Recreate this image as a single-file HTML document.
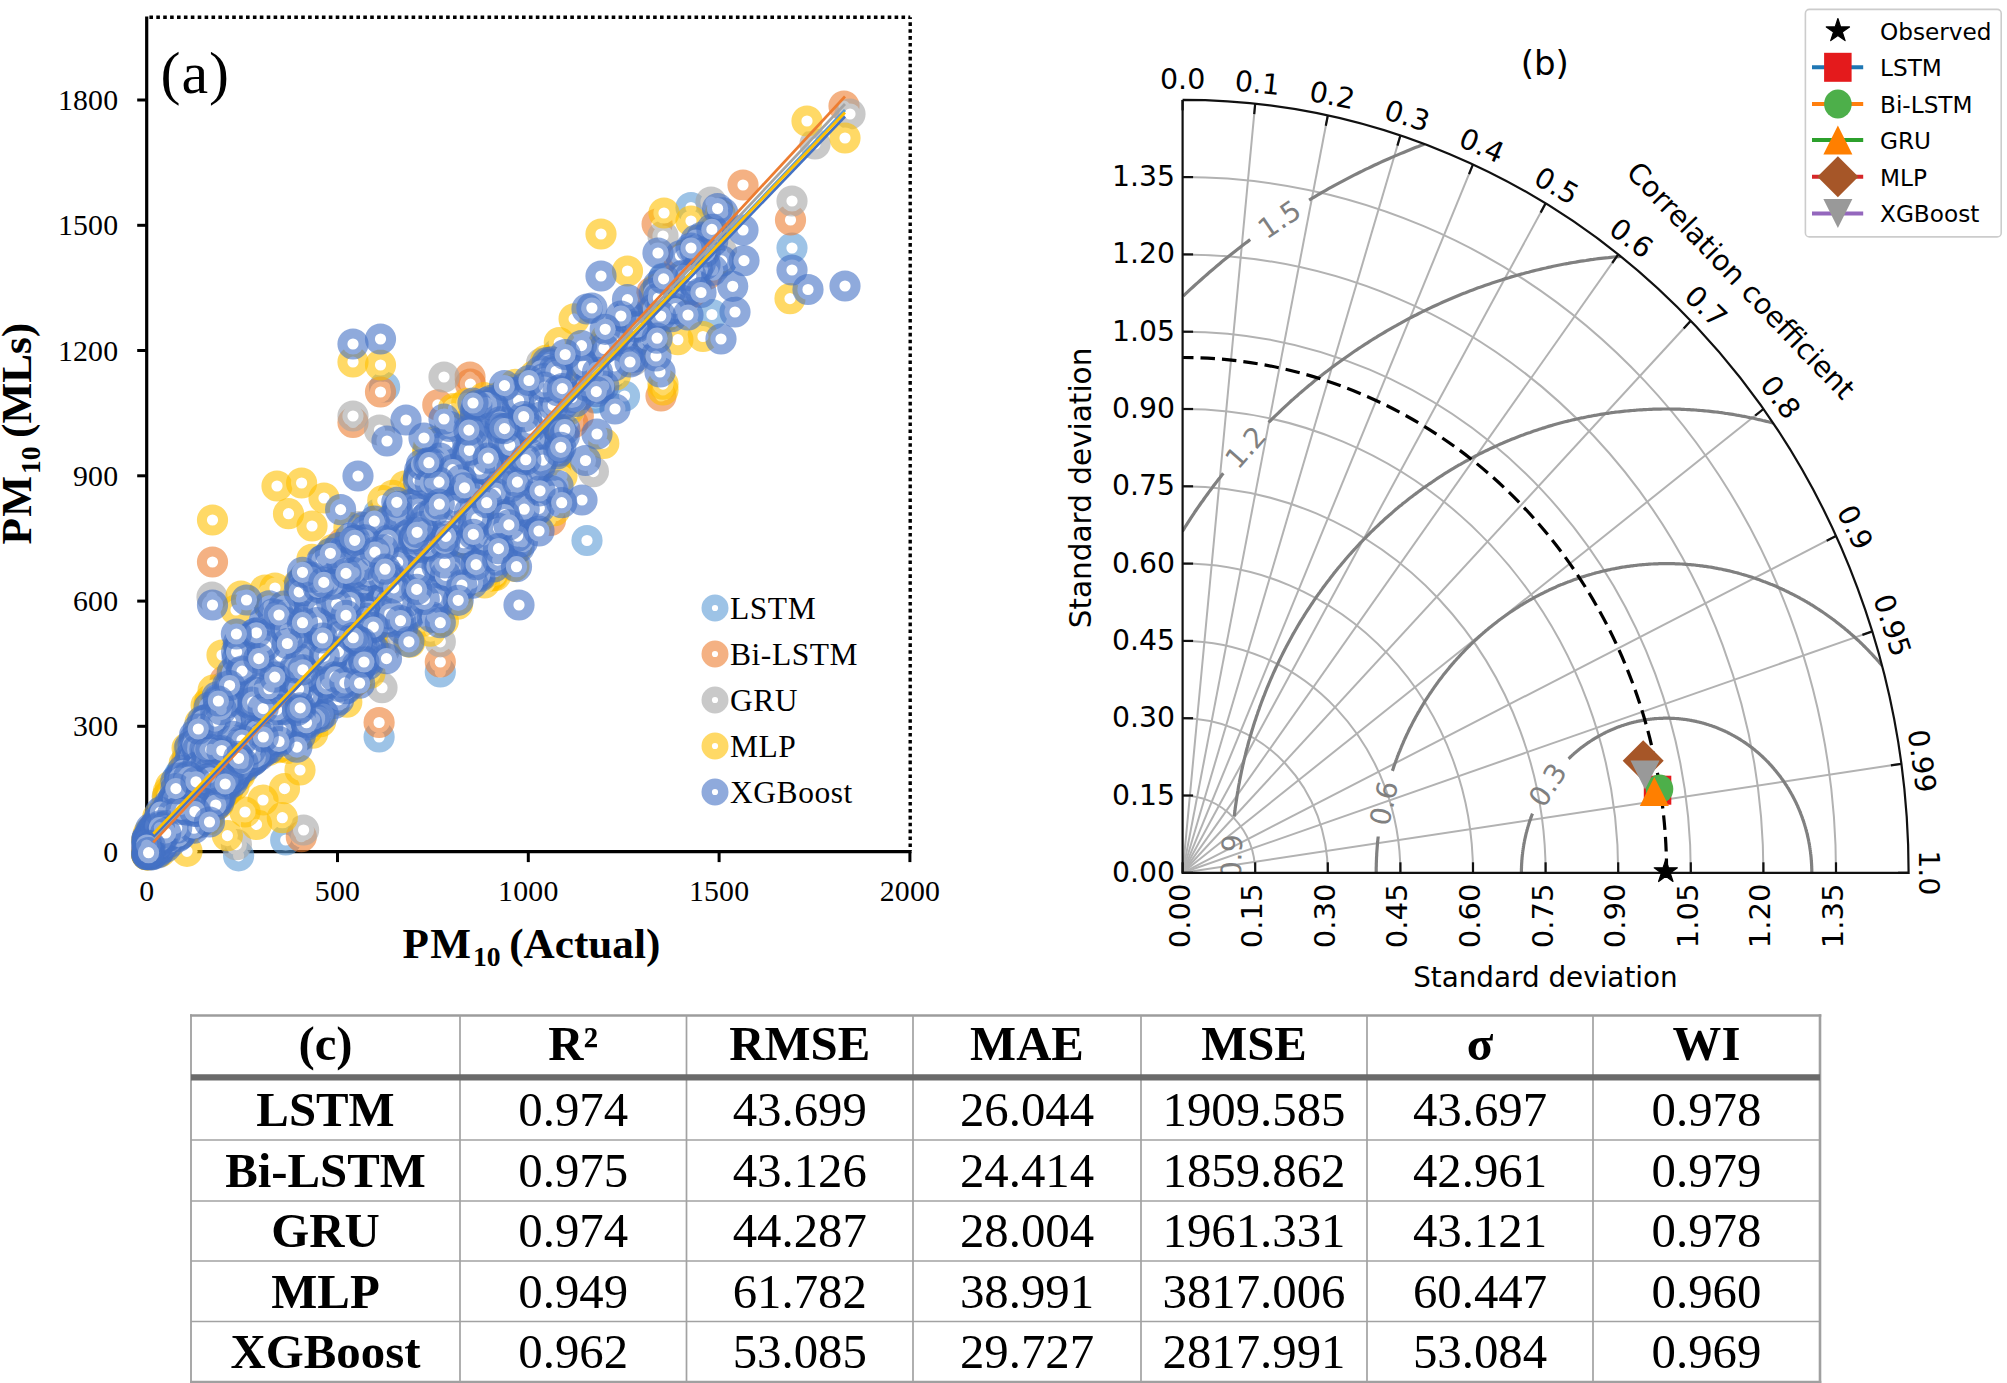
<!DOCTYPE html>
<html lang="en"><head><meta charset="utf-8"><title>Figure</title>
<style>
html,body{margin:0;padding:0;background:#fff;}
body{width:2007px;height:1383px;overflow:hidden;}
svg{display:block;}
.ser{font-family:"Liberation Serif",serif;}
.san{font-family:"DejaVu Sans","Liberation Sans",sans-serif;}
</style></head><body>
<svg width="2007" height="1383" viewBox="0 0 2007 1383">
<rect width="2007" height="1383" fill="#fff"/>
<g id="scatter">
<path d="M910.2 17.2 H148" fill="none" stroke="#000" stroke-width="3.4" stroke-dasharray="3.6 3.3" stroke-dashoffset="1.8"/><path d="M910.2 17.2 V851" fill="none" stroke="#000" stroke-width="3.4" stroke-dasharray="3.6 3.3" stroke-dashoffset="1.8"/>
<path d="M146.7 16.5 V851.6 H911.5" fill="none" stroke="#000" stroke-width="3.2"/>
<g stroke="#000" stroke-width="3">
<path d="M146.7 851.6 v10.5"/>
<path d="M337.5 851.6 v10.5"/>
<path d="M528.3 851.6 v10.5"/>
<path d="M719.1 851.6 v10.5"/>
<path d="M909.9 851.6 v10.5"/>
<path d="M146.7 851.6 h-9.5"/>
<path d="M146.7 726.3 h-9.5"/>
<path d="M146.7 601.1 h-9.5"/>
<path d="M146.7 475.8 h-9.5"/>
<path d="M146.7 350.5 h-9.5"/>
<path d="M146.7 225.3 h-9.5"/>
<path d="M146.7 100 h-9.5"/>
</g>
<g fill="#fff" stroke="#5B9BD5" stroke-opacity="0.6" stroke-width="10">
<circle cx="514.1" cy="429.8" r="10.6"/><circle cx="502.2" cy="552.3" r="10.6"/><circle cx="540.6" cy="412.6" r="10.6"/><circle cx="334.1" cy="594.4" r="10.6"/><circle cx="340.7" cy="644.4" r="10.6"/><circle cx="553.8" cy="379.9" r="10.6"/><circle cx="181.4" cy="785.7" r="10.6"/><circle cx="188" cy="805.8" r="10.6"/><circle cx="155.4" cy="842.9" r="10.6"/><circle cx="319.3" cy="675.7" r="10.6"/><circle cx="233.9" cy="692.3" r="10.6"/><circle cx="460.3" cy="564.7" r="10.6"/><circle cx="499.1" cy="454.9" r="10.6"/><circle cx="269.5" cy="656.8" r="10.6"/><circle cx="159.5" cy="836.7" r="10.6"/><circle cx="481.3" cy="567.5" r="10.6"/><circle cx="538.9" cy="413.6" r="10.6"/><circle cx="324.7" cy="677.1" r="10.6"/><circle cx="248.5" cy="678.8" r="10.6"/><circle cx="199.3" cy="755.1" r="10.6"/><circle cx="254.2" cy="741.5" r="10.6"/><circle cx="292.1" cy="676.9" r="10.6"/><circle cx="225.9" cy="772" r="10.6"/><circle cx="187" cy="758.7" r="10.6"/><circle cx="399.4" cy="558.7" r="10.6"/><circle cx="472.1" cy="571.7" r="10.6"/><circle cx="453.2" cy="424.8" r="10.6"/><circle cx="414.4" cy="542.6" r="10.6"/><circle cx="246" cy="748.5" r="10.6"/><circle cx="258.6" cy="638" r="10.6"/><circle cx="267.1" cy="696.3" r="10.6"/><circle cx="233.6" cy="766" r="10.6"/><circle cx="302.8" cy="630.5" r="10.6"/><circle cx="501.9" cy="414.7" r="10.6"/><circle cx="553.7" cy="395.3" r="10.6"/><circle cx="510" cy="398.7" r="10.6"/><circle cx="721.4" cy="261.2" r="10.6"/><circle cx="336.3" cy="673.9" r="10.6"/><circle cx="172.8" cy="836.8" r="10.6"/><circle cx="468.2" cy="538.9" r="10.6"/><circle cx="425.6" cy="502.7" r="10.6"/><circle cx="198.9" cy="770.5" r="10.6"/><circle cx="361.5" cy="589.9" r="10.6"/><circle cx="476.6" cy="474.1" r="10.6"/><circle cx="233" cy="765.9" r="10.6"/><circle cx="351.2" cy="630.5" r="10.6"/><circle cx="223" cy="783.1" r="10.6"/><circle cx="289" cy="705.7" r="10.6"/><circle cx="454.3" cy="574.8" r="10.6"/><circle cx="591.2" cy="359.5" r="10.6"/><circle cx="256.5" cy="741.8" r="10.6"/><circle cx="222.6" cy="763.2" r="10.6"/><circle cx="156.5" cy="838.4" r="10.6"/><circle cx="344.5" cy="634.3" r="10.6"/><circle cx="353.4" cy="614.1" r="10.6"/><circle cx="166.3" cy="821.3" r="10.6"/><circle cx="166.2" cy="820" r="10.6"/><circle cx="415.2" cy="557.9" r="10.6"/><circle cx="192.5" cy="810.2" r="10.6"/><circle cx="659.9" cy="331.5" r="10.6"/><circle cx="229" cy="746.3" r="10.6"/><circle cx="298.2" cy="714.8" r="10.6"/><circle cx="635.3" cy="344.2" r="10.6"/><circle cx="275.2" cy="722.2" r="10.6"/><circle cx="392.2" cy="602.7" r="10.6"/><circle cx="208.3" cy="727.4" r="10.6"/><circle cx="500.2" cy="438.7" r="10.6"/><circle cx="256.7" cy="742.9" r="10.6"/><circle cx="187" cy="788.7" r="10.6"/><circle cx="466.9" cy="464.9" r="10.6"/><circle cx="149" cy="852.2" r="10.6"/><circle cx="306" cy="638.4" r="10.6"/><circle cx="229.8" cy="778.9" r="10.6"/><circle cx="573.4" cy="382.4" r="10.6"/><circle cx="287.5" cy="611.7" r="10.6"/><circle cx="344.9" cy="640" r="10.6"/><circle cx="441" cy="535.6" r="10.6"/><circle cx="715" cy="229.3" r="10.6"/><circle cx="207.1" cy="806.4" r="10.6"/><circle cx="173.8" cy="829.2" r="10.6"/><circle cx="286.9" cy="644.5" r="10.6"/><circle cx="270.2" cy="673.5" r="10.6"/><circle cx="150.5" cy="840.2" r="10.6"/><circle cx="271.5" cy="724.9" r="10.6"/><circle cx="151.1" cy="831.2" r="10.6"/><circle cx="248.2" cy="728.5" r="10.6"/><circle cx="455.8" cy="493.5" r="10.6"/><circle cx="219.4" cy="783.8" r="10.6"/><circle cx="328.6" cy="584.7" r="10.6"/><circle cx="494.8" cy="452.3" r="10.6"/><circle cx="305.5" cy="671.4" r="10.6"/><circle cx="191.7" cy="794" r="10.6"/><circle cx="451.9" cy="522.4" r="10.6"/><circle cx="225.6" cy="774.1" r="10.6"/><circle cx="309.8" cy="650.6" r="10.6"/><circle cx="192.6" cy="807.4" r="10.6"/><circle cx="342.8" cy="587.1" r="10.6"/><circle cx="175.5" cy="834.6" r="10.6"/><circle cx="281.8" cy="684.2" r="10.6"/><circle cx="286.8" cy="692.6" r="10.6"/><circle cx="248.7" cy="737.8" r="10.6"/><circle cx="188.1" cy="773.9" r="10.6"/><circle cx="278.6" cy="660.6" r="10.6"/><circle cx="303.5" cy="664.6" r="10.6"/><circle cx="244.6" cy="767.4" r="10.6"/><circle cx="340.6" cy="680.5" r="10.6"/><circle cx="164.4" cy="836" r="10.6"/><circle cx="530.1" cy="393" r="10.6"/><circle cx="271.2" cy="724.9" r="10.6"/><circle cx="492.4" cy="456.1" r="10.6"/><circle cx="351.6" cy="682.6" r="10.6"/><circle cx="200.1" cy="820" r="10.6"/><circle cx="248.5" cy="751.2" r="10.6"/><circle cx="543.9" cy="404.9" r="10.6"/><circle cx="336.1" cy="663.1" r="10.6"/><circle cx="389.1" cy="531.8" r="10.6"/><circle cx="409.5" cy="542.9" r="10.6"/><circle cx="475.1" cy="543.6" r="10.6"/><circle cx="316.8" cy="575.6" r="10.6"/><circle cx="169.3" cy="816.1" r="10.6"/><circle cx="421.1" cy="596" r="10.6"/><circle cx="247.4" cy="715.7" r="10.6"/><circle cx="230.5" cy="768.3" r="10.6"/><circle cx="182" cy="771.3" r="10.6"/><circle cx="291.5" cy="683.2" r="10.6"/><circle cx="297" cy="689" r="10.6"/><circle cx="258" cy="699" r="10.6"/><circle cx="463.1" cy="445.8" r="10.6"/><circle cx="502.6" cy="492.1" r="10.6"/><circle cx="359.4" cy="617.7" r="10.6"/><circle cx="278.7" cy="653.3" r="10.6"/><circle cx="200.7" cy="819.9" r="10.6"/><circle cx="349.9" cy="644.9" r="10.6"/><circle cx="288.4" cy="712.2" r="10.6"/><circle cx="540.5" cy="420.2" r="10.6"/><circle cx="175.9" cy="796.7" r="10.6"/><circle cx="214.5" cy="803.6" r="10.6"/><circle cx="299.9" cy="601.8" r="10.6"/><circle cx="440.9" cy="531.4" r="10.6"/><circle cx="263.1" cy="736.8" r="10.6"/><circle cx="282.5" cy="668.7" r="10.6"/><circle cx="495.3" cy="465.3" r="10.6"/><circle cx="293.4" cy="709.9" r="10.6"/><circle cx="334.7" cy="600.7" r="10.6"/><circle cx="484.5" cy="421.3" r="10.6"/><circle cx="689.3" cy="251.3" r="10.6"/><circle cx="163.4" cy="833.6" r="10.6"/><circle cx="228.5" cy="750.5" r="10.6"/><circle cx="264.4" cy="739.1" r="10.6"/><circle cx="224" cy="770.5" r="10.6"/><circle cx="232.1" cy="769.9" r="10.6"/><circle cx="435.4" cy="553.2" r="10.6"/><circle cx="294.4" cy="709.5" r="10.6"/><circle cx="311.3" cy="619.5" r="10.6"/><circle cx="170.8" cy="795" r="10.6"/><circle cx="280.9" cy="683.1" r="10.6"/><circle cx="245" cy="650.5" r="10.6"/><circle cx="203.6" cy="805.3" r="10.6"/><circle cx="321.8" cy="661.1" r="10.6"/><circle cx="262.1" cy="735.2" r="10.6"/><circle cx="249.6" cy="719.2" r="10.6"/><circle cx="246.4" cy="744.7" r="10.6"/><circle cx="347.1" cy="611.5" r="10.6"/><circle cx="286.7" cy="617.6" r="10.6"/><circle cx="394.3" cy="611.8" r="10.6"/><circle cx="181.2" cy="824.8" r="10.6"/><circle cx="264.2" cy="699.4" r="10.6"/><circle cx="196.7" cy="809" r="10.6"/><circle cx="330.1" cy="585.2" r="10.6"/><circle cx="341.6" cy="689.9" r="10.6"/><circle cx="301.3" cy="624.2" r="10.6"/><circle cx="439.2" cy="544.9" r="10.6"/><circle cx="240.9" cy="722.3" r="10.6"/><circle cx="336.3" cy="644.2" r="10.6"/><circle cx="197.8" cy="784.8" r="10.6"/><circle cx="517" cy="487.3" r="10.6"/><circle cx="351.5" cy="661.4" r="10.6"/><circle cx="308.2" cy="647.9" r="10.6"/><circle cx="185" cy="807.6" r="10.6"/><circle cx="180.2" cy="773.9" r="10.6"/><circle cx="379.4" cy="569.5" r="10.6"/><circle cx="488.9" cy="403.2" r="10.6"/><circle cx="179.1" cy="793.6" r="10.6"/><circle cx="176.2" cy="786.1" r="10.6"/><circle cx="428.5" cy="597.5" r="10.6"/><circle cx="157.5" cy="829.9" r="10.6"/><circle cx="259.9" cy="737.5" r="10.6"/><circle cx="366" cy="607.7" r="10.6"/><circle cx="200.4" cy="795.4" r="10.6"/><circle cx="342" cy="616.6" r="10.6"/><circle cx="695.1" cy="272.2" r="10.6"/><circle cx="203.2" cy="770.8" r="10.6"/><circle cx="237.9" cy="753.9" r="10.6"/><circle cx="499.2" cy="523.9" r="10.6"/><circle cx="607.1" cy="380.3" r="10.6"/><circle cx="229.3" cy="763" r="10.6"/><circle cx="155.8" cy="843.1" r="10.6"/><circle cx="247" cy="752.6" r="10.6"/><circle cx="232.2" cy="778.2" r="10.6"/><circle cx="173" cy="789.3" r="10.6"/><circle cx="162.8" cy="839.2" r="10.6"/><circle cx="482.8" cy="532.5" r="10.6"/><circle cx="482.9" cy="518.1" r="10.6"/><circle cx="270.5" cy="713.5" r="10.6"/><circle cx="169.9" cy="833.7" r="10.6"/><circle cx="487.6" cy="554.3" r="10.6"/><circle cx="438.6" cy="604.9" r="10.6"/><circle cx="351.2" cy="684" r="10.6"/><circle cx="318.6" cy="683.7" r="10.6"/><circle cx="235.7" cy="669.9" r="10.6"/><circle cx="178.2" cy="815.3" r="10.6"/><circle cx="205.5" cy="753.6" r="10.6"/><circle cx="492" cy="534.8" r="10.6"/><circle cx="148" cy="845.8" r="10.6"/><circle cx="251.5" cy="742.1" r="10.6"/><circle cx="482.8" cy="478.1" r="10.6"/><circle cx="529.7" cy="397.1" r="10.6"/><circle cx="551.7" cy="385.4" r="10.6"/><circle cx="238.6" cy="753.5" r="10.6"/><circle cx="262.5" cy="678.9" r="10.6"/><circle cx="195.5" cy="799.2" r="10.6"/><circle cx="242.9" cy="751.4" r="10.6"/><circle cx="284.1" cy="715.9" r="10.6"/><circle cx="385.1" cy="614.6" r="10.6"/><circle cx="226.7" cy="725.1" r="10.6"/><circle cx="327.4" cy="697.6" r="10.6"/><circle cx="554.3" cy="496.6" r="10.6"/><circle cx="505.8" cy="398.8" r="10.6"/><circle cx="211.7" cy="763.2" r="10.6"/><circle cx="224.9" cy="780.4" r="10.6"/><circle cx="494.5" cy="481.3" r="10.6"/><circle cx="179.6" cy="778.4" r="10.6"/><circle cx="441.6" cy="553.9" r="10.6"/><circle cx="263.5" cy="630" r="10.6"/><circle cx="243" cy="749.7" r="10.6"/><circle cx="380.3" cy="645.9" r="10.6"/><circle cx="273.2" cy="705.2" r="10.6"/><circle cx="150.3" cy="840.7" r="10.6"/><circle cx="456" cy="565.6" r="10.6"/><circle cx="309.1" cy="595.6" r="10.6"/><circle cx="676.6" cy="290" r="10.6"/><circle cx="322.9" cy="578" r="10.6"/><circle cx="248.7" cy="737.8" r="10.6"/><circle cx="299.1" cy="697.5" r="10.6"/><circle cx="538.5" cy="456" r="10.6"/><circle cx="544.5" cy="487.6" r="10.6"/><circle cx="324.8" cy="608.4" r="10.6"/><circle cx="228.7" cy="772.1" r="10.6"/><circle cx="156.5" cy="849.3" r="10.6"/><circle cx="150.2" cy="835.8" r="10.6"/><circle cx="443.2" cy="479.3" r="10.6"/><circle cx="268.2" cy="634.9" r="10.6"/><circle cx="605.8" cy="384.9" r="10.6"/><circle cx="663.7" cy="277.8" r="10.6"/><circle cx="304.4" cy="635.8" r="10.6"/><circle cx="325.1" cy="566.9" r="10.6"/><circle cx="214.6" cy="780.9" r="10.6"/><circle cx="544.2" cy="385.6" r="10.6"/><circle cx="257.6" cy="679.5" r="10.6"/><circle cx="536.8" cy="384.1" r="10.6"/><circle cx="357.8" cy="563.3" r="10.6"/><circle cx="353.5" cy="630.6" r="10.6"/><circle cx="151.7" cy="841" r="10.6"/><circle cx="219.9" cy="796" r="10.6"/><circle cx="532.2" cy="409.7" r="10.6"/><circle cx="408.7" cy="630.1" r="10.6"/><circle cx="276.5" cy="719.2" r="10.6"/><circle cx="519.2" cy="433.5" r="10.6"/><circle cx="235.6" cy="758.2" r="10.6"/><circle cx="320.9" cy="694.8" r="10.6"/><circle cx="172.2" cy="832" r="10.6"/><circle cx="592.5" cy="357.2" r="10.6"/><circle cx="495.6" cy="495.1" r="10.6"/><circle cx="451.4" cy="585.5" r="10.6"/><circle cx="223.6" cy="687.2" r="10.6"/><circle cx="360.1" cy="594" r="10.6"/><circle cx="470.1" cy="492.1" r="10.6"/><circle cx="232.8" cy="760" r="10.6"/><circle cx="554.1" cy="439.4" r="10.6"/><circle cx="201.3" cy="794.2" r="10.6"/><circle cx="286" cy="679.8" r="10.6"/><circle cx="329.7" cy="636.3" r="10.6"/><circle cx="259.7" cy="734.3" r="10.6"/><circle cx="311.5" cy="679.2" r="10.6"/><circle cx="420.8" cy="503.5" r="10.6"/><circle cx="188" cy="768.1" r="10.6"/><circle cx="178.8" cy="798.4" r="10.6"/><circle cx="707.2" cy="246.1" r="10.6"/><circle cx="170.7" cy="821.7" r="10.6"/><circle cx="362.8" cy="558.8" r="10.6"/><circle cx="177" cy="826.4" r="10.6"/><circle cx="598.7" cy="390.2" r="10.6"/><circle cx="304.8" cy="679.1" r="10.6"/><circle cx="203.9" cy="758.9" r="10.6"/><circle cx="397.5" cy="574.6" r="10.6"/><circle cx="503.4" cy="464.3" r="10.6"/><circle cx="363.4" cy="671.9" r="10.6"/><circle cx="153.4" cy="839.6" r="10.6"/><circle cx="339.1" cy="629.9" r="10.6"/><circle cx="180.8" cy="821" r="10.6"/><circle cx="215" cy="795.1" r="10.6"/><circle cx="224.8" cy="727.3" r="10.6"/><circle cx="208.2" cy="805.1" r="10.6"/><circle cx="595.5" cy="397.4" r="10.6"/><circle cx="207.2" cy="799.1" r="10.6"/><circle cx="528.8" cy="444.7" r="10.6"/><circle cx="273" cy="682.4" r="10.6"/><circle cx="209.3" cy="815.7" r="10.6"/><circle cx="320.9" cy="658.4" r="10.6"/><circle cx="210.6" cy="792.9" r="10.6"/><circle cx="215.5" cy="780.1" r="10.6"/><circle cx="456.5" cy="521.1" r="10.6"/><circle cx="285.1" cy="639.5" r="10.6"/><circle cx="321.6" cy="661.1" r="10.6"/><circle cx="314.2" cy="582.9" r="10.6"/><circle cx="306.1" cy="654" r="10.6"/><circle cx="217.6" cy="723.7" r="10.6"/><circle cx="337.2" cy="677.8" r="10.6"/><circle cx="354.2" cy="653.5" r="10.6"/><circle cx="207.5" cy="786.4" r="10.6"/><circle cx="204" cy="734.2" r="10.6"/><circle cx="367" cy="616.5" r="10.6"/><circle cx="246.7" cy="760.3" r="10.6"/><circle cx="497.3" cy="459.2" r="10.6"/><circle cx="241.5" cy="768.1" r="10.6"/><circle cx="474.8" cy="545.1" r="10.6"/><circle cx="682" cy="273.6" r="10.6"/><circle cx="547.5" cy="486.9" r="10.6"/><circle cx="362" cy="594.1" r="10.6"/><circle cx="481.3" cy="564.1" r="10.6"/><circle cx="207.5" cy="774.5" r="10.6"/><circle cx="438.5" cy="481.6" r="10.6"/><circle cx="405.4" cy="532.5" r="10.6"/><circle cx="225.8" cy="753.5" r="10.6"/><circle cx="294.4" cy="726" r="10.6"/><circle cx="452.8" cy="589.7" r="10.6"/><circle cx="235.5" cy="692.6" r="10.6"/><circle cx="390.3" cy="641.3" r="10.6"/><circle cx="437.8" cy="587.3" r="10.6"/><circle cx="603.1" cy="368.1" r="10.6"/><circle cx="220.6" cy="785.6" r="10.6"/><circle cx="637.6" cy="351" r="10.6"/><circle cx="223" cy="780.5" r="10.6"/><circle cx="281.4" cy="730.3" r="10.6"/><circle cx="380" cy="566.7" r="10.6"/><circle cx="225.9" cy="775.7" r="10.6"/><circle cx="155.3" cy="845.8" r="10.6"/><circle cx="260.1" cy="722" r="10.6"/><circle cx="227.6" cy="770.1" r="10.6"/><circle cx="160.6" cy="840" r="10.6"/><circle cx="360.5" cy="528.8" r="10.6"/><circle cx="153.8" cy="848.5" r="10.6"/><circle cx="177.5" cy="778.6" r="10.6"/><circle cx="559.2" cy="406.4" r="10.6"/><circle cx="456.3" cy="507.6" r="10.6"/><circle cx="470" cy="481.5" r="10.6"/><circle cx="361.9" cy="544.8" r="10.6"/><circle cx="467.9" cy="514.8" r="10.6"/><circle cx="205" cy="790.6" r="10.6"/><circle cx="511.4" cy="494" r="10.6"/><circle cx="195.7" cy="818.6" r="10.6"/><circle cx="463.7" cy="491.5" r="10.6"/><circle cx="158.1" cy="852.2" r="10.6"/><circle cx="170.6" cy="834.6" r="10.6"/><circle cx="381.7" cy="625" r="10.6"/><circle cx="206.6" cy="804.8" r="10.6"/><circle cx="534.2" cy="432.4" r="10.6"/><circle cx="434.3" cy="584.1" r="10.6"/><circle cx="187.9" cy="763.7" r="10.6"/><circle cx="250.2" cy="682.4" r="10.6"/><circle cx="263.9" cy="670.7" r="10.6"/><circle cx="362" cy="574.4" r="10.6"/><circle cx="308.2" cy="579.8" r="10.6"/><circle cx="499.7" cy="551.6" r="10.6"/><circle cx="181.6" cy="824.2" r="10.6"/><circle cx="393" cy="545.4" r="10.6"/><circle cx="457.4" cy="491.5" r="10.6"/><circle cx="305.3" cy="608.3" r="10.6"/><circle cx="206.2" cy="790.9" r="10.6"/><circle cx="167.8" cy="835.7" r="10.6"/><circle cx="464.6" cy="437.1" r="10.6"/><circle cx="199.2" cy="815" r="10.6"/><circle cx="201.4" cy="819.8" r="10.6"/><circle cx="265" cy="736.6" r="10.6"/><circle cx="395.7" cy="628.6" r="10.6"/><circle cx="339.2" cy="556.4" r="10.6"/><circle cx="169.9" cy="813.5" r="10.6"/><circle cx="256.1" cy="753.3" r="10.6"/><circle cx="358.3" cy="592.5" r="10.6"/><circle cx="293" cy="724.6" r="10.6"/><circle cx="275.4" cy="739.9" r="10.6"/><circle cx="284.4" cy="731.8" r="10.6"/><circle cx="454" cy="567.8" r="10.6"/><circle cx="459.5" cy="518.9" r="10.6"/><circle cx="479.9" cy="490.3" r="10.6"/><circle cx="493.6" cy="543.4" r="10.6"/><circle cx="500.2" cy="472.7" r="10.6"/><circle cx="368.3" cy="581.1" r="10.6"/><circle cx="462.4" cy="497.7" r="10.6"/><circle cx="383" cy="569.6" r="10.6"/><circle cx="512.2" cy="464.3" r="10.6"/><circle cx="336.7" cy="646.6" r="10.6"/><circle cx="177.5" cy="792.9" r="10.6"/><circle cx="235.4" cy="664.5" r="10.6"/><circle cx="388.5" cy="592.2" r="10.6"/><circle cx="259.3" cy="669.9" r="10.6"/><circle cx="181.2" cy="801.6" r="10.6"/><circle cx="331.3" cy="566.8" r="10.6"/><circle cx="289.8" cy="704.2" r="10.6"/><circle cx="184.9" cy="800.9" r="10.6"/><circle cx="276.4" cy="657.3" r="10.6"/><circle cx="236.2" cy="768.3" r="10.6"/><circle cx="181.6" cy="806.1" r="10.6"/><circle cx="378.7" cy="513.6" r="10.6"/><circle cx="315.7" cy="671.9" r="10.6"/><circle cx="275.3" cy="664.5" r="10.6"/><circle cx="304.9" cy="676.7" r="10.6"/><circle cx="406.4" cy="610.4" r="10.6"/><circle cx="441" cy="487.1" r="10.6"/><circle cx="342.3" cy="562.5" r="10.6"/><circle cx="391.4" cy="622.7" r="10.6"/><circle cx="474.9" cy="552.1" r="10.6"/><circle cx="227.8" cy="772.8" r="10.6"/><circle cx="335.9" cy="597.1" r="10.6"/><circle cx="148.5" cy="851.4" r="10.6"/><circle cx="288.5" cy="705.4" r="10.6"/><circle cx="465.4" cy="505.5" r="10.6"/><circle cx="208.9" cy="816" r="10.6"/><circle cx="214.3" cy="743" r="10.6"/><circle cx="424" cy="585.1" r="10.6"/><circle cx="305.7" cy="614.9" r="10.6"/><circle cx="182.7" cy="820.6" r="10.6"/><circle cx="245.1" cy="668" r="10.6"/><circle cx="322.2" cy="633.3" r="10.6"/><circle cx="477.7" cy="547.5" r="10.6"/><circle cx="595.5" cy="398.1" r="10.6"/><circle cx="557.4" cy="353.8" r="10.6"/><circle cx="486.1" cy="490.1" r="10.6"/><circle cx="332.6" cy="699.9" r="10.6"/><circle cx="423" cy="605.1" r="10.6"/><circle cx="229.8" cy="781.6" r="10.6"/><circle cx="285.7" cy="840" r="10.6"/><circle cx="238.6" cy="855.8" r="10.6"/><circle cx="379.1" cy="737" r="10.6"/><circle cx="440.3" cy="672" r="10.6"/><circle cx="792" cy="248" r="10.6"/><circle cx="587" cy="540.5" r="10.6"/><circle cx="384.6" cy="387" r="10.6"/><circle cx="691" cy="207.5" r="10.6"/><circle cx="711.9" cy="314.5" r="10.6"/><circle cx="624.5" cy="396" r="10.6"/>
</g>
<g fill="#fff" stroke="#ED7D31" stroke-opacity="0.6" stroke-width="10">
<circle cx="285.6" cy="723.4" r="10.6"/><circle cx="527.2" cy="424.6" r="10.6"/><circle cx="324.4" cy="658.5" r="10.6"/><circle cx="406.9" cy="600.9" r="10.6"/><circle cx="333.9" cy="697.5" r="10.6"/><circle cx="578.3" cy="416.1" r="10.6"/><circle cx="160.5" cy="820.6" r="10.6"/><circle cx="257.7" cy="642.6" r="10.6"/><circle cx="220.2" cy="761.2" r="10.6"/><circle cx="463.6" cy="458.6" r="10.6"/><circle cx="222.6" cy="758.8" r="10.6"/><circle cx="283.5" cy="626.2" r="10.6"/><circle cx="469.8" cy="486.8" r="10.6"/><circle cx="220.2" cy="710.8" r="10.6"/><circle cx="243.5" cy="722.3" r="10.6"/><circle cx="189.1" cy="786.7" r="10.6"/><circle cx="312.8" cy="644.5" r="10.6"/><circle cx="372.8" cy="579.7" r="10.6"/><circle cx="300.5" cy="595.4" r="10.6"/><circle cx="211.1" cy="782.3" r="10.6"/><circle cx="409.6" cy="493.9" r="10.6"/><circle cx="400.7" cy="599" r="10.6"/><circle cx="309.1" cy="580.9" r="10.6"/><circle cx="366.9" cy="657" r="10.6"/><circle cx="204.5" cy="754.3" r="10.6"/><circle cx="161.9" cy="835.1" r="10.6"/><circle cx="356.3" cy="566.8" r="10.6"/><circle cx="327.9" cy="660" r="10.6"/><circle cx="391.4" cy="638.3" r="10.6"/><circle cx="232.3" cy="768.4" r="10.6"/><circle cx="551.8" cy="417.2" r="10.6"/><circle cx="324.8" cy="656.8" r="10.6"/><circle cx="399.9" cy="563.3" r="10.6"/><circle cx="232.4" cy="762.4" r="10.6"/><circle cx="185.2" cy="793.9" r="10.6"/><circle cx="432.6" cy="582.7" r="10.6"/><circle cx="482" cy="514.5" r="10.6"/><circle cx="368.6" cy="534.8" r="10.6"/><circle cx="290.3" cy="601.8" r="10.6"/><circle cx="430.2" cy="529.4" r="10.6"/><circle cx="250.6" cy="642.7" r="10.6"/><circle cx="260.5" cy="746.2" r="10.6"/><circle cx="258.3" cy="709.5" r="10.6"/><circle cx="508.9" cy="418" r="10.6"/><circle cx="415.2" cy="507.9" r="10.6"/><circle cx="187.5" cy="824.3" r="10.6"/><circle cx="503.4" cy="432.7" r="10.6"/><circle cx="480" cy="449.9" r="10.6"/><circle cx="491.3" cy="533" r="10.6"/><circle cx="529.2" cy="428.8" r="10.6"/><circle cx="410.2" cy="578.6" r="10.6"/><circle cx="299.9" cy="679.6" r="10.6"/><circle cx="184.1" cy="775.5" r="10.6"/><circle cx="180.7" cy="799.9" r="10.6"/><circle cx="273.5" cy="732.4" r="10.6"/><circle cx="392.6" cy="629.2" r="10.6"/><circle cx="243.1" cy="750.6" r="10.6"/><circle cx="354.2" cy="547.8" r="10.6"/><circle cx="219.6" cy="782.4" r="10.6"/><circle cx="167" cy="836.9" r="10.6"/><circle cx="316.9" cy="671.5" r="10.6"/><circle cx="390.4" cy="593" r="10.6"/><circle cx="558" cy="386.4" r="10.6"/><circle cx="517.6" cy="439.6" r="10.6"/><circle cx="402.9" cy="608.1" r="10.6"/><circle cx="204.1" cy="803.6" r="10.6"/><circle cx="300.6" cy="725.2" r="10.6"/><circle cx="150.8" cy="849.5" r="10.6"/><circle cx="182.3" cy="821.5" r="10.6"/><circle cx="553.7" cy="361.2" r="10.6"/><circle cx="251.5" cy="652.7" r="10.6"/><circle cx="158.5" cy="849.7" r="10.6"/><circle cx="258.2" cy="720.9" r="10.6"/><circle cx="537.8" cy="497.8" r="10.6"/><circle cx="337.3" cy="696.7" r="10.6"/><circle cx="254" cy="754.2" r="10.6"/><circle cx="170.7" cy="814.4" r="10.6"/><circle cx="178.7" cy="797.7" r="10.6"/><circle cx="209.5" cy="743.5" r="10.6"/><circle cx="189.7" cy="774.8" r="10.6"/><circle cx="288.3" cy="732.3" r="10.6"/><circle cx="342.4" cy="654.3" r="10.6"/><circle cx="437.1" cy="544.1" r="10.6"/><circle cx="211.2" cy="744.7" r="10.6"/><circle cx="286.1" cy="674.9" r="10.6"/><circle cx="195" cy="758.2" r="10.6"/><circle cx="192.7" cy="744.7" r="10.6"/><circle cx="328.2" cy="665.4" r="10.6"/><circle cx="218" cy="774.7" r="10.6"/><circle cx="258.2" cy="745.6" r="10.6"/><circle cx="472.3" cy="427" r="10.6"/><circle cx="558.8" cy="355.8" r="10.6"/><circle cx="426.8" cy="543.2" r="10.6"/><circle cx="200" cy="749.4" r="10.6"/><circle cx="523.1" cy="403" r="10.6"/><circle cx="203" cy="799.9" r="10.6"/><circle cx="234.5" cy="743.6" r="10.6"/><circle cx="405.2" cy="575.9" r="10.6"/><circle cx="506.5" cy="415.2" r="10.6"/><circle cx="146.9" cy="848.3" r="10.6"/><circle cx="200.7" cy="794.1" r="10.6"/><circle cx="370.5" cy="582.2" r="10.6"/><circle cx="333.3" cy="680" r="10.6"/><circle cx="543.6" cy="461.2" r="10.6"/><circle cx="173.4" cy="804.8" r="10.6"/><circle cx="320.1" cy="663.7" r="10.6"/><circle cx="149.4" cy="853.6" r="10.6"/><circle cx="240.5" cy="746.3" r="10.6"/><circle cx="320.4" cy="685.4" r="10.6"/><circle cx="217" cy="703" r="10.6"/><circle cx="290.5" cy="692.6" r="10.6"/><circle cx="622" cy="335.8" r="10.6"/><circle cx="194.8" cy="806.4" r="10.6"/><circle cx="193.5" cy="813.4" r="10.6"/><circle cx="298.6" cy="659.8" r="10.6"/><circle cx="518.7" cy="406.2" r="10.6"/><circle cx="265.1" cy="652.8" r="10.6"/><circle cx="195.2" cy="812.8" r="10.6"/><circle cx="234.6" cy="719" r="10.6"/><circle cx="156.6" cy="827.6" r="10.6"/><circle cx="163.7" cy="817.1" r="10.6"/><circle cx="174.3" cy="834.5" r="10.6"/><circle cx="159.3" cy="829.6" r="10.6"/><circle cx="409.4" cy="621.8" r="10.6"/><circle cx="452.7" cy="517.6" r="10.6"/><circle cx="283.6" cy="642" r="10.6"/><circle cx="367.8" cy="611" r="10.6"/><circle cx="625.9" cy="355" r="10.6"/><circle cx="318.9" cy="623.5" r="10.6"/><circle cx="194.8" cy="764.4" r="10.6"/><circle cx="147" cy="853.1" r="10.6"/><circle cx="211.9" cy="763.8" r="10.6"/><circle cx="322.6" cy="629.8" r="10.6"/><circle cx="173.2" cy="835.5" r="10.6"/><circle cx="443" cy="493.1" r="10.6"/><circle cx="707.3" cy="274.1" r="10.6"/><circle cx="393.3" cy="606.6" r="10.6"/><circle cx="290.9" cy="686.3" r="10.6"/><circle cx="506.1" cy="398.2" r="10.6"/><circle cx="275.6" cy="672.2" r="10.6"/><circle cx="405.5" cy="603.5" r="10.6"/><circle cx="351.6" cy="654.9" r="10.6"/><circle cx="148.7" cy="844.3" r="10.6"/><circle cx="375.7" cy="642.5" r="10.6"/><circle cx="387.7" cy="599.7" r="10.6"/><circle cx="295.5" cy="733.8" r="10.6"/><circle cx="314.6" cy="687.8" r="10.6"/><circle cx="555.1" cy="401.2" r="10.6"/><circle cx="215.1" cy="790" r="10.6"/><circle cx="449.3" cy="526.1" r="10.6"/><circle cx="541.6" cy="415.1" r="10.6"/><circle cx="500.8" cy="540.7" r="10.6"/><circle cx="171.4" cy="825" r="10.6"/><circle cx="368.8" cy="592" r="10.6"/><circle cx="690.9" cy="292.9" r="10.6"/><circle cx="286" cy="606.2" r="10.6"/><circle cx="395" cy="549.8" r="10.6"/><circle cx="220.4" cy="774.2" r="10.6"/><circle cx="237.8" cy="689.6" r="10.6"/><circle cx="153.1" cy="851.7" r="10.6"/><circle cx="699.5" cy="245.4" r="10.6"/><circle cx="420.7" cy="549" r="10.6"/><circle cx="170.7" cy="815.5" r="10.6"/><circle cx="299.3" cy="668.7" r="10.6"/><circle cx="323.6" cy="666.3" r="10.6"/><circle cx="434.8" cy="605.5" r="10.6"/><circle cx="234.3" cy="766.7" r="10.6"/><circle cx="279.8" cy="701.1" r="10.6"/><circle cx="296.3" cy="594.9" r="10.6"/><circle cx="236.7" cy="758.1" r="10.6"/><circle cx="307.3" cy="582.9" r="10.6"/><circle cx="186.8" cy="762.4" r="10.6"/><circle cx="321.3" cy="700.3" r="10.6"/><circle cx="226.6" cy="785.3" r="10.6"/><circle cx="703.2" cy="247.3" r="10.6"/><circle cx="149.4" cy="851.5" r="10.6"/><circle cx="316.6" cy="700.2" r="10.6"/><circle cx="286.2" cy="712.8" r="10.6"/><circle cx="303.4" cy="714.3" r="10.6"/><circle cx="352" cy="683.7" r="10.6"/><circle cx="349.7" cy="554.5" r="10.6"/><circle cx="520.9" cy="498.5" r="10.6"/><circle cx="515.2" cy="481.9" r="10.6"/><circle cx="423.5" cy="560.8" r="10.6"/><circle cx="266.8" cy="663.5" r="10.6"/><circle cx="419.5" cy="503.6" r="10.6"/><circle cx="153.6" cy="843.9" r="10.6"/><circle cx="212.8" cy="718" r="10.6"/><circle cx="517.7" cy="493.8" r="10.6"/><circle cx="524.9" cy="440.5" r="10.6"/><circle cx="225.1" cy="680.6" r="10.6"/><circle cx="357.7" cy="677.2" r="10.6"/><circle cx="399.1" cy="526.8" r="10.6"/><circle cx="154.4" cy="845.7" r="10.6"/><circle cx="391.3" cy="591.8" r="10.6"/><circle cx="419.3" cy="522.3" r="10.6"/><circle cx="446.6" cy="524.7" r="10.6"/><circle cx="287.7" cy="648.7" r="10.6"/><circle cx="342.4" cy="599.2" r="10.6"/><circle cx="471.4" cy="474.6" r="10.6"/><circle cx="391.3" cy="562.9" r="10.6"/><circle cx="271.5" cy="721.9" r="10.6"/><circle cx="232" cy="780.8" r="10.6"/><circle cx="362.8" cy="605.4" r="10.6"/><circle cx="285.9" cy="615.5" r="10.6"/><circle cx="245.2" cy="763.2" r="10.6"/><circle cx="465.4" cy="568.8" r="10.6"/><circle cx="192.3" cy="825.3" r="10.6"/><circle cx="150.3" cy="851.3" r="10.6"/><circle cx="210" cy="799.9" r="10.6"/><circle cx="412.7" cy="568.6" r="10.6"/><circle cx="328.9" cy="568.6" r="10.6"/><circle cx="294.8" cy="733.7" r="10.6"/><circle cx="458.6" cy="566.4" r="10.6"/><circle cx="244" cy="757.9" r="10.6"/><circle cx="150.8" cy="851.2" r="10.6"/><circle cx="433.5" cy="455.5" r="10.6"/><circle cx="505.2" cy="464" r="10.6"/><circle cx="345" cy="580.3" r="10.6"/><circle cx="205.3" cy="798.9" r="10.6"/><circle cx="153.8" cy="839.9" r="10.6"/><circle cx="549.9" cy="442.8" r="10.6"/><circle cx="626.3" cy="337" r="10.6"/><circle cx="363.9" cy="635.2" r="10.6"/><circle cx="246.5" cy="755.3" r="10.6"/><circle cx="266.9" cy="703.4" r="10.6"/><circle cx="176.2" cy="795.5" r="10.6"/><circle cx="342.7" cy="645.6" r="10.6"/><circle cx="342.6" cy="543.2" r="10.6"/><circle cx="261.1" cy="753.1" r="10.6"/><circle cx="151.9" cy="848.9" r="10.6"/><circle cx="226.7" cy="720.4" r="10.6"/><circle cx="487.6" cy="515.4" r="10.6"/><circle cx="148.4" cy="854.1" r="10.6"/><circle cx="303" cy="638.9" r="10.6"/><circle cx="302" cy="721.8" r="10.6"/><circle cx="341.6" cy="564.8" r="10.6"/><circle cx="206.3" cy="787.8" r="10.6"/><circle cx="380.2" cy="566.7" r="10.6"/><circle cx="314.9" cy="655.5" r="10.6"/><circle cx="157.8" cy="844.8" r="10.6"/><circle cx="230.9" cy="771" r="10.6"/><circle cx="551.8" cy="449.9" r="10.6"/><circle cx="153.6" cy="848.5" r="10.6"/><circle cx="256.9" cy="714.5" r="10.6"/><circle cx="222.8" cy="740.8" r="10.6"/><circle cx="486.2" cy="520.5" r="10.6"/><circle cx="185.5" cy="824.1" r="10.6"/><circle cx="241.4" cy="751.8" r="10.6"/><circle cx="452.2" cy="523.9" r="10.6"/><circle cx="154.2" cy="847.4" r="10.6"/><circle cx="341.6" cy="662.5" r="10.6"/><circle cx="352.8" cy="590.7" r="10.6"/><circle cx="237.1" cy="770.4" r="10.6"/><circle cx="523.9" cy="455.3" r="10.6"/><circle cx="380.1" cy="536.2" r="10.6"/><circle cx="283.9" cy="712.2" r="10.6"/><circle cx="239.9" cy="759.8" r="10.6"/><circle cx="462.1" cy="561.9" r="10.6"/><circle cx="699.2" cy="273.1" r="10.6"/><circle cx="206.7" cy="767.6" r="10.6"/><circle cx="501.5" cy="437.9" r="10.6"/><circle cx="315.9" cy="659.7" r="10.6"/><circle cx="498.9" cy="539.9" r="10.6"/><circle cx="308.4" cy="583.1" r="10.6"/><circle cx="291.2" cy="718.8" r="10.6"/><circle cx="442.3" cy="512.4" r="10.6"/><circle cx="332.8" cy="688.7" r="10.6"/><circle cx="281.7" cy="719.8" r="10.6"/><circle cx="529.2" cy="486.1" r="10.6"/><circle cx="290.5" cy="683.7" r="10.6"/><circle cx="252.9" cy="742.8" r="10.6"/><circle cx="186.9" cy="805.5" r="10.6"/><circle cx="257.6" cy="755.5" r="10.6"/><circle cx="202.2" cy="731.9" r="10.6"/><circle cx="250.5" cy="736.9" r="10.6"/><circle cx="551" cy="403.1" r="10.6"/><circle cx="176.6" cy="801.5" r="10.6"/><circle cx="285.7" cy="707.1" r="10.6"/><circle cx="256.8" cy="712.1" r="10.6"/><circle cx="148.1" cy="847.2" r="10.6"/><circle cx="220.4" cy="785.2" r="10.6"/><circle cx="217.2" cy="748.3" r="10.6"/><circle cx="343.4" cy="563.2" r="10.6"/><circle cx="490.5" cy="420.1" r="10.6"/><circle cx="275.2" cy="723.7" r="10.6"/><circle cx="331.3" cy="623.7" r="10.6"/><circle cx="205.4" cy="808.3" r="10.6"/><circle cx="149.2" cy="845" r="10.6"/><circle cx="317.3" cy="691" r="10.6"/><circle cx="360.6" cy="558.1" r="10.6"/><circle cx="632.6" cy="314.7" r="10.6"/><circle cx="285.9" cy="711.6" r="10.6"/><circle cx="372.2" cy="651.6" r="10.6"/><circle cx="252.1" cy="740.8" r="10.6"/><circle cx="694.4" cy="281" r="10.6"/><circle cx="369.9" cy="642.2" r="10.6"/><circle cx="662.1" cy="291.2" r="10.6"/><circle cx="184.5" cy="821" r="10.6"/><circle cx="243.9" cy="764.5" r="10.6"/><circle cx="380.1" cy="582.1" r="10.6"/><circle cx="181.4" cy="817.2" r="10.6"/><circle cx="352.4" cy="665.2" r="10.6"/><circle cx="458.8" cy="431.5" r="10.6"/><circle cx="711" cy="235.9" r="10.6"/><circle cx="225.4" cy="700.2" r="10.6"/><circle cx="294.6" cy="633.6" r="10.6"/><circle cx="266.8" cy="733.5" r="10.6"/><circle cx="596.5" cy="361.8" r="10.6"/><circle cx="651.9" cy="292.4" r="10.6"/><circle cx="306.2" cy="720.7" r="10.6"/><circle cx="328" cy="609.8" r="10.6"/><circle cx="519.2" cy="398.1" r="10.6"/><circle cx="247.2" cy="690.4" r="10.6"/><circle cx="284.6" cy="737.5" r="10.6"/><circle cx="283.5" cy="734.9" r="10.6"/><circle cx="293.7" cy="710.9" r="10.6"/><circle cx="167.7" cy="810.8" r="10.6"/><circle cx="177.3" cy="828.2" r="10.6"/><circle cx="587.3" cy="382.3" r="10.6"/><circle cx="171.2" cy="799.1" r="10.6"/><circle cx="337.8" cy="587.9" r="10.6"/><circle cx="267.1" cy="723.6" r="10.6"/><circle cx="278.4" cy="676.2" r="10.6"/><circle cx="405.9" cy="613.3" r="10.6"/><circle cx="207.5" cy="787.3" r="10.6"/><circle cx="347.7" cy="638.5" r="10.6"/><circle cx="450.2" cy="526.4" r="10.6"/><circle cx="292.4" cy="656.2" r="10.6"/><circle cx="267.5" cy="736.9" r="10.6"/><circle cx="189.8" cy="826.2" r="10.6"/><circle cx="287.8" cy="719.2" r="10.6"/><circle cx="332.4" cy="602.7" r="10.6"/><circle cx="282.6" cy="717.6" r="10.6"/><circle cx="234.5" cy="763.9" r="10.6"/><circle cx="281.4" cy="614.5" r="10.6"/><circle cx="193.6" cy="756.9" r="10.6"/><circle cx="540.2" cy="399.9" r="10.6"/><circle cx="214" cy="774" r="10.6"/><circle cx="453.7" cy="429.6" r="10.6"/><circle cx="287.3" cy="707" r="10.6"/><circle cx="317.6" cy="680" r="10.6"/><circle cx="232.5" cy="698.8" r="10.6"/><circle cx="279.2" cy="691.3" r="10.6"/><circle cx="372.4" cy="564.4" r="10.6"/><circle cx="411.6" cy="565.9" r="10.6"/><circle cx="381.8" cy="623.8" r="10.6"/><circle cx="658.3" cy="317.1" r="10.6"/><circle cx="393.7" cy="557.6" r="10.6"/><circle cx="186.8" cy="784" r="10.6"/><circle cx="441.3" cy="508.9" r="10.6"/><circle cx="187.2" cy="822.9" r="10.6"/><circle cx="234.7" cy="769.9" r="10.6"/><circle cx="495.7" cy="503.6" r="10.6"/><circle cx="242" cy="761.5" r="10.6"/><circle cx="152.5" cy="831.4" r="10.6"/><circle cx="181.3" cy="820.7" r="10.6"/><circle cx="258.4" cy="668.1" r="10.6"/><circle cx="152.3" cy="843.5" r="10.6"/><circle cx="246.7" cy="729" r="10.6"/><circle cx="433.3" cy="590.5" r="10.6"/><circle cx="235.4" cy="697.1" r="10.6"/><circle cx="184.2" cy="773.3" r="10.6"/><circle cx="540" cy="452.8" r="10.6"/><circle cx="656.4" cy="313.7" r="10.6"/><circle cx="203.4" cy="786.6" r="10.6"/><circle cx="430.2" cy="522.6" r="10.6"/><circle cx="279.2" cy="685.5" r="10.6"/><circle cx="270.5" cy="717.4" r="10.6"/><circle cx="248.2" cy="711.1" r="10.6"/><circle cx="339.7" cy="657.1" r="10.6"/><circle cx="179.3" cy="817.6" r="10.6"/><circle cx="214.4" cy="790.6" r="10.6"/><circle cx="156.7" cy="828.4" r="10.6"/><circle cx="255.7" cy="699.2" r="10.6"/><circle cx="368.2" cy="609.4" r="10.6"/><circle cx="287.2" cy="689.7" r="10.6"/><circle cx="362.5" cy="530.3" r="10.6"/><circle cx="226.7" cy="779.9" r="10.6"/><circle cx="225" cy="763.2" r="10.6"/><circle cx="369.2" cy="652.1" r="10.6"/><circle cx="563.2" cy="405.9" r="10.6"/><circle cx="151.6" cy="846.4" r="10.6"/><circle cx="548.5" cy="438.4" r="10.6"/><circle cx="201.1" cy="806" r="10.6"/><circle cx="265.7" cy="703.2" r="10.6"/><circle cx="321.1" cy="653" r="10.6"/><circle cx="257.9" cy="722" r="10.6"/><circle cx="152.8" cy="841.7" r="10.6"/><circle cx="679.3" cy="259.7" r="10.6"/><circle cx="299.4" cy="590.1" r="10.6"/><circle cx="392.7" cy="609.2" r="10.6"/><circle cx="395.2" cy="612.7" r="10.6"/><circle cx="238.9" cy="742.5" r="10.6"/><circle cx="572.8" cy="423" r="10.6"/><circle cx="164.4" cy="824" r="10.6"/><circle cx="291.4" cy="663.6" r="10.6"/><circle cx="370.1" cy="619.6" r="10.6"/><circle cx="238.1" cy="728.8" r="10.6"/><circle cx="281.5" cy="734.4" r="10.6"/><circle cx="292.1" cy="615.7" r="10.6"/><circle cx="401.4" cy="610.1" r="10.6"/><circle cx="540.3" cy="404" r="10.6"/><circle cx="204" cy="726.3" r="10.6"/><circle cx="214.6" cy="806.4" r="10.6"/><circle cx="225.1" cy="739.6" r="10.6"/><circle cx="252" cy="692.2" r="10.6"/><circle cx="235.5" cy="771.5" r="10.6"/><circle cx="243.6" cy="683.1" r="10.6"/><circle cx="228.6" cy="753.6" r="10.6"/><circle cx="460.4" cy="514.7" r="10.6"/><circle cx="196.3" cy="822.3" r="10.6"/><circle cx="457.5" cy="465.1" r="10.6"/><circle cx="543.6" cy="391.6" r="10.6"/><circle cx="332.6" cy="580.9" r="10.6"/><circle cx="253.8" cy="750.2" r="10.6"/><circle cx="286.8" cy="712.3" r="10.6"/><circle cx="147.4" cy="849.7" r="10.6"/><circle cx="297.4" cy="606.2" r="10.6"/><circle cx="312.8" cy="688.6" r="10.6"/><circle cx="191.9" cy="802.7" r="10.6"/><circle cx="237.1" cy="758.6" r="10.6"/><circle cx="481.5" cy="479.3" r="10.6"/><circle cx="515.2" cy="521.8" r="10.6"/><circle cx="212.9" cy="786.1" r="10.6"/><circle cx="147.2" cy="853.6" r="10.6"/><circle cx="380.6" cy="598.3" r="10.6"/><circle cx="275" cy="722.2" r="10.6"/><circle cx="254.4" cy="717.4" r="10.6"/><circle cx="302.2" cy="721.6" r="10.6"/><circle cx="153.5" cy="828.6" r="10.6"/><circle cx="186.7" cy="777.1" r="10.6"/><circle cx="182.5" cy="816.1" r="10.6"/><circle cx="297.9" cy="668.3" r="10.6"/><circle cx="404" cy="540.6" r="10.6"/><circle cx="236.1" cy="768" r="10.6"/><circle cx="186.5" cy="824" r="10.6"/><circle cx="354.5" cy="573.2" r="10.6"/><circle cx="386.8" cy="545.7" r="10.6"/><circle cx="353.7" cy="585.3" r="10.6"/><circle cx="424.4" cy="584.2" r="10.6"/><circle cx="301.3" cy="836.7" r="10.6"/><circle cx="379.1" cy="722.5" r="10.6"/><circle cx="440.3" cy="662" r="10.6"/><circle cx="844" cy="106" r="10.6"/><circle cx="743" cy="185" r="10.6"/><circle cx="790.5" cy="220" r="10.6"/><circle cx="380.5" cy="392" r="10.6"/><circle cx="353" cy="422.5" r="10.6"/><circle cx="212.5" cy="562" r="10.6"/><circle cx="661" cy="396" r="10.6"/><circle cx="470" cy="377" r="10.6"/><circle cx="657.1" cy="224.1" r="10.6"/><circle cx="470.4" cy="384.1" r="10.6"/><circle cx="437.8" cy="404.9" r="10.6"/><circle cx="550.4" cy="520.5" r="10.6"/>
</g>
<g fill="#fff" stroke="#A5A5A5" stroke-opacity="0.6" stroke-width="10">
<circle cx="313.5" cy="696.1" r="10.6"/><circle cx="400" cy="611.6" r="10.6"/><circle cx="158.1" cy="842.1" r="10.6"/><circle cx="169.2" cy="796.4" r="10.6"/><circle cx="467.7" cy="573.4" r="10.6"/><circle cx="166.9" cy="815.3" r="10.6"/><circle cx="363.4" cy="635.7" r="10.6"/><circle cx="489" cy="553.4" r="10.6"/><circle cx="222.3" cy="780.9" r="10.6"/><circle cx="292" cy="691.9" r="10.6"/><circle cx="510.1" cy="418.7" r="10.6"/><circle cx="527.1" cy="474.4" r="10.6"/><circle cx="518.7" cy="503" r="10.6"/><circle cx="478" cy="558.4" r="10.6"/><circle cx="167.5" cy="835.1" r="10.6"/><circle cx="301.8" cy="706" r="10.6"/><circle cx="150.8" cy="837.8" r="10.6"/><circle cx="525" cy="441.2" r="10.6"/><circle cx="225" cy="783" r="10.6"/><circle cx="606.1" cy="356.7" r="10.6"/><circle cx="222.3" cy="706.3" r="10.6"/><circle cx="708.2" cy="239.3" r="10.6"/><circle cx="221" cy="785.9" r="10.6"/><circle cx="151.9" cy="845.8" r="10.6"/><circle cx="433" cy="446.7" r="10.6"/><circle cx="266.9" cy="729.5" r="10.6"/><circle cx="150.4" cy="853.6" r="10.6"/><circle cx="480.2" cy="468.9" r="10.6"/><circle cx="154.2" cy="833.9" r="10.6"/><circle cx="540.6" cy="402.3" r="10.6"/><circle cx="604.4" cy="380" r="10.6"/><circle cx="270.7" cy="719.5" r="10.6"/><circle cx="241.4" cy="753.9" r="10.6"/><circle cx="297.6" cy="673.2" r="10.6"/><circle cx="258.7" cy="735.7" r="10.6"/><circle cx="322.1" cy="684.9" r="10.6"/><circle cx="323.6" cy="687.2" r="10.6"/><circle cx="164.3" cy="833.8" r="10.6"/><circle cx="287.6" cy="689" r="10.6"/><circle cx="241.9" cy="748.8" r="10.6"/><circle cx="266" cy="723.7" r="10.6"/><circle cx="268.1" cy="719.4" r="10.6"/><circle cx="182.1" cy="780.5" r="10.6"/><circle cx="237.2" cy="705.4" r="10.6"/><circle cx="257.4" cy="702.5" r="10.6"/><circle cx="367.2" cy="541.5" r="10.6"/><circle cx="368.7" cy="639.5" r="10.6"/><circle cx="209.6" cy="717.6" r="10.6"/><circle cx="366.7" cy="660" r="10.6"/><circle cx="391.4" cy="547.3" r="10.6"/><circle cx="220.2" cy="774.9" r="10.6"/><circle cx="328.6" cy="634.4" r="10.6"/><circle cx="697.7" cy="247" r="10.6"/><circle cx="312.9" cy="612.6" r="10.6"/><circle cx="164.6" cy="808.5" r="10.6"/><circle cx="219.9" cy="692.9" r="10.6"/><circle cx="531.5" cy="382.8" r="10.6"/><circle cx="346.1" cy="654.6" r="10.6"/><circle cx="475.9" cy="519.9" r="10.6"/><circle cx="399.7" cy="602.6" r="10.6"/><circle cx="146.9" cy="853.6" r="10.6"/><circle cx="458" cy="562.1" r="10.6"/><circle cx="231.9" cy="763.3" r="10.6"/><circle cx="183.6" cy="798.1" r="10.6"/><circle cx="324.4" cy="663" r="10.6"/><circle cx="490.5" cy="483.8" r="10.6"/><circle cx="312.5" cy="690.5" r="10.6"/><circle cx="467.4" cy="506.2" r="10.6"/><circle cx="177" cy="814.5" r="10.6"/><circle cx="275.8" cy="739.7" r="10.6"/><circle cx="178" cy="824.5" r="10.6"/><circle cx="258.7" cy="747.4" r="10.6"/><circle cx="533.6" cy="391.9" r="10.6"/><circle cx="502" cy="420.4" r="10.6"/><circle cx="339.1" cy="565.5" r="10.6"/><circle cx="300.1" cy="720.4" r="10.6"/><circle cx="411.9" cy="531.9" r="10.6"/><circle cx="207" cy="787.6" r="10.6"/><circle cx="528.2" cy="491" r="10.6"/><circle cx="283.7" cy="683" r="10.6"/><circle cx="215" cy="772" r="10.6"/><circle cx="209.4" cy="715.3" r="10.6"/><circle cx="254" cy="743.4" r="10.6"/><circle cx="147.4" cy="836.7" r="10.6"/><circle cx="237.9" cy="766.7" r="10.6"/><circle cx="175.7" cy="829.3" r="10.6"/><circle cx="179.8" cy="822.7" r="10.6"/><circle cx="374" cy="525.7" r="10.6"/><circle cx="276.7" cy="737.6" r="10.6"/><circle cx="353.8" cy="674.6" r="10.6"/><circle cx="483" cy="456.9" r="10.6"/><circle cx="312.9" cy="722.6" r="10.6"/><circle cx="314" cy="593.5" r="10.6"/><circle cx="302.3" cy="721.4" r="10.6"/><circle cx="462.7" cy="499.4" r="10.6"/><circle cx="384.5" cy="551.3" r="10.6"/><circle cx="187" cy="809.6" r="10.6"/><circle cx="288.4" cy="676.7" r="10.6"/><circle cx="376.9" cy="586.7" r="10.6"/><circle cx="252.6" cy="760.7" r="10.6"/><circle cx="280.6" cy="713.9" r="10.6"/><circle cx="320.1" cy="697.3" r="10.6"/><circle cx="337.5" cy="643" r="10.6"/><circle cx="532" cy="398.8" r="10.6"/><circle cx="384.2" cy="610.8" r="10.6"/><circle cx="210.1" cy="759.4" r="10.6"/><circle cx="459.9" cy="590.8" r="10.6"/><circle cx="408.4" cy="598.8" r="10.6"/><circle cx="661.3" cy="310.8" r="10.6"/><circle cx="385.2" cy="606.1" r="10.6"/><circle cx="225.1" cy="738.1" r="10.6"/><circle cx="393" cy="524.4" r="10.6"/><circle cx="362.4" cy="648.1" r="10.6"/><circle cx="283.4" cy="741" r="10.6"/><circle cx="517.6" cy="534.3" r="10.6"/><circle cx="153.8" cy="850.1" r="10.6"/><circle cx="354.7" cy="665.3" r="10.6"/><circle cx="268" cy="655.3" r="10.6"/><circle cx="429.1" cy="477.1" r="10.6"/><circle cx="188.9" cy="748.7" r="10.6"/><circle cx="241.6" cy="719.8" r="10.6"/><circle cx="195.9" cy="818.4" r="10.6"/><circle cx="533.5" cy="421.6" r="10.6"/><circle cx="387.4" cy="554" r="10.6"/><circle cx="355.9" cy="624.9" r="10.6"/><circle cx="208" cy="806.9" r="10.6"/><circle cx="225" cy="773.8" r="10.6"/><circle cx="294.9" cy="671" r="10.6"/><circle cx="482.5" cy="485.8" r="10.6"/><circle cx="270.7" cy="747" r="10.6"/><circle cx="210.3" cy="758.6" r="10.6"/><circle cx="452" cy="495.7" r="10.6"/><circle cx="151.6" cy="843.2" r="10.6"/><circle cx="172.3" cy="817.9" r="10.6"/><circle cx="361.4" cy="615.8" r="10.6"/><circle cx="192.8" cy="784.1" r="10.6"/><circle cx="390.3" cy="636.8" r="10.6"/><circle cx="266.6" cy="729.2" r="10.6"/><circle cx="176.9" cy="812.9" r="10.6"/><circle cx="214.9" cy="806" r="10.6"/><circle cx="357.8" cy="633" r="10.6"/><circle cx="493.7" cy="483.8" r="10.6"/><circle cx="316.8" cy="568.4" r="10.6"/><circle cx="242.7" cy="757.3" r="10.6"/><circle cx="314.9" cy="618.4" r="10.6"/><circle cx="183.6" cy="796.1" r="10.6"/><circle cx="418.5" cy="537" r="10.6"/><circle cx="231.9" cy="755.7" r="10.6"/><circle cx="530.9" cy="406.4" r="10.6"/><circle cx="270.6" cy="697.4" r="10.6"/><circle cx="214.7" cy="789.6" r="10.6"/><circle cx="529.7" cy="406.2" r="10.6"/><circle cx="381.8" cy="574.3" r="10.6"/><circle cx="505.8" cy="443.9" r="10.6"/><circle cx="168.3" cy="825.4" r="10.6"/><circle cx="404.3" cy="513.6" r="10.6"/><circle cx="534.7" cy="440.3" r="10.6"/><circle cx="495.8" cy="457.7" r="10.6"/><circle cx="153.6" cy="830.9" r="10.6"/><circle cx="163.3" cy="839.7" r="10.6"/><circle cx="540.7" cy="485.1" r="10.6"/><circle cx="384.5" cy="649.8" r="10.6"/><circle cx="154.5" cy="848.6" r="10.6"/><circle cx="166.2" cy="814.7" r="10.6"/><circle cx="278" cy="731.1" r="10.6"/><circle cx="156.3" cy="832.4" r="10.6"/><circle cx="450.6" cy="543" r="10.6"/><circle cx="427.3" cy="585.3" r="10.6"/><circle cx="160.4" cy="847.3" r="10.6"/><circle cx="492.5" cy="544.6" r="10.6"/><circle cx="433.2" cy="584.3" r="10.6"/><circle cx="354" cy="543.5" r="10.6"/><circle cx="215.2" cy="704.4" r="10.6"/><circle cx="453.5" cy="518.9" r="10.6"/><circle cx="219.8" cy="783.6" r="10.6"/><circle cx="267.8" cy="674.4" r="10.6"/><circle cx="294.8" cy="693.1" r="10.6"/><circle cx="485.3" cy="549.9" r="10.6"/><circle cx="542.7" cy="506" r="10.6"/><circle cx="435.7" cy="550" r="10.6"/><circle cx="147.3" cy="848.3" r="10.6"/><circle cx="247.6" cy="754.5" r="10.6"/><circle cx="368.1" cy="628" r="10.6"/><circle cx="654.7" cy="307.9" r="10.6"/><circle cx="289.1" cy="705.1" r="10.6"/><circle cx="635" cy="350.1" r="10.6"/><circle cx="517.8" cy="437.8" r="10.6"/><circle cx="285.4" cy="669.1" r="10.6"/><circle cx="384.9" cy="588.2" r="10.6"/><circle cx="222.7" cy="788.3" r="10.6"/><circle cx="717.6" cy="264.1" r="10.6"/><circle cx="159.9" cy="840.9" r="10.6"/><circle cx="410.4" cy="507.3" r="10.6"/><circle cx="279.2" cy="707.2" r="10.6"/><circle cx="465.1" cy="484.6" r="10.6"/><circle cx="235.6" cy="755" r="10.6"/><circle cx="239.5" cy="748.8" r="10.6"/><circle cx="285.2" cy="715.9" r="10.6"/><circle cx="570.8" cy="406" r="10.6"/><circle cx="305.8" cy="679.5" r="10.6"/><circle cx="323.7" cy="656" r="10.6"/><circle cx="497.1" cy="410.6" r="10.6"/><circle cx="219.5" cy="699.3" r="10.6"/><circle cx="512" cy="414.1" r="10.6"/><circle cx="547.8" cy="477.2" r="10.6"/><circle cx="267.1" cy="749.3" r="10.6"/><circle cx="450.1" cy="446.1" r="10.6"/><circle cx="612" cy="345.1" r="10.6"/><circle cx="629" cy="342" r="10.6"/><circle cx="411" cy="534.7" r="10.6"/><circle cx="378" cy="625.3" r="10.6"/><circle cx="427.3" cy="526.3" r="10.6"/><circle cx="512.9" cy="393" r="10.6"/><circle cx="465.7" cy="433.3" r="10.6"/><circle cx="174" cy="833" r="10.6"/><circle cx="375.5" cy="647.8" r="10.6"/><circle cx="416" cy="540" r="10.6"/><circle cx="514.1" cy="429.7" r="10.6"/><circle cx="243.3" cy="765.5" r="10.6"/><circle cx="496.7" cy="428.2" r="10.6"/><circle cx="262.5" cy="685.6" r="10.6"/><circle cx="224.4" cy="746.8" r="10.6"/><circle cx="381.4" cy="564" r="10.6"/><circle cx="153" cy="845.4" r="10.6"/><circle cx="271.4" cy="630.3" r="10.6"/><circle cx="521.1" cy="435.2" r="10.6"/><circle cx="283.4" cy="628.7" r="10.6"/><circle cx="283.9" cy="630.4" r="10.6"/><circle cx="289.8" cy="686.3" r="10.6"/><circle cx="169.7" cy="814.5" r="10.6"/><circle cx="163.4" cy="845" r="10.6"/><circle cx="146.7" cy="854.3" r="10.6"/><circle cx="350.4" cy="593.2" r="10.6"/><circle cx="301" cy="693.7" r="10.6"/><circle cx="240.1" cy="700.4" r="10.6"/><circle cx="435.8" cy="616.5" r="10.6"/><circle cx="184.9" cy="817.3" r="10.6"/><circle cx="537" cy="413.1" r="10.6"/><circle cx="148.6" cy="853.7" r="10.6"/><circle cx="262.8" cy="709.4" r="10.6"/><circle cx="286.8" cy="602.7" r="10.6"/><circle cx="175.9" cy="824.2" r="10.6"/><circle cx="212.4" cy="780.2" r="10.6"/><circle cx="540.9" cy="412" r="10.6"/><circle cx="263.2" cy="725" r="10.6"/><circle cx="159.5" cy="839" r="10.6"/><circle cx="443.7" cy="492" r="10.6"/><circle cx="487.4" cy="453.6" r="10.6"/><circle cx="308.5" cy="672.3" r="10.6"/><circle cx="602.8" cy="344.7" r="10.6"/><circle cx="460" cy="467.8" r="10.6"/><circle cx="274.3" cy="719.9" r="10.6"/><circle cx="251.7" cy="738.4" r="10.6"/><circle cx="178.6" cy="806.2" r="10.6"/><circle cx="489.3" cy="565.1" r="10.6"/><circle cx="633.1" cy="325.3" r="10.6"/><circle cx="508.3" cy="411.7" r="10.6"/><circle cx="164.6" cy="821.6" r="10.6"/><circle cx="272.6" cy="615.1" r="10.6"/><circle cx="412.7" cy="510.9" r="10.6"/><circle cx="322.4" cy="679.4" r="10.6"/><circle cx="268.8" cy="660.9" r="10.6"/><circle cx="620.5" cy="350.6" r="10.6"/><circle cx="189.6" cy="773.1" r="10.6"/><circle cx="192.7" cy="752.9" r="10.6"/><circle cx="268" cy="727.4" r="10.6"/><circle cx="458" cy="567" r="10.6"/><circle cx="266.5" cy="658" r="10.6"/><circle cx="238.2" cy="732.1" r="10.6"/><circle cx="359.4" cy="610.4" r="10.6"/><circle cx="276.1" cy="675.9" r="10.6"/><circle cx="321.9" cy="602.9" r="10.6"/><circle cx="687.8" cy="264" r="10.6"/><circle cx="189" cy="799.8" r="10.6"/><circle cx="156.3" cy="844.9" r="10.6"/><circle cx="415.2" cy="604.6" r="10.6"/><circle cx="293.3" cy="731.6" r="10.6"/><circle cx="309.3" cy="621.4" r="10.6"/><circle cx="500.5" cy="489.8" r="10.6"/><circle cx="312.6" cy="581.8" r="10.6"/><circle cx="227.9" cy="773.4" r="10.6"/><circle cx="188.5" cy="797.8" r="10.6"/><circle cx="527.5" cy="470.1" r="10.6"/><circle cx="171.1" cy="802.3" r="10.6"/><circle cx="306.2" cy="702.1" r="10.6"/><circle cx="556.4" cy="436.6" r="10.6"/><circle cx="254.2" cy="655.9" r="10.6"/><circle cx="232.8" cy="760.5" r="10.6"/><circle cx="548.9" cy="386.9" r="10.6"/><circle cx="152.7" cy="828.9" r="10.6"/><circle cx="238.7" cy="700.4" r="10.6"/><circle cx="234.9" cy="652.1" r="10.6"/><circle cx="196.7" cy="801.4" r="10.6"/><circle cx="257" cy="710.4" r="10.6"/><circle cx="358.9" cy="526.6" r="10.6"/><circle cx="197.1" cy="768" r="10.6"/><circle cx="267.5" cy="730.9" r="10.6"/><circle cx="210.1" cy="792.1" r="10.6"/><circle cx="221.6" cy="746.7" r="10.6"/><circle cx="352.5" cy="569.6" r="10.6"/><circle cx="193.8" cy="765.7" r="10.6"/><circle cx="354.1" cy="679.8" r="10.6"/><circle cx="222.9" cy="733.5" r="10.6"/><circle cx="283.6" cy="699.7" r="10.6"/><circle cx="467.1" cy="532.9" r="10.6"/><circle cx="220" cy="778.1" r="10.6"/><circle cx="412.7" cy="556.6" r="10.6"/><circle cx="320.3" cy="653" r="10.6"/><circle cx="230.7" cy="765.3" r="10.6"/><circle cx="197.5" cy="747.2" r="10.6"/><circle cx="263.3" cy="749.4" r="10.6"/><circle cx="158" cy="853" r="10.6"/><circle cx="538.9" cy="488.9" r="10.6"/><circle cx="293.7" cy="655.1" r="10.6"/><circle cx="575.4" cy="392.4" r="10.6"/><circle cx="244.3" cy="749.5" r="10.6"/><circle cx="488.7" cy="495.4" r="10.6"/><circle cx="157.3" cy="845.9" r="10.6"/><circle cx="375.7" cy="584.7" r="10.6"/><circle cx="433.4" cy="498.6" r="10.6"/><circle cx="596.6" cy="351.6" r="10.6"/><circle cx="256.3" cy="739.4" r="10.6"/><circle cx="556" cy="438.6" r="10.6"/><circle cx="347.8" cy="632.6" r="10.6"/><circle cx="241.7" cy="750.5" r="10.6"/><circle cx="306.4" cy="703.7" r="10.6"/><circle cx="187.2" cy="807.7" r="10.6"/><circle cx="318.8" cy="581.1" r="10.6"/><circle cx="243.9" cy="762.5" r="10.6"/><circle cx="327.2" cy="630.3" r="10.6"/><circle cx="245.1" cy="672" r="10.6"/><circle cx="443.6" cy="604.4" r="10.6"/><circle cx="363" cy="601.2" r="10.6"/><circle cx="154.7" cy="843.1" r="10.6"/><circle cx="231.1" cy="770" r="10.6"/><circle cx="276" cy="678.1" r="10.6"/><circle cx="154.7" cy="849.1" r="10.6"/><circle cx="214.5" cy="741.5" r="10.6"/><circle cx="355.1" cy="640.2" r="10.6"/><circle cx="347.5" cy="660.3" r="10.6"/><circle cx="461.7" cy="496.4" r="10.6"/><circle cx="251.9" cy="749.6" r="10.6"/><circle cx="381.4" cy="514.6" r="10.6"/><circle cx="347.4" cy="670.1" r="10.6"/><circle cx="249.9" cy="742.7" r="10.6"/><circle cx="167.2" cy="797.3" r="10.6"/><circle cx="546.9" cy="476.4" r="10.6"/><circle cx="435" cy="557.1" r="10.6"/><circle cx="721.6" cy="251.8" r="10.6"/><circle cx="177.6" cy="823.2" r="10.6"/><circle cx="380.2" cy="519.1" r="10.6"/><circle cx="439.4" cy="533.6" r="10.6"/><circle cx="177.5" cy="796.2" r="10.6"/><circle cx="276.8" cy="729" r="10.6"/><circle cx="302.4" cy="669.8" r="10.6"/><circle cx="536.3" cy="462.9" r="10.6"/><circle cx="307.9" cy="714.3" r="10.6"/><circle cx="147.2" cy="854.6" r="10.6"/><circle cx="250.2" cy="726.6" r="10.6"/><circle cx="207.4" cy="793.1" r="10.6"/><circle cx="192.5" cy="766.4" r="10.6"/><circle cx="633.8" cy="360.2" r="10.6"/><circle cx="253" cy="666.7" r="10.6"/><circle cx="486.4" cy="522.8" r="10.6"/><circle cx="283.6" cy="720.7" r="10.6"/><circle cx="275.4" cy="611.9" r="10.6"/><circle cx="613.1" cy="367.9" r="10.6"/><circle cx="450.5" cy="435.2" r="10.6"/><circle cx="467" cy="541" r="10.6"/><circle cx="535.8" cy="416.8" r="10.6"/><circle cx="470.5" cy="474.2" r="10.6"/><circle cx="204.2" cy="813.7" r="10.6"/><circle cx="271.1" cy="715.1" r="10.6"/><circle cx="272.6" cy="714.6" r="10.6"/><circle cx="543.4" cy="491.8" r="10.6"/><circle cx="239.9" cy="770.4" r="10.6"/><circle cx="157.9" cy="845.2" r="10.6"/><circle cx="340.8" cy="627.1" r="10.6"/><circle cx="369" cy="622.5" r="10.6"/><circle cx="484.6" cy="555.9" r="10.6"/><circle cx="158.4" cy="821.5" r="10.6"/><circle cx="547.5" cy="464.6" r="10.6"/><circle cx="407.8" cy="610.4" r="10.6"/><circle cx="237" cy="759.8" r="10.6"/><circle cx="478.7" cy="415.2" r="10.6"/><circle cx="258.8" cy="658" r="10.6"/><circle cx="361.2" cy="624.6" r="10.6"/><circle cx="286.4" cy="606.9" r="10.6"/><circle cx="163.8" cy="815.4" r="10.6"/><circle cx="211.2" cy="741.1" r="10.6"/><circle cx="168.6" cy="832.9" r="10.6"/><circle cx="233.5" cy="760.7" r="10.6"/><circle cx="302.5" cy="719.2" r="10.6"/><circle cx="515.1" cy="533.1" r="10.6"/><circle cx="554.6" cy="377.7" r="10.6"/><circle cx="209.3" cy="798.2" r="10.6"/><circle cx="326.3" cy="646.9" r="10.6"/><circle cx="200.5" cy="740.6" r="10.6"/><circle cx="246.2" cy="680.5" r="10.6"/><circle cx="183.4" cy="814.6" r="10.6"/><circle cx="358.5" cy="635.8" r="10.6"/><circle cx="228.8" cy="768.8" r="10.6"/><circle cx="216.2" cy="743" r="10.6"/><circle cx="237.1" cy="705.2" r="10.6"/><circle cx="202.4" cy="798.4" r="10.6"/><circle cx="296.7" cy="620.6" r="10.6"/><circle cx="466.6" cy="524.9" r="10.6"/><circle cx="345.6" cy="659.1" r="10.6"/><circle cx="391" cy="584.1" r="10.6"/><circle cx="147.4" cy="853.7" r="10.6"/><circle cx="328.3" cy="592.6" r="10.6"/><circle cx="518.5" cy="514.6" r="10.6"/><circle cx="296.3" cy="698.9" r="10.6"/><circle cx="226.3" cy="774.1" r="10.6"/><circle cx="176.1" cy="821.4" r="10.6"/><circle cx="188.9" cy="828.5" r="10.6"/><circle cx="268.9" cy="722.1" r="10.6"/><circle cx="461.8" cy="499.7" r="10.6"/><circle cx="510.8" cy="458.7" r="10.6"/><circle cx="697.2" cy="272.3" r="10.6"/><circle cx="409.9" cy="553.1" r="10.6"/><circle cx="192.6" cy="818" r="10.6"/><circle cx="150.6" cy="836.9" r="10.6"/><circle cx="146.8" cy="839.7" r="10.6"/><circle cx="269.6" cy="659.9" r="10.6"/><circle cx="316.7" cy="599.4" r="10.6"/><circle cx="454.8" cy="479.6" r="10.6"/><circle cx="549.4" cy="375.6" r="10.6"/><circle cx="366.5" cy="554.2" r="10.6"/><circle cx="300.4" cy="736.3" r="10.6"/><circle cx="241.2" cy="758.6" r="10.6"/><circle cx="151" cy="842.2" r="10.6"/><circle cx="243" cy="754.4" r="10.6"/><circle cx="429.3" cy="562.3" r="10.6"/><circle cx="221.9" cy="723" r="10.6"/><circle cx="183.4" cy="801.8" r="10.6"/><circle cx="416.6" cy="607.8" r="10.6"/><circle cx="152.6" cy="851.3" r="10.6"/><circle cx="418.8" cy="532.3" r="10.6"/><circle cx="151.3" cy="852.8" r="10.6"/><circle cx="269.7" cy="696" r="10.6"/><circle cx="303.6" cy="830" r="10.6"/><circle cx="236.4" cy="844.6" r="10.6"/><circle cx="440.3" cy="641.8" r="10.6"/><circle cx="382" cy="687.7" r="10.6"/><circle cx="792" cy="201" r="10.6"/><circle cx="444" cy="377" r="10.6"/><circle cx="353" cy="416" r="10.6"/><circle cx="711" cy="202" r="10.6"/><circle cx="815" cy="144" r="10.6"/><circle cx="850" cy="114" r="10.6"/><circle cx="212" cy="597" r="10.6"/><circle cx="379.5" cy="430" r="10.6"/><circle cx="663" cy="236" r="10.6"/><circle cx="593.4" cy="471.6" r="10.6"/><circle cx="541.5" cy="363.4" r="10.6"/>
</g>
<g fill="#fff" stroke="#FFC000" stroke-opacity="0.6" stroke-width="10">
<circle cx="290.4" cy="663.7" r="10.6"/><circle cx="287.5" cy="698.7" r="10.6"/><circle cx="427.6" cy="452.8" r="10.6"/><circle cx="330.9" cy="584" r="10.6"/><circle cx="553.5" cy="497" r="10.6"/><circle cx="281.1" cy="746.5" r="10.6"/><circle cx="272.6" cy="680.5" r="10.6"/><circle cx="241" cy="669.9" r="10.6"/><circle cx="327.7" cy="663.9" r="10.6"/><circle cx="186.2" cy="817.1" r="10.6"/><circle cx="197.5" cy="786.6" r="10.6"/><circle cx="233.3" cy="729.1" r="10.6"/><circle cx="348.4" cy="627.5" r="10.6"/><circle cx="404.2" cy="560.1" r="10.6"/><circle cx="294" cy="658.8" r="10.6"/><circle cx="688.3" cy="253.7" r="10.6"/><circle cx="312.8" cy="733.1" r="10.6"/><circle cx="367" cy="594.2" r="10.6"/><circle cx="227.8" cy="790.3" r="10.6"/><circle cx="409.2" cy="589.2" r="10.6"/><circle cx="425.5" cy="578.2" r="10.6"/><circle cx="267.6" cy="732.2" r="10.6"/><circle cx="272.4" cy="704.1" r="10.6"/><circle cx="148.1" cy="854.9" r="10.6"/><circle cx="269.5" cy="736.5" r="10.6"/><circle cx="232.7" cy="769.4" r="10.6"/><circle cx="162.9" cy="846.9" r="10.6"/><circle cx="474.2" cy="576.3" r="10.6"/><circle cx="474.5" cy="550.6" r="10.6"/><circle cx="555.8" cy="430.1" r="10.6"/><circle cx="238.8" cy="705" r="10.6"/><circle cx="275.2" cy="686.8" r="10.6"/><circle cx="200.6" cy="806.5" r="10.6"/><circle cx="359.8" cy="539" r="10.6"/><circle cx="311.9" cy="559.3" r="10.6"/><circle cx="458.7" cy="571.1" r="10.6"/><circle cx="280" cy="613.5" r="10.6"/><circle cx="228.4" cy="788.2" r="10.6"/><circle cx="256.4" cy="713.1" r="10.6"/><circle cx="354.7" cy="640.8" r="10.6"/><circle cx="325.5" cy="678.7" r="10.6"/><circle cx="437.7" cy="603.5" r="10.6"/><circle cx="209.7" cy="719.3" r="10.6"/><circle cx="404.8" cy="486.1" r="10.6"/><circle cx="153.4" cy="834" r="10.6"/><circle cx="200.9" cy="767.9" r="10.6"/><circle cx="199.8" cy="743.2" r="10.6"/><circle cx="535.9" cy="414.9" r="10.6"/><circle cx="257.8" cy="737.5" r="10.6"/><circle cx="177" cy="829.1" r="10.6"/><circle cx="175.4" cy="836.2" r="10.6"/><circle cx="516.6" cy="548.3" r="10.6"/><circle cx="419.4" cy="610.5" r="10.6"/><circle cx="292.6" cy="663.7" r="10.6"/><circle cx="272" cy="719.1" r="10.6"/><circle cx="474.8" cy="491" r="10.6"/><circle cx="498.4" cy="461" r="10.6"/><circle cx="146.7" cy="854.7" r="10.6"/><circle cx="405.4" cy="552.9" r="10.6"/><circle cx="267.7" cy="732.3" r="10.6"/><circle cx="418.2" cy="488.5" r="10.6"/><circle cx="289.9" cy="696.1" r="10.6"/><circle cx="486.5" cy="530.7" r="10.6"/><circle cx="312.8" cy="607.1" r="10.6"/><circle cx="479.4" cy="407.7" r="10.6"/><circle cx="358.2" cy="621.4" r="10.6"/><circle cx="152.4" cy="847.8" r="10.6"/><circle cx="218.6" cy="803.8" r="10.6"/><circle cx="705.1" cy="246.1" r="10.6"/><circle cx="370" cy="673.3" r="10.6"/><circle cx="208.7" cy="705.3" r="10.6"/><circle cx="175.5" cy="829" r="10.6"/><circle cx="329.5" cy="658.6" r="10.6"/><circle cx="459.5" cy="408.2" r="10.6"/><circle cx="479.1" cy="536.7" r="10.6"/><circle cx="297.7" cy="611.4" r="10.6"/><circle cx="214.4" cy="720" r="10.6"/><circle cx="436.1" cy="619.5" r="10.6"/><circle cx="265.7" cy="747.4" r="10.6"/><circle cx="226.8" cy="772.7" r="10.6"/><circle cx="197.8" cy="793.8" r="10.6"/><circle cx="343.6" cy="641" r="10.6"/><circle cx="360.2" cy="664.1" r="10.6"/><circle cx="149.6" cy="838.8" r="10.6"/><circle cx="228.9" cy="730.2" r="10.6"/><circle cx="684.1" cy="286.8" r="10.6"/><circle cx="538.1" cy="395.2" r="10.6"/><circle cx="262.8" cy="746.6" r="10.6"/><circle cx="346.8" cy="702.1" r="10.6"/><circle cx="443.4" cy="559.7" r="10.6"/><circle cx="625.2" cy="322.2" r="10.6"/><circle cx="296.8" cy="721.1" r="10.6"/><circle cx="190.7" cy="807.4" r="10.6"/><circle cx="216.9" cy="742" r="10.6"/><circle cx="478.5" cy="543.9" r="10.6"/><circle cx="255.8" cy="694.7" r="10.6"/><circle cx="150.6" cy="851.3" r="10.6"/><circle cx="517.1" cy="509.5" r="10.6"/><circle cx="177.1" cy="802.5" r="10.6"/><circle cx="225.4" cy="729.8" r="10.6"/><circle cx="283.4" cy="621.7" r="10.6"/><circle cx="297.2" cy="651.8" r="10.6"/><circle cx="178.6" cy="788.4" r="10.6"/><circle cx="206.1" cy="705.3" r="10.6"/><circle cx="236.2" cy="767.4" r="10.6"/><circle cx="173.6" cy="827.3" r="10.6"/><circle cx="422.9" cy="503.9" r="10.6"/><circle cx="344" cy="552" r="10.6"/><circle cx="202.9" cy="800.7" r="10.6"/><circle cx="328.9" cy="620.6" r="10.6"/><circle cx="188.4" cy="817.7" r="10.6"/><circle cx="325.7" cy="645" r="10.6"/><circle cx="330.6" cy="680.4" r="10.6"/><circle cx="159.5" cy="838.2" r="10.6"/><circle cx="546.3" cy="376.9" r="10.6"/><circle cx="270.2" cy="606.1" r="10.6"/><circle cx="218.3" cy="768.8" r="10.6"/><circle cx="179.3" cy="835.8" r="10.6"/><circle cx="209.5" cy="769.2" r="10.6"/><circle cx="481.5" cy="504.1" r="10.6"/><circle cx="456.4" cy="437.4" r="10.6"/><circle cx="251.9" cy="741.1" r="10.6"/><circle cx="301.9" cy="581.2" r="10.6"/><circle cx="244.4" cy="653.3" r="10.6"/><circle cx="216.2" cy="783.4" r="10.6"/><circle cx="242.7" cy="747.5" r="10.6"/><circle cx="307.4" cy="729.5" r="10.6"/><circle cx="211.5" cy="752.2" r="10.6"/><circle cx="241.2" cy="705.5" r="10.6"/><circle cx="230.2" cy="773.8" r="10.6"/><circle cx="497.5" cy="437.8" r="10.6"/><circle cx="232.9" cy="706.8" r="10.6"/><circle cx="306.7" cy="659.3" r="10.6"/><circle cx="608.7" cy="340.7" r="10.6"/><circle cx="375.1" cy="612" r="10.6"/><circle cx="157.8" cy="817" r="10.6"/><circle cx="285.4" cy="739.1" r="10.6"/><circle cx="412.6" cy="504.9" r="10.6"/><circle cx="241.8" cy="760.1" r="10.6"/><circle cx="293.5" cy="602.2" r="10.6"/><circle cx="243.1" cy="753.5" r="10.6"/><circle cx="229.8" cy="773.1" r="10.6"/><circle cx="435.4" cy="481.7" r="10.6"/><circle cx="246.1" cy="749.9" r="10.6"/><circle cx="223.3" cy="740.2" r="10.6"/><circle cx="204.3" cy="770.8" r="10.6"/><circle cx="217.7" cy="733.9" r="10.6"/><circle cx="400.1" cy="506" r="10.6"/><circle cx="160.7" cy="837.1" r="10.6"/><circle cx="231.2" cy="755.1" r="10.6"/><circle cx="495.9" cy="450.3" r="10.6"/><circle cx="484.7" cy="419.9" r="10.6"/><circle cx="249" cy="751.7" r="10.6"/><circle cx="242.8" cy="688.3" r="10.6"/><circle cx="494" cy="460" r="10.6"/><circle cx="386.1" cy="570.5" r="10.6"/><circle cx="200.2" cy="740.9" r="10.6"/><circle cx="150.2" cy="851.8" r="10.6"/><circle cx="538.2" cy="396.4" r="10.6"/><circle cx="448.2" cy="574" r="10.6"/><circle cx="208.2" cy="819.6" r="10.6"/><circle cx="392.7" cy="495.3" r="10.6"/><circle cx="161.8" cy="835.5" r="10.6"/><circle cx="352" cy="628" r="10.6"/><circle cx="524.2" cy="489.4" r="10.6"/><circle cx="536.1" cy="524.4" r="10.6"/><circle cx="225.8" cy="792.2" r="10.6"/><circle cx="147.1" cy="853.2" r="10.6"/><circle cx="560.2" cy="416.4" r="10.6"/><circle cx="337.2" cy="608.6" r="10.6"/><circle cx="149.9" cy="840.1" r="10.6"/><circle cx="218.4" cy="788.9" r="10.6"/><circle cx="309.9" cy="614.7" r="10.6"/><circle cx="146.8" cy="840.5" r="10.6"/><circle cx="197.3" cy="781" r="10.6"/><circle cx="484" cy="397.6" r="10.6"/><circle cx="155.7" cy="825.8" r="10.6"/><circle cx="167.3" cy="820.6" r="10.6"/><circle cx="478" cy="453.2" r="10.6"/><circle cx="220.7" cy="772.1" r="10.6"/><circle cx="153.6" cy="847.8" r="10.6"/><circle cx="459.7" cy="574.1" r="10.6"/><circle cx="324.5" cy="599.7" r="10.6"/><circle cx="198.5" cy="809.9" r="10.6"/><circle cx="505.3" cy="395.1" r="10.6"/><circle cx="448.9" cy="524.9" r="10.6"/><circle cx="174.5" cy="809.6" r="10.6"/><circle cx="448.8" cy="447.2" r="10.6"/><circle cx="678.7" cy="284.8" r="10.6"/><circle cx="492.1" cy="573.9" r="10.6"/><circle cx="285.9" cy="659.6" r="10.6"/><circle cx="548.5" cy="421" r="10.6"/><circle cx="153" cy="848.3" r="10.6"/><circle cx="264" cy="717.5" r="10.6"/><circle cx="475.9" cy="415.3" r="10.6"/><circle cx="185.6" cy="786.9" r="10.6"/><circle cx="238.6" cy="754.8" r="10.6"/><circle cx="277" cy="627.2" r="10.6"/><circle cx="207.6" cy="751.1" r="10.6"/><circle cx="244" cy="722.1" r="10.6"/><circle cx="209.9" cy="791.5" r="10.6"/><circle cx="355.3" cy="650.2" r="10.6"/><circle cx="179.2" cy="810.9" r="10.6"/><circle cx="667.2" cy="287.4" r="10.6"/><circle cx="168.3" cy="791.7" r="10.6"/><circle cx="388.2" cy="596" r="10.6"/><circle cx="241.1" cy="750.1" r="10.6"/><circle cx="421.7" cy="472.6" r="10.6"/><circle cx="194" cy="820.2" r="10.6"/><circle cx="395.2" cy="572.2" r="10.6"/><circle cx="157.6" cy="821.2" r="10.6"/><circle cx="334.1" cy="661.3" r="10.6"/><circle cx="277.9" cy="738.4" r="10.6"/><circle cx="347.1" cy="681" r="10.6"/><circle cx="168.9" cy="827.4" r="10.6"/><circle cx="240.4" cy="771.7" r="10.6"/><circle cx="475.9" cy="533.8" r="10.6"/><circle cx="283.9" cy="714.8" r="10.6"/><circle cx="270.1" cy="680.6" r="10.6"/><circle cx="372.4" cy="608.7" r="10.6"/><circle cx="245.5" cy="751.4" r="10.6"/><circle cx="284.1" cy="667" r="10.6"/><circle cx="306" cy="666.4" r="10.6"/><circle cx="353.7" cy="604.6" r="10.6"/><circle cx="615.5" cy="374.9" r="10.6"/><circle cx="230.8" cy="778.4" r="10.6"/><circle cx="397.6" cy="596.2" r="10.6"/><circle cx="713.8" cy="262.4" r="10.6"/><circle cx="333.2" cy="549.4" r="10.6"/><circle cx="226.9" cy="737.9" r="10.6"/><circle cx="549.8" cy="371.5" r="10.6"/><circle cx="367.1" cy="609" r="10.6"/><circle cx="233.5" cy="729.4" r="10.6"/><circle cx="317.5" cy="702.6" r="10.6"/><circle cx="436.1" cy="510.6" r="10.6"/><circle cx="150.4" cy="844.2" r="10.6"/><circle cx="148.2" cy="848.1" r="10.6"/><circle cx="190.3" cy="784.7" r="10.6"/><circle cx="511.7" cy="496.9" r="10.6"/><circle cx="452.3" cy="468.1" r="10.6"/><circle cx="198.5" cy="812.2" r="10.6"/><circle cx="322.3" cy="675.5" r="10.6"/><circle cx="334.6" cy="680.7" r="10.6"/><circle cx="456.7" cy="492.8" r="10.6"/><circle cx="185.2" cy="794.4" r="10.6"/><circle cx="278.4" cy="602.5" r="10.6"/><circle cx="273.9" cy="722.4" r="10.6"/><circle cx="177.9" cy="796.6" r="10.6"/><circle cx="483.2" cy="458.6" r="10.6"/><circle cx="243.9" cy="718.7" r="10.6"/><circle cx="283.6" cy="598.2" r="10.6"/><circle cx="515" cy="384.4" r="10.6"/><circle cx="151.4" cy="854" r="10.6"/><circle cx="147.3" cy="839" r="10.6"/><circle cx="274.6" cy="716.1" r="10.6"/><circle cx="165.9" cy="830.7" r="10.6"/><circle cx="632.8" cy="339.3" r="10.6"/><circle cx="517.3" cy="388.4" r="10.6"/><circle cx="449.4" cy="552.5" r="10.6"/><circle cx="479.3" cy="418.3" r="10.6"/><circle cx="201.7" cy="734.2" r="10.6"/><circle cx="482.1" cy="443.9" r="10.6"/><circle cx="167" cy="829.5" r="10.6"/><circle cx="697.3" cy="272.3" r="10.6"/><circle cx="215.3" cy="792.9" r="10.6"/><circle cx="285.7" cy="664.2" r="10.6"/><circle cx="529.5" cy="481.3" r="10.6"/><circle cx="262.2" cy="727.5" r="10.6"/><circle cx="657.9" cy="322.4" r="10.6"/><circle cx="545.2" cy="406.2" r="10.6"/><circle cx="160.8" cy="851.4" r="10.6"/><circle cx="212.1" cy="746.2" r="10.6"/><circle cx="379.5" cy="562.7" r="10.6"/><circle cx="175.7" cy="838.3" r="10.6"/><circle cx="290.4" cy="695.6" r="10.6"/><circle cx="234.7" cy="771.2" r="10.6"/><circle cx="455.6" cy="529.7" r="10.6"/><circle cx="176.7" cy="830.9" r="10.6"/><circle cx="305" cy="698.2" r="10.6"/><circle cx="385.3" cy="511.8" r="10.6"/><circle cx="146.9" cy="853.4" r="10.6"/><circle cx="297.6" cy="677.7" r="10.6"/><circle cx="454.9" cy="472.7" r="10.6"/><circle cx="278.4" cy="747.7" r="10.6"/><circle cx="161.8" cy="847.9" r="10.6"/><circle cx="304.7" cy="651" r="10.6"/><circle cx="282.2" cy="713.8" r="10.6"/><circle cx="272.9" cy="716.8" r="10.6"/><circle cx="209.9" cy="700.2" r="10.6"/><circle cx="374.5" cy="620.4" r="10.6"/><circle cx="510.5" cy="409.2" r="10.6"/><circle cx="274.2" cy="741.6" r="10.6"/><circle cx="218.1" cy="755.5" r="10.6"/><circle cx="310" cy="679.5" r="10.6"/><circle cx="234.5" cy="755.1" r="10.6"/><circle cx="456.1" cy="507.5" r="10.6"/><circle cx="221" cy="792.4" r="10.6"/><circle cx="193.5" cy="809.3" r="10.6"/><circle cx="285.8" cy="595.7" r="10.6"/><circle cx="232.4" cy="672.7" r="10.6"/><circle cx="153.4" cy="845.6" r="10.6"/><circle cx="555" cy="374.6" r="10.6"/><circle cx="219.7" cy="694.9" r="10.6"/><circle cx="184.3" cy="797.2" r="10.6"/><circle cx="453.8" cy="567.7" r="10.6"/><circle cx="438.2" cy="572.2" r="10.6"/><circle cx="151.4" cy="852" r="10.6"/><circle cx="263.1" cy="737.8" r="10.6"/><circle cx="233.5" cy="755.7" r="10.6"/><circle cx="184.2" cy="763.6" r="10.6"/><circle cx="159.1" cy="844" r="10.6"/><circle cx="200.1" cy="722.9" r="10.6"/><circle cx="186.2" cy="791" r="10.6"/><circle cx="311.3" cy="696.7" r="10.6"/><circle cx="236.6" cy="721.3" r="10.6"/><circle cx="419.6" cy="484" r="10.6"/><circle cx="288.8" cy="748.4" r="10.6"/><circle cx="320.9" cy="644.9" r="10.6"/><circle cx="171.9" cy="826.5" r="10.6"/><circle cx="270" cy="608.3" r="10.6"/><circle cx="607.3" cy="344.8" r="10.6"/><circle cx="356.3" cy="583.2" r="10.6"/><circle cx="244.8" cy="759.8" r="10.6"/><circle cx="466.3" cy="455.3" r="10.6"/><circle cx="246.7" cy="704.6" r="10.6"/><circle cx="236.7" cy="721" r="10.6"/><circle cx="541.9" cy="447.6" r="10.6"/><circle cx="454.2" cy="483.1" r="10.6"/><circle cx="267.4" cy="730.1" r="10.6"/><circle cx="720.2" cy="214.5" r="10.6"/><circle cx="348.9" cy="527.4" r="10.6"/><circle cx="176.5" cy="828.6" r="10.6"/><circle cx="431.7" cy="475.7" r="10.6"/><circle cx="554.5" cy="510.7" r="10.6"/><circle cx="347.5" cy="659.8" r="10.6"/><circle cx="173.1" cy="814.5" r="10.6"/><circle cx="485.6" cy="526.1" r="10.6"/><circle cx="182.9" cy="795.5" r="10.6"/><circle cx="560" cy="429.3" r="10.6"/><circle cx="472" cy="560.3" r="10.6"/><circle cx="148.9" cy="850" r="10.6"/><circle cx="327.2" cy="695.7" r="10.6"/><circle cx="670.3" cy="305.5" r="10.6"/><circle cx="548.9" cy="398.6" r="10.6"/><circle cx="194.5" cy="799.3" r="10.6"/><circle cx="321.5" cy="683.8" r="10.6"/><circle cx="341.2" cy="680.9" r="10.6"/><circle cx="269.5" cy="738.6" r="10.6"/><circle cx="569.3" cy="409.7" r="10.6"/><circle cx="264.4" cy="742.3" r="10.6"/><circle cx="293.3" cy="655.1" r="10.6"/><circle cx="531.3" cy="500.5" r="10.6"/><circle cx="444.7" cy="507.4" r="10.6"/><circle cx="165.8" cy="842.8" r="10.6"/><circle cx="190.1" cy="749.5" r="10.6"/><circle cx="298.7" cy="583.8" r="10.6"/><circle cx="258" cy="750.7" r="10.6"/><circle cx="335.6" cy="595.4" r="10.6"/><circle cx="158.4" cy="840.2" r="10.6"/><circle cx="198.1" cy="778" r="10.6"/><circle cx="234" cy="785.7" r="10.6"/><circle cx="184.6" cy="791.9" r="10.6"/><circle cx="304.5" cy="692.5" r="10.6"/><circle cx="541.3" cy="458.2" r="10.6"/><circle cx="430.4" cy="631.1" r="10.6"/><circle cx="304.8" cy="630.4" r="10.6"/><circle cx="483.5" cy="566.3" r="10.6"/><circle cx="224" cy="793.9" r="10.6"/><circle cx="511.8" cy="556" r="10.6"/><circle cx="189.9" cy="817.6" r="10.6"/><circle cx="210.9" cy="752.8" r="10.6"/><circle cx="374.1" cy="630.6" r="10.6"/><circle cx="417.4" cy="494.2" r="10.6"/><circle cx="220.7" cy="696.7" r="10.6"/><circle cx="428" cy="448.3" r="10.6"/><circle cx="497.8" cy="397.5" r="10.6"/><circle cx="222.9" cy="784.6" r="10.6"/><circle cx="590.6" cy="373.6" r="10.6"/><circle cx="146.8" cy="854.6" r="10.6"/><circle cx="352.7" cy="620.9" r="10.6"/><circle cx="314.5" cy="713.2" r="10.6"/><circle cx="545.8" cy="360.4" r="10.6"/><circle cx="555.9" cy="462.1" r="10.6"/><circle cx="212.1" cy="751.1" r="10.6"/><circle cx="197.3" cy="802.1" r="10.6"/><circle cx="361.6" cy="665.4" r="10.6"/><circle cx="321.1" cy="710.5" r="10.6"/><circle cx="265.2" cy="716.6" r="10.6"/><circle cx="194.3" cy="804.3" r="10.6"/><circle cx="300.6" cy="661.8" r="10.6"/><circle cx="310.7" cy="622.7" r="10.6"/><circle cx="282.9" cy="720.3" r="10.6"/><circle cx="255.7" cy="695.1" r="10.6"/><circle cx="172.6" cy="826.5" r="10.6"/><circle cx="163.7" cy="823.7" r="10.6"/><circle cx="240.5" cy="768.3" r="10.6"/><circle cx="173" cy="805.7" r="10.6"/><circle cx="413.8" cy="560.2" r="10.6"/><circle cx="346.4" cy="622.1" r="10.6"/><circle cx="433.4" cy="464.2" r="10.6"/><circle cx="612.5" cy="340.6" r="10.6"/><circle cx="461" cy="565.5" r="10.6"/><circle cx="373.1" cy="647.2" r="10.6"/><circle cx="312.3" cy="606.7" r="10.6"/><circle cx="547.5" cy="400.4" r="10.6"/><circle cx="271" cy="715.3" r="10.6"/><circle cx="277.4" cy="626.8" r="10.6"/><circle cx="476.6" cy="556.5" r="10.6"/><circle cx="320" cy="714.7" r="10.6"/><circle cx="262.1" cy="748.3" r="10.6"/><circle cx="517.2" cy="475.8" r="10.6"/><circle cx="239.8" cy="775.3" r="10.6"/><circle cx="154.3" cy="828.2" r="10.6"/><circle cx="371.4" cy="627.7" r="10.6"/><circle cx="354.1" cy="575.8" r="10.6"/><circle cx="178" cy="832.4" r="10.6"/><circle cx="421.3" cy="542.4" r="10.6"/><circle cx="295.7" cy="627.6" r="10.6"/><circle cx="151.1" cy="850.9" r="10.6"/><circle cx="157.3" cy="823.5" r="10.6"/><circle cx="213.5" cy="748.1" r="10.6"/><circle cx="498.6" cy="423.2" r="10.6"/><circle cx="422.5" cy="621.1" r="10.6"/><circle cx="550.1" cy="380.4" r="10.6"/><circle cx="245.2" cy="734.4" r="10.6"/><circle cx="436.6" cy="608.3" r="10.6"/><circle cx="274.8" cy="714.7" r="10.6"/><circle cx="332" cy="695.2" r="10.6"/><circle cx="473.4" cy="450" r="10.6"/><circle cx="148.1" cy="841" r="10.6"/><circle cx="391" cy="577.8" r="10.6"/><circle cx="208.3" cy="748.3" r="10.6"/><circle cx="268.6" cy="750.5" r="10.6"/><circle cx="381.2" cy="619.8" r="10.6"/><circle cx="182.1" cy="795" r="10.6"/><circle cx="234.8" cy="756.1" r="10.6"/><circle cx="299.8" cy="663.4" r="10.6"/><circle cx="337.5" cy="645.2" r="10.6"/><circle cx="243.1" cy="753.3" r="10.6"/><circle cx="182.4" cy="824.8" r="10.6"/><circle cx="376" cy="575.5" r="10.6"/><circle cx="348.6" cy="552.6" r="10.6"/><circle cx="453.5" cy="408.5" r="10.6"/><circle cx="331.4" cy="553" r="10.6"/><circle cx="533.5" cy="391.1" r="10.6"/><circle cx="338.8" cy="582.3" r="10.6"/><circle cx="277.4" cy="732.3" r="10.6"/><circle cx="319.1" cy="674" r="10.6"/><circle cx="218.7" cy="735.4" r="10.6"/><circle cx="461.9" cy="585.8" r="10.6"/><circle cx="555.7" cy="469" r="10.6"/><circle cx="194.7" cy="817.9" r="10.6"/><circle cx="513.9" cy="566.3" r="10.6"/><circle cx="492.3" cy="575.9" r="10.6"/><circle cx="242.4" cy="728.4" r="10.6"/><circle cx="264.1" cy="674.2" r="10.6"/><circle cx="299.7" cy="592.4" r="10.6"/><circle cx="353.3" cy="618.9" r="10.6"/><circle cx="443.1" cy="527.3" r="10.6"/><circle cx="298.7" cy="686.7" r="10.6"/><circle cx="443.6" cy="451.9" r="10.6"/><circle cx="244.9" cy="759.3" r="10.6"/><circle cx="430.4" cy="534.7" r="10.6"/><circle cx="274.9" cy="615.1" r="10.6"/><circle cx="306" cy="612.9" r="10.6"/><circle cx="437.5" cy="495.6" r="10.6"/><circle cx="147.8" cy="842.4" r="10.6"/><circle cx="402.5" cy="579.8" r="10.6"/><circle cx="233.4" cy="692.4" r="10.6"/><circle cx="336.7" cy="566.7" r="10.6"/><circle cx="162.1" cy="824.9" r="10.6"/><circle cx="204.5" cy="802.2" r="10.6"/><circle cx="477" cy="447.7" r="10.6"/><circle cx="361" cy="636.5" r="10.6"/><circle cx="238" cy="765.2" r="10.6"/><circle cx="253.5" cy="705.3" r="10.6"/><circle cx="402.1" cy="615.5" r="10.6"/><circle cx="392.9" cy="540.5" r="10.6"/><circle cx="286.4" cy="689.1" r="10.6"/><circle cx="489.7" cy="529.7" r="10.6"/><circle cx="230.2" cy="691.7" r="10.6"/><circle cx="222.5" cy="754.5" r="10.6"/><circle cx="170.5" cy="814" r="10.6"/><circle cx="239.6" cy="719.3" r="10.6"/><circle cx="279" cy="645.9" r="10.6"/><circle cx="312.8" cy="639.2" r="10.6"/><circle cx="455" cy="517.6" r="10.6"/><circle cx="210.4" cy="810.4" r="10.6"/><circle cx="285.3" cy="617.9" r="10.6"/><circle cx="507.5" cy="395.6" r="10.6"/><circle cx="443.4" cy="621" r="10.6"/><circle cx="354.4" cy="638.9" r="10.6"/><circle cx="356.4" cy="625.6" r="10.6"/><circle cx="170.6" cy="786" r="10.6"/><circle cx="394.7" cy="528.1" r="10.6"/><circle cx="524.8" cy="423" r="10.6"/><circle cx="406.6" cy="606.4" r="10.6"/><circle cx="437.3" cy="466.2" r="10.6"/><circle cx="382.8" cy="500.5" r="10.6"/><circle cx="201.7" cy="759.9" r="10.6"/><circle cx="415.1" cy="484" r="10.6"/><circle cx="361.2" cy="646" r="10.6"/><circle cx="397.9" cy="562" r="10.6"/><circle cx="240.7" cy="740.7" r="10.6"/><circle cx="353.3" cy="612.6" r="10.6"/><circle cx="298.5" cy="678.3" r="10.6"/><circle cx="173.6" cy="827" r="10.6"/><circle cx="314.1" cy="690.9" r="10.6"/><circle cx="489.2" cy="576.1" r="10.6"/><circle cx="495.6" cy="575.4" r="10.6"/><circle cx="686.3" cy="255" r="10.6"/><circle cx="279.4" cy="720.5" r="10.6"/><circle cx="235" cy="758.8" r="10.6"/><circle cx="648.7" cy="343.7" r="10.6"/><circle cx="336.8" cy="638.5" r="10.6"/><circle cx="357.2" cy="645.8" r="10.6"/><circle cx="291.6" cy="697.4" r="10.6"/><circle cx="435.8" cy="441.4" r="10.6"/><circle cx="492.8" cy="498.1" r="10.6"/><circle cx="508.2" cy="490" r="10.6"/><circle cx="309" cy="674.4" r="10.6"/><circle cx="147.6" cy="854.7" r="10.6"/><circle cx="169.3" cy="841.2" r="10.6"/><circle cx="213.1" cy="690.2" r="10.6"/><circle cx="262.7" cy="663.8" r="10.6"/><circle cx="404.8" cy="577" r="10.6"/><circle cx="268.6" cy="712.5" r="10.6"/><circle cx="154.8" cy="848.9" r="10.6"/><circle cx="523.7" cy="472.1" r="10.6"/><circle cx="169.3" cy="837.8" r="10.6"/><circle cx="303.6" cy="684.9" r="10.6"/><circle cx="354.8" cy="601.2" r="10.6"/><circle cx="357.7" cy="679.5" r="10.6"/><circle cx="212.2" cy="766.4" r="10.6"/><circle cx="331.3" cy="699.4" r="10.6"/><circle cx="289.2" cy="674.5" r="10.6"/><circle cx="201.8" cy="750.2" r="10.6"/><circle cx="331" cy="659.1" r="10.6"/><circle cx="664.6" cy="289.6" r="10.6"/><circle cx="313.5" cy="637.1" r="10.6"/><circle cx="315" cy="600.2" r="10.6"/><circle cx="475.7" cy="575.6" r="10.6"/><circle cx="372.6" cy="646.6" r="10.6"/><circle cx="166.6" cy="814.3" r="10.6"/><circle cx="572.1" cy="385.9" r="10.6"/><circle cx="184.2" cy="832.2" r="10.6"/><circle cx="310.9" cy="645.1" r="10.6"/><circle cx="667.1" cy="315.7" r="10.6"/><circle cx="280.1" cy="726.9" r="10.6"/><circle cx="500.5" cy="438.3" r="10.6"/><circle cx="673.2" cy="291.8" r="10.6"/><circle cx="605.8" cy="338.9" r="10.6"/><circle cx="238.2" cy="713.5" r="10.6"/><circle cx="217.6" cy="792.5" r="10.6"/><circle cx="305.9" cy="645.5" r="10.6"/><circle cx="545.1" cy="434.4" r="10.6"/><circle cx="351.6" cy="593.1" r="10.6"/><circle cx="641.3" cy="322.8" r="10.6"/><circle cx="301" cy="617.8" r="10.6"/><circle cx="301.2" cy="660.8" r="10.6"/><circle cx="409.9" cy="642.1" r="10.6"/><circle cx="539.1" cy="438.2" r="10.6"/><circle cx="219.2" cy="709.2" r="10.6"/><circle cx="302.9" cy="634.6" r="10.6"/><circle cx="484.5" cy="582.9" r="10.6"/><circle cx="197.1" cy="764.7" r="10.6"/><circle cx="148.6" cy="833.2" r="10.6"/><circle cx="294.4" cy="607.8" r="10.6"/><circle cx="436.8" cy="537.3" r="10.6"/><circle cx="156.4" cy="849.7" r="10.6"/><circle cx="537.1" cy="422.7" r="10.6"/><circle cx="216.4" cy="783.3" r="10.6"/><circle cx="167.5" cy="796.4" r="10.6"/><circle cx="402.5" cy="573.5" r="10.6"/><circle cx="299.8" cy="629.8" r="10.6"/><circle cx="500.8" cy="564.5" r="10.6"/><circle cx="187.1" cy="748.1" r="10.6"/><circle cx="184.6" cy="794.4" r="10.6"/><circle cx="194.5" cy="805.4" r="10.6"/><circle cx="422.4" cy="515.9" r="10.6"/><circle cx="197" cy="821.7" r="10.6"/><circle cx="178.7" cy="821.8" r="10.6"/><circle cx="226.3" cy="774.3" r="10.6"/><circle cx="298" cy="718.5" r="10.6"/><circle cx="358.6" cy="587" r="10.6"/><circle cx="492" cy="546.8" r="10.6"/><circle cx="357.7" cy="657.8" r="10.6"/><circle cx="320.6" cy="721.7" r="10.6"/><circle cx="535.6" cy="440.7" r="10.6"/><circle cx="410.3" cy="588.3" r="10.6"/><circle cx="280.2" cy="677.9" r="10.6"/><circle cx="301.4" cy="621.5" r="10.6"/><circle cx="466.7" cy="403.3" r="10.6"/><circle cx="656.5" cy="289.2" r="10.6"/><circle cx="303.8" cy="618.5" r="10.6"/><circle cx="176.7" cy="820.9" r="10.6"/><circle cx="457.6" cy="604.2" r="10.6"/><circle cx="228.7" cy="728.8" r="10.6"/><circle cx="273.5" cy="676" r="10.6"/><circle cx="162.6" cy="838.2" r="10.6"/><circle cx="319" cy="644.3" r="10.6"/><circle cx="534.7" cy="375.6" r="10.6"/><circle cx="305.9" cy="654.7" r="10.6"/><circle cx="461.3" cy="429.9" r="10.6"/><circle cx="348.3" cy="665.1" r="10.6"/><circle cx="218.6" cy="795.5" r="10.6"/><circle cx="254.4" cy="748.5" r="10.6"/><circle cx="444.7" cy="466.2" r="10.6"/><circle cx="324.8" cy="670.4" r="10.6"/><circle cx="241" cy="596" r="10.6"/><circle cx="265" cy="590" r="10.6"/><circle cx="275" cy="588" r="10.6"/><circle cx="222" cy="655" r="10.6"/><circle cx="236" cy="610" r="10.6"/><circle cx="284.5" cy="788.6" r="10.6"/><circle cx="282.3" cy="817.7" r="10.6"/><circle cx="256.5" cy="824.4" r="10.6"/><circle cx="227.4" cy="835.6" r="10.6"/><circle cx="187" cy="851.3" r="10.6"/><circle cx="485" cy="573.4" r="10.6"/><circle cx="263" cy="800" r="10.6"/><circle cx="245" cy="812" r="10.6"/><circle cx="300" cy="770" r="10.6"/><circle cx="807" cy="121" r="10.6"/><circle cx="845" cy="138" r="10.6"/><circle cx="601" cy="234" r="10.6"/><circle cx="664" cy="213" r="10.6"/><circle cx="691" cy="221" r="10.6"/><circle cx="627.5" cy="271" r="10.6"/><circle cx="790" cy="298.6" r="10.6"/><circle cx="353" cy="362" r="10.6"/><circle cx="380.5" cy="365" r="10.6"/><circle cx="277" cy="486" r="10.6"/><circle cx="301.6" cy="483" r="10.6"/><circle cx="288.5" cy="513.7" r="10.6"/><circle cx="324" cy="498" r="10.6"/><circle cx="212.5" cy="520" r="10.6"/><circle cx="312" cy="526" r="10.6"/><circle cx="703" cy="336.5" r="10.6"/><circle cx="663" cy="390" r="10.6"/><circle cx="562" cy="476" r="10.6"/><circle cx="677.9" cy="339.7" r="10.6"/><circle cx="574.1" cy="318.9" r="10.6"/><circle cx="559.3" cy="342.6" r="10.6"/><circle cx="663" cy="384.1" r="10.6"/><circle cx="603.8" cy="443.4" r="10.6"/>
</g>
<g fill="#fff" stroke="#4472C4" stroke-opacity="0.6" stroke-width="10">
<circle cx="161.2" cy="819.7" r="10.6"/><circle cx="650.9" cy="333.8" r="10.6"/><circle cx="175.2" cy="831.5" r="10.6"/><circle cx="494.7" cy="426.6" r="10.6"/><circle cx="173.5" cy="798.4" r="10.6"/><circle cx="284.1" cy="715.8" r="10.6"/><circle cx="190.6" cy="813.6" r="10.6"/><circle cx="215.7" cy="779.8" r="10.6"/><circle cx="235" cy="684.8" r="10.6"/><circle cx="312.5" cy="639.2" r="10.6"/><circle cx="332.7" cy="604" r="10.6"/><circle cx="503.4" cy="474.4" r="10.6"/><circle cx="413.1" cy="578.3" r="10.6"/><circle cx="174.7" cy="827.8" r="10.6"/><circle cx="217.1" cy="696.9" r="10.6"/><circle cx="488.7" cy="451.8" r="10.6"/><circle cx="482.8" cy="489.5" r="10.6"/><circle cx="262.2" cy="747.6" r="10.6"/><circle cx="441.1" cy="573.6" r="10.6"/><circle cx="178.4" cy="808.6" r="10.6"/><circle cx="710" cy="251.4" r="10.6"/><circle cx="427.1" cy="556.4" r="10.6"/><circle cx="487.1" cy="560.8" r="10.6"/><circle cx="526.2" cy="404" r="10.6"/><circle cx="450.9" cy="468.4" r="10.6"/><circle cx="535.6" cy="380.5" r="10.6"/><circle cx="689" cy="290.7" r="10.6"/><circle cx="160.2" cy="824.9" r="10.6"/><circle cx="462.6" cy="504.7" r="10.6"/><circle cx="261.4" cy="731.9" r="10.6"/><circle cx="180.3" cy="817" r="10.6"/><circle cx="245.3" cy="766.4" r="10.6"/><circle cx="190.3" cy="801.1" r="10.6"/><circle cx="238.9" cy="647.6" r="10.6"/><circle cx="265.1" cy="702.5" r="10.6"/><circle cx="339.2" cy="547.6" r="10.6"/><circle cx="343.9" cy="602.4" r="10.6"/><circle cx="248.8" cy="728.2" r="10.6"/><circle cx="457.6" cy="488.8" r="10.6"/><circle cx="338" cy="671.8" r="10.6"/><circle cx="264.8" cy="685.9" r="10.6"/><circle cx="224" cy="784.9" r="10.6"/><circle cx="351.5" cy="634.9" r="10.6"/><circle cx="440.4" cy="511.5" r="10.6"/><circle cx="448.5" cy="541.5" r="10.6"/><circle cx="340.9" cy="683.6" r="10.6"/><circle cx="274.5" cy="737.7" r="10.6"/><circle cx="239.2" cy="750.8" r="10.6"/><circle cx="304.3" cy="684.5" r="10.6"/><circle cx="500.1" cy="404.8" r="10.6"/><circle cx="325" cy="692.2" r="10.6"/><circle cx="419.6" cy="470.5" r="10.6"/><circle cx="476.2" cy="544.8" r="10.6"/><circle cx="441.5" cy="569.4" r="10.6"/><circle cx="680.5" cy="255.6" r="10.6"/><circle cx="263.7" cy="690.6" r="10.6"/><circle cx="285" cy="680.3" r="10.6"/><circle cx="305.2" cy="696.1" r="10.6"/><circle cx="193.3" cy="797.9" r="10.6"/><circle cx="459.3" cy="501.5" r="10.6"/><circle cx="336.8" cy="558.9" r="10.6"/><circle cx="489.1" cy="529.4" r="10.6"/><circle cx="501.8" cy="446" r="10.6"/><circle cx="267.9" cy="658.4" r="10.6"/><circle cx="422.4" cy="493.4" r="10.6"/><circle cx="334.9" cy="563.4" r="10.6"/><circle cx="400.2" cy="569.9" r="10.6"/><circle cx="148.2" cy="843.2" r="10.6"/><circle cx="544.2" cy="487.8" r="10.6"/><circle cx="435" cy="508.5" r="10.6"/><circle cx="264.3" cy="751.2" r="10.6"/><circle cx="467.3" cy="523.2" r="10.6"/><circle cx="252.3" cy="676.6" r="10.6"/><circle cx="199.5" cy="767.8" r="10.6"/><circle cx="356" cy="652.1" r="10.6"/><circle cx="269.3" cy="667.9" r="10.6"/><circle cx="240.7" cy="643.8" r="10.6"/><circle cx="172.8" cy="826.6" r="10.6"/><circle cx="253.4" cy="682.5" r="10.6"/><circle cx="658.3" cy="285.2" r="10.6"/><circle cx="223.4" cy="763.3" r="10.6"/><circle cx="235.7" cy="761.4" r="10.6"/><circle cx="404.4" cy="610.4" r="10.6"/><circle cx="485.3" cy="564.4" r="10.6"/><circle cx="254.7" cy="695.6" r="10.6"/><circle cx="164.1" cy="841.6" r="10.6"/><circle cx="336.6" cy="570.7" r="10.6"/><circle cx="557.2" cy="372.1" r="10.6"/><circle cx="308.2" cy="602.9" r="10.6"/><circle cx="152.1" cy="854.7" r="10.6"/><circle cx="398.6" cy="506.6" r="10.6"/><circle cx="450.8" cy="490.3" r="10.6"/><circle cx="451.5" cy="471.4" r="10.6"/><circle cx="530.4" cy="423.1" r="10.6"/><circle cx="312.6" cy="649.3" r="10.6"/><circle cx="268.9" cy="725.9" r="10.6"/><circle cx="287.1" cy="702.9" r="10.6"/><circle cx="289.7" cy="695.7" r="10.6"/><circle cx="227.4" cy="749.5" r="10.6"/><circle cx="269.4" cy="748.4" r="10.6"/><circle cx="482.4" cy="420.5" r="10.6"/><circle cx="253.6" cy="753.7" r="10.6"/><circle cx="308.7" cy="708.5" r="10.6"/><circle cx="182.2" cy="823.6" r="10.6"/><circle cx="702.2" cy="237" r="10.6"/><circle cx="209.2" cy="707.4" r="10.6"/><circle cx="318.4" cy="688" r="10.6"/><circle cx="374.4" cy="650.3" r="10.6"/><circle cx="446.1" cy="475.2" r="10.6"/><circle cx="403.2" cy="591.1" r="10.6"/><circle cx="209.1" cy="771.9" r="10.6"/><circle cx="213.9" cy="798.1" r="10.6"/><circle cx="152.3" cy="853.4" r="10.6"/><circle cx="509.4" cy="393.4" r="10.6"/><circle cx="297.8" cy="668.7" r="10.6"/><circle cx="464" cy="583.4" r="10.6"/><circle cx="270.9" cy="714.3" r="10.6"/><circle cx="495.2" cy="478.3" r="10.6"/><circle cx="238.8" cy="753.3" r="10.6"/><circle cx="147.2" cy="847.1" r="10.6"/><circle cx="336.9" cy="616.7" r="10.6"/><circle cx="359.1" cy="541" r="10.6"/><circle cx="205.2" cy="720.6" r="10.6"/><circle cx="470.8" cy="434.1" r="10.6"/><circle cx="194.3" cy="817.8" r="10.6"/><circle cx="278.7" cy="707.4" r="10.6"/><circle cx="292.3" cy="682" r="10.6"/><circle cx="194.5" cy="735.5" r="10.6"/><circle cx="247.3" cy="726.8" r="10.6"/><circle cx="547.1" cy="362.5" r="10.6"/><circle cx="310.8" cy="683.3" r="10.6"/><circle cx="243" cy="752.7" r="10.6"/><circle cx="355.3" cy="619.8" r="10.6"/><circle cx="474.3" cy="539.5" r="10.6"/><circle cx="281" cy="703.8" r="10.6"/><circle cx="253.6" cy="747.9" r="10.6"/><circle cx="147.8" cy="854.1" r="10.6"/><circle cx="427.4" cy="470.2" r="10.6"/><circle cx="184.2" cy="805.6" r="10.6"/><circle cx="303.3" cy="683.5" r="10.6"/><circle cx="269.5" cy="646.7" r="10.6"/><circle cx="183.4" cy="788.2" r="10.6"/><circle cx="278.6" cy="724.1" r="10.6"/><circle cx="261.5" cy="644.7" r="10.6"/><circle cx="515" cy="400.6" r="10.6"/><circle cx="235.1" cy="776.6" r="10.6"/><circle cx="274.9" cy="739.5" r="10.6"/><circle cx="496.2" cy="557.4" r="10.6"/><circle cx="159.8" cy="850" r="10.6"/><circle cx="331.2" cy="657.2" r="10.6"/><circle cx="241.2" cy="753.8" r="10.6"/><circle cx="481.7" cy="540.2" r="10.6"/><circle cx="440.5" cy="585.7" r="10.6"/><circle cx="304.8" cy="577.1" r="10.6"/><circle cx="235.3" cy="756.6" r="10.6"/><circle cx="362.5" cy="527.4" r="10.6"/><circle cx="491.1" cy="450.5" r="10.6"/><circle cx="337.4" cy="635.3" r="10.6"/><circle cx="259.2" cy="730.5" r="10.6"/><circle cx="408.5" cy="565.9" r="10.6"/><circle cx="229.5" cy="769.6" r="10.6"/><circle cx="166.7" cy="833.5" r="10.6"/><circle cx="163.5" cy="833.9" r="10.6"/><circle cx="315.5" cy="683.1" r="10.6"/><circle cx="193.7" cy="819.5" r="10.6"/><circle cx="436.4" cy="457.5" r="10.6"/><circle cx="271.8" cy="719" r="10.6"/><circle cx="219.6" cy="778.8" r="10.6"/><circle cx="237.3" cy="772.8" r="10.6"/><circle cx="304.4" cy="724" r="10.6"/><circle cx="378.4" cy="605.7" r="10.6"/><circle cx="365" cy="552.3" r="10.6"/><circle cx="707.3" cy="237.8" r="10.6"/><circle cx="282.6" cy="681.7" r="10.6"/><circle cx="156.6" cy="838.8" r="10.6"/><circle cx="389.6" cy="520.6" r="10.6"/><circle cx="409" cy="616.1" r="10.6"/><circle cx="149.7" cy="851.4" r="10.6"/><circle cx="204.3" cy="798.3" r="10.6"/><circle cx="524.9" cy="388" r="10.6"/><circle cx="528.6" cy="429.8" r="10.6"/><circle cx="580.9" cy="395" r="10.6"/><circle cx="551.5" cy="388" r="10.6"/><circle cx="373.9" cy="605.3" r="10.6"/><circle cx="229.5" cy="735.3" r="10.6"/><circle cx="305.4" cy="623.5" r="10.6"/><circle cx="275.6" cy="724.4" r="10.6"/><circle cx="167.9" cy="828.3" r="10.6"/><circle cx="148.1" cy="852.5" r="10.6"/><circle cx="204.5" cy="799" r="10.6"/><circle cx="233.8" cy="762.1" r="10.6"/><circle cx="363.8" cy="631.2" r="10.6"/><circle cx="214.6" cy="718.3" r="10.6"/><circle cx="419.3" cy="560.3" r="10.6"/><circle cx="461.1" cy="498.2" r="10.6"/><circle cx="414.2" cy="568.3" r="10.6"/><circle cx="550.1" cy="385.9" r="10.6"/><circle cx="158.4" cy="821.9" r="10.6"/><circle cx="163.4" cy="815.2" r="10.6"/><circle cx="311.6" cy="618.4" r="10.6"/><circle cx="174.1" cy="824.9" r="10.6"/><circle cx="274.9" cy="709" r="10.6"/><circle cx="463.6" cy="461.1" r="10.6"/><circle cx="178.5" cy="824.4" r="10.6"/><circle cx="306.4" cy="709.4" r="10.6"/><circle cx="319.6" cy="648" r="10.6"/><circle cx="334.4" cy="703.4" r="10.6"/><circle cx="423.5" cy="489.1" r="10.6"/><circle cx="446.7" cy="465.8" r="10.6"/><circle cx="206.8" cy="719.4" r="10.6"/><circle cx="348" cy="655.2" r="10.6"/><circle cx="171.1" cy="832.6" r="10.6"/><circle cx="551.8" cy="361.8" r="10.6"/><circle cx="256.6" cy="752.5" r="10.6"/><circle cx="491.8" cy="433.4" r="10.6"/><circle cx="261.6" cy="744.5" r="10.6"/><circle cx="520.8" cy="444.6" r="10.6"/><circle cx="433.3" cy="588.2" r="10.6"/><circle cx="156.9" cy="849.2" r="10.6"/><circle cx="150.7" cy="828.7" r="10.6"/><circle cx="195.4" cy="803.7" r="10.6"/><circle cx="286.3" cy="679.4" r="10.6"/><circle cx="180.5" cy="827.9" r="10.6"/><circle cx="207.3" cy="803.1" r="10.6"/><circle cx="274" cy="738.7" r="10.6"/><circle cx="339.6" cy="599.2" r="10.6"/><circle cx="634.3" cy="357.2" r="10.6"/><circle cx="243.5" cy="748.7" r="10.6"/><circle cx="433.8" cy="548.1" r="10.6"/><circle cx="410.5" cy="504.5" r="10.6"/><circle cx="395" cy="588.4" r="10.6"/><circle cx="460.2" cy="583.2" r="10.6"/><circle cx="354.5" cy="607.9" r="10.6"/><circle cx="153.6" cy="828.4" r="10.6"/><circle cx="287.8" cy="620.3" r="10.6"/><circle cx="242.4" cy="754.6" r="10.6"/><circle cx="206" cy="751.9" r="10.6"/><circle cx="187.7" cy="776.7" r="10.6"/><circle cx="477.8" cy="446.6" r="10.6"/><circle cx="336.8" cy="560.1" r="10.6"/><circle cx="204.6" cy="792" r="10.6"/><circle cx="303.3" cy="662.4" r="10.6"/><circle cx="628.1" cy="354.8" r="10.6"/><circle cx="163.7" cy="813.2" r="10.6"/><circle cx="397.5" cy="581.6" r="10.6"/><circle cx="151" cy="847.6" r="10.6"/><circle cx="233.4" cy="745.5" r="10.6"/><circle cx="158.6" cy="848.9" r="10.6"/><circle cx="361.9" cy="604.3" r="10.6"/><circle cx="177.6" cy="819.8" r="10.6"/><circle cx="344" cy="689.5" r="10.6"/><circle cx="287.5" cy="712" r="10.6"/><circle cx="273.4" cy="739.4" r="10.6"/><circle cx="224.9" cy="755.6" r="10.6"/><circle cx="325.9" cy="621.7" r="10.6"/><circle cx="165.9" cy="814.5" r="10.6"/><circle cx="223.1" cy="770.2" r="10.6"/><circle cx="621.4" cy="332.5" r="10.6"/><circle cx="341.4" cy="589.4" r="10.6"/><circle cx="230.3" cy="742.8" r="10.6"/><circle cx="542.5" cy="386.5" r="10.6"/><circle cx="472.1" cy="563.8" r="10.6"/><circle cx="466.5" cy="474.5" r="10.6"/><circle cx="475.6" cy="416.2" r="10.6"/><circle cx="206.5" cy="776.4" r="10.6"/><circle cx="520.7" cy="500.7" r="10.6"/><circle cx="350.6" cy="644.5" r="10.6"/><circle cx="286.6" cy="725.5" r="10.6"/><circle cx="670.4" cy="291.5" r="10.6"/><circle cx="515" cy="442.2" r="10.6"/><circle cx="281.6" cy="727.4" r="10.6"/><circle cx="153.2" cy="845.7" r="10.6"/><circle cx="545.9" cy="396.9" r="10.6"/><circle cx="382.1" cy="596.5" r="10.6"/><circle cx="429.1" cy="590.7" r="10.6"/><circle cx="234.3" cy="681.5" r="10.6"/><circle cx="198.9" cy="822.9" r="10.6"/><circle cx="227.6" cy="685.5" r="10.6"/><circle cx="220.9" cy="795.7" r="10.6"/><circle cx="160.9" cy="818.2" r="10.6"/><circle cx="251.4" cy="750.9" r="10.6"/><circle cx="167" cy="819.3" r="10.6"/><circle cx="504.5" cy="398.8" r="10.6"/><circle cx="180.4" cy="828.1" r="10.6"/><circle cx="327.2" cy="664.3" r="10.6"/><circle cx="242" cy="748.2" r="10.6"/><circle cx="305.8" cy="678.5" r="10.6"/><circle cx="157.3" cy="836.1" r="10.6"/><circle cx="331.6" cy="696" r="10.6"/><circle cx="437.9" cy="448.8" r="10.6"/><circle cx="189.8" cy="746.7" r="10.6"/><circle cx="306.5" cy="627.1" r="10.6"/><circle cx="282.2" cy="711.5" r="10.6"/><circle cx="204.2" cy="730.4" r="10.6"/><circle cx="284.6" cy="685.3" r="10.6"/><circle cx="377.7" cy="584.6" r="10.6"/><circle cx="367.2" cy="627.2" r="10.6"/><circle cx="419.3" cy="573.4" r="10.6"/><circle cx="472.5" cy="570.6" r="10.6"/><circle cx="464.5" cy="440.5" r="10.6"/><circle cx="524.1" cy="467.9" r="10.6"/><circle cx="177.9" cy="798.9" r="10.6"/><circle cx="475.3" cy="411.6" r="10.6"/><circle cx="310.5" cy="676.3" r="10.6"/><circle cx="227.4" cy="782.5" r="10.6"/><circle cx="526.8" cy="522.2" r="10.6"/><circle cx="149.9" cy="853.7" r="10.6"/><circle cx="251" cy="637.5" r="10.6"/><circle cx="307.6" cy="676.6" r="10.6"/><circle cx="530.9" cy="429.3" r="10.6"/><circle cx="364.8" cy="548.2" r="10.6"/><circle cx="256.2" cy="738.4" r="10.6"/><circle cx="646.7" cy="339.5" r="10.6"/><circle cx="486.2" cy="453.6" r="10.6"/><circle cx="155.3" cy="837.6" r="10.6"/><circle cx="272.8" cy="712.6" r="10.6"/><circle cx="721.7" cy="260.9" r="10.6"/><circle cx="242.6" cy="733.2" r="10.6"/><circle cx="227.4" cy="766" r="10.6"/><circle cx="398.6" cy="595.1" r="10.6"/><circle cx="402.3" cy="629.3" r="10.6"/><circle cx="492" cy="455.9" r="10.6"/><circle cx="486.3" cy="422.4" r="10.6"/><circle cx="225.9" cy="772.1" r="10.6"/><circle cx="465.2" cy="488.2" r="10.6"/><circle cx="160.5" cy="839.6" r="10.6"/><circle cx="339.7" cy="686.3" r="10.6"/><circle cx="334.2" cy="651.2" r="10.6"/><circle cx="405" cy="545.6" r="10.6"/><circle cx="341.2" cy="604.8" r="10.6"/><circle cx="286.2" cy="710.3" r="10.6"/><circle cx="395.9" cy="589.8" r="10.6"/><circle cx="499.3" cy="404.4" r="10.6"/><circle cx="360.3" cy="585.5" r="10.6"/><circle cx="558" cy="485.7" r="10.6"/><circle cx="155.1" cy="841.4" r="10.6"/><circle cx="516.3" cy="411.4" r="10.6"/><circle cx="164.1" cy="836.2" r="10.6"/><circle cx="299.5" cy="584.1" r="10.6"/><circle cx="435.6" cy="542" r="10.6"/><circle cx="211.8" cy="774" r="10.6"/><circle cx="231.4" cy="761.6" r="10.6"/><circle cx="164.4" cy="825.9" r="10.6"/><circle cx="197" cy="764.9" r="10.6"/><circle cx="323.4" cy="559.8" r="10.6"/><circle cx="491.8" cy="424.5" r="10.6"/><circle cx="522.8" cy="447.9" r="10.6"/><circle cx="147.6" cy="839.7" r="10.6"/><circle cx="356.1" cy="581.2" r="10.6"/><circle cx="436.8" cy="443.5" r="10.6"/><circle cx="490.7" cy="400.6" r="10.6"/><circle cx="257.7" cy="732.8" r="10.6"/><circle cx="341" cy="569" r="10.6"/><circle cx="162.7" cy="844.9" r="10.6"/><circle cx="156.9" cy="830.5" r="10.6"/><circle cx="309.1" cy="687.6" r="10.6"/><circle cx="231.4" cy="735.1" r="10.6"/><circle cx="315.2" cy="690.5" r="10.6"/><circle cx="332.1" cy="629.1" r="10.6"/><circle cx="490.2" cy="406.7" r="10.6"/><circle cx="307.8" cy="641" r="10.6"/><circle cx="189.2" cy="762.6" r="10.6"/><circle cx="511.5" cy="522.6" r="10.6"/><circle cx="482.6" cy="559.1" r="10.6"/><circle cx="297.9" cy="609.5" r="10.6"/><circle cx="288.7" cy="677.6" r="10.6"/><circle cx="178.3" cy="793.1" r="10.6"/><circle cx="539.4" cy="419.1" r="10.6"/><circle cx="195" cy="790.7" r="10.6"/><circle cx="157.9" cy="829.8" r="10.6"/><circle cx="409.5" cy="613.8" r="10.6"/><circle cx="147.2" cy="841.7" r="10.6"/><circle cx="311.8" cy="594.2" r="10.6"/><circle cx="563.3" cy="404.1" r="10.6"/><circle cx="259.2" cy="738.6" r="10.6"/><circle cx="426.5" cy="541.8" r="10.6"/><circle cx="330.6" cy="693.4" r="10.6"/><circle cx="338.7" cy="699.8" r="10.6"/><circle cx="188.1" cy="821.7" r="10.6"/><circle cx="295.5" cy="643.7" r="10.6"/><circle cx="514.5" cy="481.8" r="10.6"/><circle cx="293" cy="682.6" r="10.6"/><circle cx="267.8" cy="736.2" r="10.6"/><circle cx="297.5" cy="710.1" r="10.6"/><circle cx="167.6" cy="831" r="10.6"/><circle cx="271" cy="684.8" r="10.6"/><circle cx="154.6" cy="836.5" r="10.6"/><circle cx="292" cy="614.7" r="10.6"/><circle cx="190.5" cy="810" r="10.6"/><circle cx="255.6" cy="745.7" r="10.6"/><circle cx="493" cy="402.4" r="10.6"/><circle cx="225.3" cy="760.3" r="10.6"/><circle cx="408.2" cy="601.3" r="10.6"/><circle cx="525.9" cy="404.8" r="10.6"/><circle cx="274.6" cy="678.6" r="10.6"/><circle cx="492.5" cy="464.2" r="10.6"/><circle cx="179.7" cy="776.8" r="10.6"/><circle cx="234" cy="777" r="10.6"/><circle cx="381.8" cy="600.7" r="10.6"/><circle cx="596.9" cy="378.5" r="10.6"/><circle cx="151.9" cy="833.9" r="10.6"/><circle cx="286.2" cy="718.3" r="10.6"/><circle cx="155.7" cy="831.9" r="10.6"/><circle cx="227.6" cy="783.4" r="10.6"/><circle cx="333.4" cy="668.4" r="10.6"/><circle cx="286.7" cy="629.1" r="10.6"/><circle cx="357.1" cy="652" r="10.6"/><circle cx="191.4" cy="820.5" r="10.6"/><circle cx="348.9" cy="603.7" r="10.6"/><circle cx="170.9" cy="818.5" r="10.6"/><circle cx="353.8" cy="654.2" r="10.6"/><circle cx="536.4" cy="385.7" r="10.6"/><circle cx="398.5" cy="622.5" r="10.6"/><circle cx="158.3" cy="820.4" r="10.6"/><circle cx="263.4" cy="727" r="10.6"/><circle cx="299" cy="685.3" r="10.6"/><circle cx="356" cy="674.1" r="10.6"/><circle cx="211" cy="804" r="10.6"/><circle cx="184.9" cy="790.6" r="10.6"/><circle cx="401.2" cy="520.4" r="10.6"/><circle cx="348" cy="594.1" r="10.6"/><circle cx="254" cy="759.3" r="10.6"/><circle cx="171" cy="829.8" r="10.6"/><circle cx="188" cy="814.3" r="10.6"/><circle cx="168.7" cy="826.3" r="10.6"/><circle cx="273.5" cy="621.5" r="10.6"/><circle cx="147.6" cy="838.1" r="10.6"/><circle cx="307.7" cy="706" r="10.6"/><circle cx="476.8" cy="468.7" r="10.6"/><circle cx="169.5" cy="816.7" r="10.6"/><circle cx="418.5" cy="509.1" r="10.6"/><circle cx="222.9" cy="774.2" r="10.6"/><circle cx="306" cy="641.7" r="10.6"/><circle cx="599.6" cy="388.4" r="10.6"/><circle cx="154.7" cy="848.5" r="10.6"/><circle cx="258" cy="696.6" r="10.6"/><circle cx="519.2" cy="547.2" r="10.6"/><circle cx="271" cy="646.9" r="10.6"/><circle cx="215.1" cy="773" r="10.6"/><circle cx="217.9" cy="797.2" r="10.6"/><circle cx="301.8" cy="680.2" r="10.6"/><circle cx="712.8" cy="270.2" r="10.6"/><circle cx="215.3" cy="767" r="10.6"/><circle cx="231.4" cy="772.3" r="10.6"/><circle cx="188.5" cy="801.5" r="10.6"/><circle cx="442.9" cy="563.3" r="10.6"/><circle cx="168.6" cy="814.8" r="10.6"/><circle cx="380.4" cy="610.7" r="10.6"/><circle cx="193" cy="814.3" r="10.6"/><circle cx="279.2" cy="706.7" r="10.6"/><circle cx="225" cy="753" r="10.6"/><circle cx="231.5" cy="777" r="10.6"/><circle cx="336.1" cy="572.4" r="10.6"/><circle cx="148.8" cy="852.5" r="10.6"/><circle cx="155.4" cy="851" r="10.6"/><circle cx="286.8" cy="654.1" r="10.6"/><circle cx="276" cy="713.6" r="10.6"/><circle cx="264" cy="650" r="10.6"/><circle cx="424.2" cy="533.6" r="10.6"/><circle cx="153.9" cy="839.6" r="10.6"/><circle cx="380.3" cy="550.7" r="10.6"/><circle cx="275.9" cy="740" r="10.6"/><circle cx="284.3" cy="698.3" r="10.6"/><circle cx="248" cy="639" r="10.6"/><circle cx="371.1" cy="652.1" r="10.6"/><circle cx="323.6" cy="639.4" r="10.6"/><circle cx="516.9" cy="520.5" r="10.6"/><circle cx="335.4" cy="672" r="10.6"/><circle cx="161.8" cy="834" r="10.6"/><circle cx="234.6" cy="735.6" r="10.6"/><circle cx="224.6" cy="721.1" r="10.6"/><circle cx="455.9" cy="488.2" r="10.6"/><circle cx="507.9" cy="450.1" r="10.6"/><circle cx="442.3" cy="457" r="10.6"/><circle cx="250.1" cy="666.6" r="10.6"/><circle cx="264.3" cy="621.2" r="10.6"/><circle cx="318.9" cy="644.4" r="10.6"/><circle cx="368.4" cy="566" r="10.6"/><circle cx="244.2" cy="667.3" r="10.6"/><circle cx="180.2" cy="815.8" r="10.6"/><circle cx="446.9" cy="444.4" r="10.6"/><circle cx="157.7" cy="852.5" r="10.6"/><circle cx="301.4" cy="694.5" r="10.6"/><circle cx="533.9" cy="424" r="10.6"/><circle cx="453.4" cy="515.7" r="10.6"/><circle cx="162.5" cy="817.5" r="10.6"/><circle cx="364.1" cy="582.7" r="10.6"/><circle cx="193.6" cy="815.2" r="10.6"/><circle cx="575.6" cy="401.4" r="10.6"/><circle cx="154.3" cy="845.1" r="10.6"/><circle cx="185" cy="786.1" r="10.6"/><circle cx="499.8" cy="490" r="10.6"/><circle cx="335.4" cy="673.8" r="10.6"/><circle cx="154.1" cy="838.9" r="10.6"/><circle cx="206.3" cy="791.2" r="10.6"/><circle cx="468" cy="512.9" r="10.6"/><circle cx="396.3" cy="594" r="10.6"/><circle cx="460.1" cy="522.4" r="10.6"/><circle cx="507.2" cy="522" r="10.6"/><circle cx="528.6" cy="474.1" r="10.6"/><circle cx="493.9" cy="478.2" r="10.6"/><circle cx="468.2" cy="458.1" r="10.6"/><circle cx="200" cy="778.1" r="10.6"/><circle cx="379.5" cy="609.8" r="10.6"/><circle cx="476.8" cy="527.6" r="10.6"/><circle cx="336" cy="587" r="10.6"/><circle cx="319.6" cy="588.7" r="10.6"/><circle cx="283.1" cy="735.4" r="10.6"/><circle cx="367.5" cy="572.1" r="10.6"/><circle cx="325.3" cy="670.8" r="10.6"/><circle cx="470.2" cy="575.6" r="10.6"/><circle cx="180.7" cy="822.9" r="10.6"/><circle cx="455.5" cy="494.3" r="10.6"/><circle cx="277.6" cy="737.9" r="10.6"/><circle cx="479.3" cy="443.7" r="10.6"/><circle cx="300" cy="638.8" r="10.6"/><circle cx="158.9" cy="831" r="10.6"/><circle cx="219.7" cy="754.1" r="10.6"/><circle cx="359" cy="669.4" r="10.6"/><circle cx="386.4" cy="601.2" r="10.6"/><circle cx="165.7" cy="846.9" r="10.6"/><circle cx="179.6" cy="820.2" r="10.6"/><circle cx="188.8" cy="779.3" r="10.6"/><circle cx="263.1" cy="750.5" r="10.6"/><circle cx="182.4" cy="789.5" r="10.6"/><circle cx="227.2" cy="785.6" r="10.6"/><circle cx="255.5" cy="734" r="10.6"/><circle cx="304.4" cy="593.6" r="10.6"/><circle cx="222.3" cy="710.3" r="10.6"/><circle cx="149.7" cy="842.5" r="10.6"/><circle cx="309.3" cy="596.3" r="10.6"/><circle cx="169" cy="833.8" r="10.6"/><circle cx="410.9" cy="532.8" r="10.6"/><circle cx="151.9" cy="830.6" r="10.6"/><circle cx="506.5" cy="391.6" r="10.6"/><circle cx="275.3" cy="719.5" r="10.6"/><circle cx="188.3" cy="818.1" r="10.6"/><circle cx="357.2" cy="647.9" r="10.6"/><circle cx="182" cy="784.8" r="10.6"/><circle cx="449.9" cy="426.5" r="10.6"/><circle cx="236.5" cy="710.4" r="10.6"/><circle cx="154.2" cy="850.9" r="10.6"/><circle cx="295.7" cy="718.1" r="10.6"/><circle cx="187.8" cy="777.4" r="10.6"/><circle cx="298.9" cy="627.6" r="10.6"/><circle cx="330.7" cy="628.2" r="10.6"/><circle cx="286.8" cy="717.2" r="10.6"/><circle cx="185.7" cy="784.1" r="10.6"/><circle cx="599.2" cy="358.6" r="10.6"/><circle cx="231.8" cy="770.6" r="10.6"/><circle cx="245.1" cy="718.9" r="10.6"/><circle cx="384.7" cy="581.3" r="10.6"/><circle cx="628.4" cy="313.9" r="10.6"/><circle cx="158" cy="827.3" r="10.6"/><circle cx="283.3" cy="736.4" r="10.6"/><circle cx="182.1" cy="786.5" r="10.6"/><circle cx="250.4" cy="733.3" r="10.6"/><circle cx="502.7" cy="550" r="10.6"/><circle cx="266" cy="660.8" r="10.6"/><circle cx="291" cy="739.3" r="10.6"/><circle cx="480.3" cy="576.4" r="10.6"/><circle cx="517.2" cy="537.9" r="10.6"/><circle cx="524.5" cy="413.6" r="10.6"/><circle cx="238.7" cy="665.3" r="10.6"/><circle cx="207.4" cy="775.7" r="10.6"/><circle cx="275.8" cy="645.2" r="10.6"/><circle cx="275.7" cy="732.9" r="10.6"/><circle cx="230.9" cy="746" r="10.6"/><circle cx="225.7" cy="748.2" r="10.6"/><circle cx="520.4" cy="442.6" r="10.6"/><circle cx="501.3" cy="426.1" r="10.6"/><circle cx="451.7" cy="584.3" r="10.6"/><circle cx="260.6" cy="730.3" r="10.6"/><circle cx="440" cy="458.2" r="10.6"/><circle cx="293.4" cy="617.2" r="10.6"/><circle cx="286.4" cy="716.6" r="10.6"/><circle cx="302.7" cy="721.3" r="10.6"/><circle cx="355.3" cy="576" r="10.6"/><circle cx="304.6" cy="686.4" r="10.6"/><circle cx="169.5" cy="805.7" r="10.6"/><circle cx="270.2" cy="672.6" r="10.6"/><circle cx="320.2" cy="585.1" r="10.6"/><circle cx="509.3" cy="438.1" r="10.6"/><circle cx="458.7" cy="484.1" r="10.6"/><circle cx="370.7" cy="646.4" r="10.6"/><circle cx="343.6" cy="550.9" r="10.6"/><circle cx="307" cy="629.4" r="10.6"/><circle cx="436.7" cy="605.8" r="10.6"/><circle cx="418.6" cy="476.6" r="10.6"/><circle cx="212.9" cy="801.2" r="10.6"/><circle cx="280" cy="736.1" r="10.6"/><circle cx="548.8" cy="364.5" r="10.6"/><circle cx="221.8" cy="775.4" r="10.6"/><circle cx="260.4" cy="746.4" r="10.6"/><circle cx="243.4" cy="670.8" r="10.6"/><circle cx="571.8" cy="397.5" r="10.6"/><circle cx="376.5" cy="555.3" r="10.6"/><circle cx="280.1" cy="734.4" r="10.6"/><circle cx="533.9" cy="435.9" r="10.6"/><circle cx="219.9" cy="783" r="10.6"/><circle cx="531.6" cy="437.9" r="10.6"/><circle cx="151.3" cy="831.8" r="10.6"/><circle cx="152.7" cy="836" r="10.6"/><circle cx="468.1" cy="449.5" r="10.6"/><circle cx="232.9" cy="781.6" r="10.6"/><circle cx="222.5" cy="738.5" r="10.6"/><circle cx="201" cy="749.5" r="10.6"/><circle cx="671.6" cy="316.7" r="10.6"/><circle cx="285.7" cy="637" r="10.6"/><circle cx="147.5" cy="852" r="10.6"/><circle cx="219.1" cy="801.2" r="10.6"/><circle cx="210" cy="747.7" r="10.6"/><circle cx="322" cy="560.4" r="10.6"/><circle cx="199" cy="808.8" r="10.6"/><circle cx="153.3" cy="853.7" r="10.6"/><circle cx="591.8" cy="373.5" r="10.6"/><circle cx="251.3" cy="688.4" r="10.6"/><circle cx="497.1" cy="443.6" r="10.6"/><circle cx="211.8" cy="782.4" r="10.6"/><circle cx="242.5" cy="764.4" r="10.6"/><circle cx="339.4" cy="671.3" r="10.6"/><circle cx="337.1" cy="648.3" r="10.6"/><circle cx="323" cy="625.8" r="10.6"/><circle cx="514.8" cy="392.7" r="10.6"/><circle cx="262.4" cy="716.4" r="10.6"/><circle cx="281.1" cy="639.1" r="10.6"/><circle cx="274.3" cy="719.2" r="10.6"/><circle cx="208.7" cy="761" r="10.6"/><circle cx="280.7" cy="732.8" r="10.6"/><circle cx="444" cy="535.4" r="10.6"/><circle cx="443.6" cy="501.9" r="10.6"/><circle cx="227.1" cy="765.3" r="10.6"/><circle cx="194.2" cy="801.7" r="10.6"/><circle cx="190.8" cy="803" r="10.6"/><circle cx="150.7" cy="854.9" r="10.6"/><circle cx="262.3" cy="734.2" r="10.6"/><circle cx="190.7" cy="756.5" r="10.6"/><circle cx="250.8" cy="741.8" r="10.6"/><circle cx="232.3" cy="672.6" r="10.6"/><circle cx="305.2" cy="599.9" r="10.6"/><circle cx="179.9" cy="835" r="10.6"/><circle cx="224" cy="773.3" r="10.6"/><circle cx="376" cy="534.7" r="10.6"/><circle cx="155.7" cy="831.8" r="10.6"/><circle cx="438.8" cy="562.9" r="10.6"/><circle cx="267.8" cy="641" r="10.6"/><circle cx="629.3" cy="316.5" r="10.6"/><circle cx="354.6" cy="556.6" r="10.6"/><circle cx="522.4" cy="541.7" r="10.6"/><circle cx="237" cy="762" r="10.6"/><circle cx="398.2" cy="541.8" r="10.6"/><circle cx="225.6" cy="759" r="10.6"/><circle cx="530.3" cy="444.6" r="10.6"/><circle cx="288.3" cy="665.2" r="10.6"/><circle cx="431.8" cy="524.3" r="10.6"/><circle cx="300.8" cy="708.5" r="10.6"/><circle cx="289.5" cy="701.1" r="10.6"/><circle cx="147.5" cy="838" r="10.6"/><circle cx="303.3" cy="668.7" r="10.6"/><circle cx="491.7" cy="423.7" r="10.6"/><circle cx="548.6" cy="385.6" r="10.6"/><circle cx="154" cy="847.7" r="10.6"/><circle cx="182.3" cy="807.9" r="10.6"/><circle cx="343.9" cy="638" r="10.6"/><circle cx="277" cy="677.1" r="10.6"/><circle cx="202.7" cy="720.5" r="10.6"/><circle cx="146.8" cy="854.6" r="10.6"/><circle cx="557.7" cy="376.6" r="10.6"/><circle cx="463.5" cy="542.7" r="10.6"/><circle cx="502.1" cy="401.8" r="10.6"/><circle cx="236.2" cy="770.6" r="10.6"/><circle cx="171.5" cy="824.1" r="10.6"/><circle cx="254.3" cy="684" r="10.6"/><circle cx="451.4" cy="482.2" r="10.6"/><circle cx="280" cy="654.1" r="10.6"/><circle cx="202.5" cy="819.6" r="10.6"/><circle cx="201.8" cy="782.9" r="10.6"/><circle cx="205.2" cy="788.2" r="10.6"/><circle cx="238.4" cy="643.2" r="10.6"/><circle cx="267.7" cy="664.6" r="10.6"/><circle cx="471.5" cy="502.4" r="10.6"/><circle cx="227.8" cy="767.2" r="10.6"/><circle cx="705" cy="264.5" r="10.6"/><circle cx="293.2" cy="614.5" r="10.6"/><circle cx="147.3" cy="852.2" r="10.6"/><circle cx="525" cy="424.5" r="10.6"/><circle cx="368.4" cy="664.1" r="10.6"/><circle cx="464.8" cy="477.7" r="10.6"/><circle cx="268.3" cy="744" r="10.6"/><circle cx="484.3" cy="457" r="10.6"/><circle cx="591.1" cy="380.2" r="10.6"/><circle cx="214.1" cy="768.3" r="10.6"/><circle cx="285.9" cy="643.5" r="10.6"/><circle cx="297.9" cy="697.4" r="10.6"/><circle cx="365.5" cy="530.7" r="10.6"/><circle cx="322.8" cy="688.4" r="10.6"/><circle cx="364.6" cy="620.5" r="10.6"/><circle cx="146.9" cy="854.5" r="10.6"/><circle cx="191.1" cy="774.6" r="10.6"/><circle cx="512.3" cy="466.8" r="10.6"/><circle cx="294.8" cy="722.8" r="10.6"/><circle cx="274.4" cy="668.7" r="10.6"/><circle cx="157.7" cy="832.5" r="10.6"/><circle cx="150.8" cy="851.9" r="10.6"/><circle cx="383.5" cy="587.4" r="10.6"/><circle cx="153.7" cy="831.6" r="10.6"/><circle cx="454.4" cy="567.2" r="10.6"/><circle cx="480.4" cy="414.9" r="10.6"/><circle cx="215.8" cy="713" r="10.6"/><circle cx="197.8" cy="782.8" r="10.6"/><circle cx="520.3" cy="461.7" r="10.6"/><circle cx="510" cy="394" r="10.6"/><circle cx="262" cy="699.9" r="10.6"/><circle cx="246" cy="761.8" r="10.6"/><circle cx="478" cy="573.6" r="10.6"/><circle cx="288.9" cy="637.6" r="10.6"/><circle cx="270.8" cy="721.1" r="10.6"/><circle cx="237" cy="757.4" r="10.6"/><circle cx="503" cy="476.9" r="10.6"/><circle cx="268.6" cy="652.3" r="10.6"/><circle cx="418.3" cy="480.1" r="10.6"/><circle cx="330.3" cy="621.8" r="10.6"/><circle cx="255" cy="636" r="10.6"/><circle cx="185.5" cy="815.9" r="10.6"/><circle cx="548.1" cy="397.7" r="10.6"/><circle cx="691.1" cy="280.6" r="10.6"/><circle cx="183.9" cy="797.1" r="10.6"/><circle cx="314.2" cy="658.9" r="10.6"/><circle cx="182.7" cy="810.8" r="10.6"/><circle cx="352.5" cy="671.7" r="10.6"/><circle cx="700.3" cy="263.6" r="10.6"/><circle cx="194.5" cy="739.3" r="10.6"/><circle cx="484.5" cy="426.9" r="10.6"/><circle cx="197.2" cy="748.5" r="10.6"/><circle cx="397.7" cy="562.4" r="10.6"/><circle cx="368.3" cy="613.3" r="10.6"/><circle cx="223.9" cy="730.7" r="10.6"/><circle cx="256.5" cy="705.6" r="10.6"/><circle cx="458" cy="519.8" r="10.6"/><circle cx="540.8" cy="370.9" r="10.6"/><circle cx="147.8" cy="852.7" r="10.6"/><circle cx="169.3" cy="804.2" r="10.6"/><circle cx="256.5" cy="710.1" r="10.6"/><circle cx="533.2" cy="476.2" r="10.6"/><circle cx="207" cy="805.1" r="10.6"/><circle cx="283.2" cy="637.7" r="10.6"/><circle cx="361.7" cy="637.4" r="10.6"/><circle cx="246.9" cy="744.9" r="10.6"/><circle cx="482.6" cy="441.1" r="10.6"/><circle cx="396.9" cy="511.1" r="10.6"/><circle cx="178.1" cy="797.6" r="10.6"/><circle cx="233.5" cy="768" r="10.6"/><circle cx="342" cy="563.1" r="10.6"/><circle cx="385.8" cy="593.2" r="10.6"/><circle cx="493.8" cy="567" r="10.6"/><circle cx="332.3" cy="584.6" r="10.6"/><circle cx="271.8" cy="716.8" r="10.6"/><circle cx="390.4" cy="617.4" r="10.6"/><circle cx="583.1" cy="364.1" r="10.6"/><circle cx="311.8" cy="684.4" r="10.6"/><circle cx="276.2" cy="713.1" r="10.6"/><circle cx="467" cy="456.5" r="10.6"/><circle cx="269.1" cy="605.8" r="10.6"/><circle cx="297.2" cy="697.9" r="10.6"/><circle cx="517.4" cy="516.1" r="10.6"/><circle cx="556.9" cy="454" r="10.6"/><circle cx="428.6" cy="467" r="10.6"/><circle cx="365.8" cy="650.5" r="10.6"/><circle cx="497.2" cy="412.5" r="10.6"/><circle cx="181.1" cy="833.6" r="10.6"/><circle cx="530.2" cy="453.2" r="10.6"/><circle cx="206" cy="753" r="10.6"/><circle cx="433.1" cy="609.9" r="10.6"/><circle cx="511.1" cy="445.4" r="10.6"/><circle cx="532.5" cy="413.6" r="10.6"/><circle cx="220.6" cy="730.4" r="10.6"/><circle cx="522.2" cy="459.8" r="10.6"/><circle cx="475.2" cy="531.8" r="10.6"/><circle cx="317.9" cy="651.1" r="10.6"/><circle cx="336" cy="657.7" r="10.6"/><circle cx="463.7" cy="490.1" r="10.6"/><circle cx="163.3" cy="843" r="10.6"/><circle cx="256.6" cy="736.7" r="10.6"/><circle cx="170.4" cy="827.2" r="10.6"/><circle cx="184.6" cy="774.2" r="10.6"/><circle cx="479.7" cy="575.2" r="10.6"/><circle cx="249.2" cy="729.3" r="10.6"/><circle cx="351.6" cy="637.8" r="10.6"/><circle cx="354.7" cy="540.5" r="10.6"/><circle cx="536.7" cy="402.9" r="10.6"/><circle cx="344.3" cy="642.8" r="10.6"/><circle cx="552.6" cy="491.1" r="10.6"/><circle cx="361.3" cy="666.4" r="10.6"/><circle cx="250.4" cy="673.3" r="10.6"/><circle cx="489.8" cy="413.3" r="10.6"/><circle cx="194.8" cy="801.8" r="10.6"/><circle cx="247.6" cy="719.4" r="10.6"/><circle cx="215.1" cy="772.2" r="10.6"/><circle cx="654.1" cy="293.1" r="10.6"/><circle cx="304.4" cy="616.3" r="10.6"/><circle cx="635.8" cy="326.3" r="10.6"/><circle cx="162.8" cy="832.2" r="10.6"/><circle cx="205.2" cy="756.9" r="10.6"/><circle cx="253.6" cy="726.6" r="10.6"/><circle cx="273.4" cy="714" r="10.6"/><circle cx="531.7" cy="408.3" r="10.6"/><circle cx="525.1" cy="394.2" r="10.6"/><circle cx="476.2" cy="496.2" r="10.6"/><circle cx="239.1" cy="747.8" r="10.6"/><circle cx="697.4" cy="269.3" r="10.6"/><circle cx="631.6" cy="326.9" r="10.6"/><circle cx="193.5" cy="801.7" r="10.6"/><circle cx="445.3" cy="491.6" r="10.6"/><circle cx="218.4" cy="699" r="10.6"/><circle cx="623.5" cy="338.4" r="10.6"/><circle cx="304.5" cy="718.2" r="10.6"/><circle cx="367.9" cy="539.2" r="10.6"/><circle cx="383.9" cy="597.2" r="10.6"/><circle cx="198.8" cy="794.1" r="10.6"/><circle cx="339.6" cy="604.4" r="10.6"/><circle cx="200.6" cy="806.2" r="10.6"/><circle cx="258.5" cy="702.8" r="10.6"/><circle cx="444.1" cy="497.5" r="10.6"/><circle cx="473.6" cy="429.9" r="10.6"/><circle cx="369.3" cy="575.6" r="10.6"/><circle cx="437" cy="566.2" r="10.6"/><circle cx="554.2" cy="369.4" r="10.6"/><circle cx="250.8" cy="743.6" r="10.6"/><circle cx="554.6" cy="393.2" r="10.6"/><circle cx="245.6" cy="650.8" r="10.6"/><circle cx="427.1" cy="544.2" r="10.6"/><circle cx="476.7" cy="511.4" r="10.6"/><circle cx="357.6" cy="632.8" r="10.6"/><circle cx="428" cy="539.3" r="10.6"/><circle cx="421.5" cy="464.6" r="10.6"/><circle cx="230.5" cy="721.2" r="10.6"/><circle cx="176.9" cy="801.2" r="10.6"/><circle cx="197.5" cy="795.2" r="10.6"/><circle cx="210.9" cy="793.1" r="10.6"/><circle cx="318.5" cy="609.6" r="10.6"/><circle cx="323.3" cy="714" r="10.6"/><circle cx="245.2" cy="753.8" r="10.6"/><circle cx="248.2" cy="685.8" r="10.6"/><circle cx="170.1" cy="829.2" r="10.6"/><circle cx="160.9" cy="846.9" r="10.6"/><circle cx="336.2" cy="612.6" r="10.6"/><circle cx="158.1" cy="839.8" r="10.6"/><circle cx="517.6" cy="536.1" r="10.6"/><circle cx="260.8" cy="730.9" r="10.6"/><circle cx="307.7" cy="577.1" r="10.6"/><circle cx="448.9" cy="507.5" r="10.6"/><circle cx="285.7" cy="671.8" r="10.6"/><circle cx="374.3" cy="521.2" r="10.6"/><circle cx="268" cy="711.8" r="10.6"/><circle cx="182" cy="796" r="10.6"/><circle cx="189.8" cy="800.4" r="10.6"/><circle cx="436.2" cy="598.5" r="10.6"/><circle cx="261.2" cy="729.4" r="10.6"/><circle cx="176" cy="824.9" r="10.6"/><circle cx="430.8" cy="462" r="10.6"/><circle cx="170.7" cy="807.7" r="10.6"/><circle cx="148.5" cy="844.3" r="10.6"/><circle cx="269.4" cy="720.6" r="10.6"/><circle cx="287.6" cy="677.5" r="10.6"/><circle cx="535.4" cy="511.6" r="10.6"/><circle cx="308" cy="717.2" r="10.6"/><circle cx="210.5" cy="794.9" r="10.6"/><circle cx="338.5" cy="597.2" r="10.6"/><circle cx="653.4" cy="309" r="10.6"/><circle cx="216.5" cy="740.4" r="10.6"/><circle cx="170.7" cy="841.7" r="10.6"/><circle cx="540.4" cy="465.8" r="10.6"/><circle cx="264.4" cy="732.1" r="10.6"/><circle cx="466.2" cy="500.3" r="10.6"/><circle cx="257.9" cy="742.8" r="10.6"/><circle cx="252.9" cy="760.8" r="10.6"/><circle cx="147.4" cy="854.2" r="10.6"/><circle cx="555.5" cy="382.7" r="10.6"/><circle cx="539.3" cy="508.3" r="10.6"/><circle cx="364.8" cy="539.9" r="10.6"/><circle cx="243.5" cy="746.6" r="10.6"/><circle cx="356" cy="545.8" r="10.6"/><circle cx="292" cy="621.7" r="10.6"/><circle cx="491.6" cy="405.3" r="10.6"/><circle cx="298.1" cy="664" r="10.6"/><circle cx="438.8" cy="508.7" r="10.6"/><circle cx="282.5" cy="647.4" r="10.6"/><circle cx="425.5" cy="518.2" r="10.6"/><circle cx="287.6" cy="647.9" r="10.6"/><circle cx="179.7" cy="820.4" r="10.6"/><circle cx="299.3" cy="644.7" r="10.6"/><circle cx="330.4" cy="553.3" r="10.6"/><circle cx="712.7" cy="241.1" r="10.6"/><circle cx="368.7" cy="660.1" r="10.6"/><circle cx="297.3" cy="697.4" r="10.6"/><circle cx="195.7" cy="817.9" r="10.6"/><circle cx="346.2" cy="688.7" r="10.6"/><circle cx="176.1" cy="805.7" r="10.6"/><circle cx="205.2" cy="808.3" r="10.6"/><circle cx="286.6" cy="735.1" r="10.6"/><circle cx="175.9" cy="781.1" r="10.6"/><circle cx="283.8" cy="606.2" r="10.6"/><circle cx="192.6" cy="794.4" r="10.6"/><circle cx="337.4" cy="628.6" r="10.6"/><circle cx="669.6" cy="309.2" r="10.6"/><circle cx="163" cy="826.6" r="10.6"/><circle cx="175.4" cy="819.2" r="10.6"/><circle cx="331.3" cy="601.2" r="10.6"/><circle cx="355.8" cy="658.8" r="10.6"/><circle cx="296.1" cy="655.4" r="10.6"/><circle cx="509.9" cy="514.7" r="10.6"/><circle cx="340.4" cy="635.9" r="10.6"/><circle cx="271.3" cy="724.6" r="10.6"/><circle cx="158.6" cy="844" r="10.6"/><circle cx="246.7" cy="754" r="10.6"/><circle cx="293" cy="696.4" r="10.6"/><circle cx="167" cy="828.5" r="10.6"/><circle cx="486.2" cy="402.5" r="10.6"/><circle cx="535.9" cy="415.2" r="10.6"/><circle cx="353.1" cy="673.1" r="10.6"/><circle cx="237.2" cy="658.7" r="10.6"/><circle cx="472.6" cy="583.1" r="10.6"/><circle cx="300.3" cy="735.8" r="10.6"/><circle cx="476.8" cy="405.7" r="10.6"/><circle cx="613.2" cy="340.7" r="10.6"/><circle cx="185.8" cy="794.1" r="10.6"/><circle cx="219.8" cy="773.2" r="10.6"/><circle cx="268.4" cy="735" r="10.6"/><circle cx="241.3" cy="669.4" r="10.6"/><circle cx="158.5" cy="839.3" r="10.6"/><circle cx="151.2" cy="843.1" r="10.6"/><circle cx="539.8" cy="447.4" r="10.6"/><circle cx="235.3" cy="774.8" r="10.6"/><circle cx="193" cy="812" r="10.6"/><circle cx="245.1" cy="756.4" r="10.6"/><circle cx="401" cy="586.3" r="10.6"/><circle cx="722.7" cy="212.9" r="10.6"/><circle cx="443.8" cy="479.5" r="10.6"/><circle cx="196.7" cy="801.4" r="10.6"/><circle cx="406.5" cy="535.5" r="10.6"/><circle cx="160" cy="831.7" r="10.6"/><circle cx="530.7" cy="441.6" r="10.6"/><circle cx="258.9" cy="650.1" r="10.6"/><circle cx="287" cy="713.2" r="10.6"/><circle cx="218.3" cy="768.6" r="10.6"/><circle cx="272.2" cy="720.6" r="10.6"/><circle cx="193.8" cy="769.6" r="10.6"/><circle cx="326.3" cy="648.1" r="10.6"/><circle cx="369.1" cy="611.3" r="10.6"/><circle cx="471.6" cy="442.8" r="10.6"/><circle cx="696" cy="240.2" r="10.6"/><circle cx="281" cy="734.1" r="10.6"/><circle cx="181" cy="794.9" r="10.6"/><circle cx="317.6" cy="670.1" r="10.6"/><circle cx="196.7" cy="812.1" r="10.6"/><circle cx="224.3" cy="775.6" r="10.6"/><circle cx="307.6" cy="695.9" r="10.6"/><circle cx="541.9" cy="383.7" r="10.6"/><circle cx="177.1" cy="822.8" r="10.6"/><circle cx="293" cy="656.2" r="10.6"/><circle cx="232.8" cy="736.4" r="10.6"/><circle cx="363.9" cy="621.4" r="10.6"/><circle cx="221.7" cy="761.1" r="10.6"/><circle cx="445.4" cy="575.4" r="10.6"/><circle cx="297.2" cy="700.8" r="10.6"/><circle cx="243.3" cy="664.5" r="10.6"/><circle cx="199.3" cy="796.4" r="10.6"/><circle cx="151.1" cy="840.3" r="10.6"/><circle cx="175.5" cy="814.8" r="10.6"/><circle cx="249.5" cy="762.3" r="10.6"/><circle cx="146.7" cy="839.7" r="10.6"/><circle cx="147.8" cy="841.2" r="10.6"/><circle cx="366.1" cy="618.4" r="10.6"/><circle cx="294.5" cy="674.8" r="10.6"/><circle cx="540.4" cy="404.2" r="10.6"/><circle cx="396.8" cy="502.3" r="10.6"/><circle cx="266.6" cy="634.7" r="10.6"/><circle cx="427.6" cy="515.5" r="10.6"/><circle cx="278.7" cy="713.6" r="10.6"/><circle cx="396" cy="611.8" r="10.6"/><circle cx="521" cy="428.7" r="10.6"/><circle cx="280.1" cy="713.5" r="10.6"/><circle cx="523.6" cy="434.5" r="10.6"/><circle cx="463.7" cy="497.4" r="10.6"/><circle cx="272.5" cy="714.6" r="10.6"/><circle cx="148.1" cy="840.9" r="10.6"/><circle cx="439.3" cy="498.7" r="10.6"/><circle cx="417.4" cy="547.1" r="10.6"/><circle cx="166" cy="813" r="10.6"/><circle cx="586.8" cy="386" r="10.6"/><circle cx="373.6" cy="627.5" r="10.6"/><circle cx="357.8" cy="638.9" r="10.6"/><circle cx="153.9" cy="839.1" r="10.6"/><circle cx="388" cy="540.2" r="10.6"/><circle cx="383.4" cy="549.9" r="10.6"/><circle cx="705.1" cy="251.9" r="10.6"/><circle cx="534.2" cy="439" r="10.6"/><circle cx="390.1" cy="603.8" r="10.6"/><circle cx="155.7" cy="825.8" r="10.6"/><circle cx="249.8" cy="751.7" r="10.6"/><circle cx="153.3" cy="844.4" r="10.6"/><circle cx="443.3" cy="503.2" r="10.6"/><circle cx="165.5" cy="837.2" r="10.6"/><circle cx="240.2" cy="743.9" r="10.6"/><circle cx="173.4" cy="799" r="10.6"/><circle cx="518.6" cy="400.5" r="10.6"/><circle cx="363.6" cy="564.9" r="10.6"/><circle cx="166.4" cy="837.1" r="10.6"/><circle cx="529.8" cy="453.7" r="10.6"/><circle cx="329.5" cy="655.3" r="10.6"/><circle cx="160.4" cy="812.2" r="10.6"/><circle cx="491.1" cy="466.1" r="10.6"/><circle cx="389.5" cy="575.4" r="10.6"/><circle cx="483.8" cy="506.2" r="10.6"/><circle cx="250.2" cy="739.2" r="10.6"/><circle cx="182.8" cy="770.4" r="10.6"/><circle cx="662.4" cy="302.7" r="10.6"/><circle cx="323.1" cy="673.4" r="10.6"/><circle cx="445.5" cy="518.7" r="10.6"/><circle cx="296.5" cy="686.1" r="10.6"/><circle cx="500.1" cy="421.9" r="10.6"/><circle cx="361.2" cy="629" r="10.6"/><circle cx="542.9" cy="460.1" r="10.6"/><circle cx="193" cy="745.1" r="10.6"/><circle cx="349.9" cy="602.5" r="10.6"/><circle cx="273.4" cy="613.8" r="10.6"/><circle cx="262.7" cy="680.5" r="10.6"/><circle cx="554.6" cy="398.5" r="10.6"/><circle cx="432.3" cy="617.2" r="10.6"/><circle cx="520" cy="499.1" r="10.6"/><circle cx="190.1" cy="821.7" r="10.6"/><circle cx="191.3" cy="823.6" r="10.6"/><circle cx="196.4" cy="814.1" r="10.6"/><circle cx="149.4" cy="853" r="10.6"/><circle cx="326" cy="683" r="10.6"/><circle cx="262.8" cy="667.5" r="10.6"/><circle cx="289.7" cy="654.5" r="10.6"/><circle cx="281.7" cy="737.1" r="10.6"/><circle cx="197.7" cy="749.3" r="10.6"/><circle cx="193.3" cy="823.3" r="10.6"/><circle cx="444.8" cy="562.9" r="10.6"/><circle cx="481.1" cy="501.7" r="10.6"/><circle cx="308.7" cy="675.9" r="10.6"/><circle cx="191.7" cy="790.4" r="10.6"/><circle cx="336.7" cy="604.2" r="10.6"/><circle cx="187.3" cy="824.8" r="10.6"/><circle cx="319.6" cy="717.2" r="10.6"/><circle cx="305.6" cy="677.5" r="10.6"/><circle cx="332.6" cy="584.4" r="10.6"/><circle cx="541.3" cy="416.9" r="10.6"/><circle cx="306.3" cy="724.9" r="10.6"/><circle cx="390.7" cy="578.7" r="10.6"/><circle cx="146.8" cy="852.5" r="10.6"/><circle cx="298.6" cy="645.2" r="10.6"/><circle cx="246.6" cy="702.3" r="10.6"/><circle cx="479.6" cy="469.2" r="10.6"/><circle cx="201.9" cy="776.5" r="10.6"/><circle cx="304.5" cy="653.6" r="10.6"/><circle cx="314.6" cy="718.9" r="10.6"/><circle cx="475.7" cy="493.9" r="10.6"/><circle cx="256.7" cy="674.6" r="10.6"/><circle cx="207.9" cy="789.8" r="10.6"/><circle cx="338.4" cy="651.9" r="10.6"/><circle cx="299.2" cy="591.9" r="10.6"/><circle cx="383.3" cy="577" r="10.6"/><circle cx="490.7" cy="555.8" r="10.6"/><circle cx="469.4" cy="450.3" r="10.6"/><circle cx="427.7" cy="546.1" r="10.6"/><circle cx="239.6" cy="752.8" r="10.6"/><circle cx="346" cy="615.4" r="10.6"/><circle cx="300.7" cy="721.7" r="10.6"/><circle cx="172.7" cy="814.1" r="10.6"/><circle cx="357.2" cy="665.9" r="10.6"/><circle cx="159.3" cy="842.3" r="10.6"/><circle cx="583.5" cy="365.8" r="10.6"/><circle cx="216.8" cy="750.3" r="10.6"/><circle cx="298.1" cy="658" r="10.6"/><circle cx="444.6" cy="543.5" r="10.6"/><circle cx="178.2" cy="836.4" r="10.6"/><circle cx="682.7" cy="275.3" r="10.6"/><circle cx="194.4" cy="801" r="10.6"/><circle cx="162.3" cy="838.8" r="10.6"/><circle cx="284.3" cy="621.8" r="10.6"/><circle cx="452.7" cy="469.7" r="10.6"/><circle cx="252.3" cy="704.9" r="10.6"/><circle cx="397" cy="602.2" r="10.6"/><circle cx="197.4" cy="766.9" r="10.6"/><circle cx="387.6" cy="622" r="10.6"/><circle cx="358.1" cy="639.2" r="10.6"/><circle cx="160" cy="825.8" r="10.6"/><circle cx="558.8" cy="451.2" r="10.6"/><circle cx="454.5" cy="505.6" r="10.6"/><circle cx="279.5" cy="728.1" r="10.6"/><circle cx="389.8" cy="614" r="10.6"/><circle cx="524.2" cy="509.2" r="10.6"/><circle cx="502.3" cy="437.7" r="10.6"/><circle cx="318.3" cy="587.4" r="10.6"/><circle cx="166.5" cy="825.5" r="10.6"/><circle cx="280.4" cy="656" r="10.6"/><circle cx="373.3" cy="627.1" r="10.6"/><circle cx="361.4" cy="642.4" r="10.6"/><circle cx="324.3" cy="656.1" r="10.6"/><circle cx="461.9" cy="585.2" r="10.6"/><circle cx="257.2" cy="751.1" r="10.6"/><circle cx="560" cy="429.9" r="10.6"/><circle cx="363.6" cy="660.6" r="10.6"/><circle cx="614.5" cy="365.8" r="10.6"/><circle cx="206.3" cy="753.8" r="10.6"/><circle cx="236.6" cy="652" r="10.6"/><circle cx="414.1" cy="536.7" r="10.6"/><circle cx="476.1" cy="564.6" r="10.6"/><circle cx="526.7" cy="419.4" r="10.6"/><circle cx="194" cy="828.2" r="10.6"/><circle cx="445.9" cy="536.3" r="10.6"/><circle cx="510.7" cy="486.6" r="10.6"/><circle cx="694.9" cy="250.1" r="10.6"/><circle cx="215.1" cy="721.1" r="10.6"/><circle cx="658.4" cy="298" r="10.6"/><circle cx="278" cy="701.3" r="10.6"/><circle cx="281.2" cy="729.6" r="10.6"/><circle cx="254.6" cy="633.5" r="10.6"/><circle cx="339.5" cy="686.4" r="10.6"/><circle cx="259.4" cy="755.4" r="10.6"/><circle cx="258.7" cy="681.4" r="10.6"/><circle cx="206.4" cy="761.8" r="10.6"/><circle cx="357.7" cy="640.9" r="10.6"/><circle cx="265.8" cy="645.8" r="10.6"/><circle cx="637" cy="327.2" r="10.6"/><circle cx="316.8" cy="622.6" r="10.6"/><circle cx="293.7" cy="637.5" r="10.6"/><circle cx="353.2" cy="637.7" r="10.6"/><circle cx="326.7" cy="683.8" r="10.6"/><circle cx="161.8" cy="832.6" r="10.6"/><circle cx="564.3" cy="436.1" r="10.6"/><circle cx="231.1" cy="771.2" r="10.6"/><circle cx="497.7" cy="560.1" r="10.6"/><circle cx="218.1" cy="753.5" r="10.6"/><circle cx="225.4" cy="768.9" r="10.6"/><circle cx="350.1" cy="538.2" r="10.6"/><circle cx="160.9" cy="840.3" r="10.6"/><circle cx="239.8" cy="768.8" r="10.6"/><circle cx="196.8" cy="811.3" r="10.6"/><circle cx="461.3" cy="479.8" r="10.6"/><circle cx="195.5" cy="807.7" r="10.6"/><circle cx="149" cy="846.5" r="10.6"/><circle cx="335.1" cy="676.9" r="10.6"/><circle cx="298.5" cy="689" r="10.6"/><circle cx="295.1" cy="667.9" r="10.6"/><circle cx="322.5" cy="638" r="10.6"/><circle cx="227.4" cy="702.7" r="10.6"/><circle cx="484.3" cy="539.9" r="10.6"/><circle cx="430.1" cy="483" r="10.6"/><circle cx="495.4" cy="493" r="10.6"/><circle cx="222.3" cy="767" r="10.6"/><circle cx="242.1" cy="671.1" r="10.6"/><circle cx="209.2" cy="772" r="10.6"/><circle cx="176.7" cy="828.1" r="10.6"/><circle cx="150.2" cy="851.6" r="10.6"/><circle cx="300.4" cy="712" r="10.6"/><circle cx="504.5" cy="514.5" r="10.6"/><circle cx="255.2" cy="757.4" r="10.6"/><circle cx="206.8" cy="779.2" r="10.6"/><circle cx="302.9" cy="669.8" r="10.6"/><circle cx="282.5" cy="709.7" r="10.6"/><circle cx="148.4" cy="851.8" r="10.6"/><circle cx="254.3" cy="692" r="10.6"/><circle cx="393.8" cy="587.9" r="10.6"/><circle cx="258.5" cy="689.2" r="10.6"/><circle cx="354.2" cy="572.6" r="10.6"/><circle cx="469.5" cy="512.2" r="10.6"/><circle cx="252.7" cy="702.2" r="10.6"/><circle cx="400.5" cy="620.7" r="10.6"/><circle cx="604" cy="348.5" r="10.6"/><circle cx="187.8" cy="810.1" r="10.6"/><circle cx="530.3" cy="428.2" r="10.6"/><circle cx="675.3" cy="308.6" r="10.6"/><circle cx="439" cy="482.1" r="10.6"/><circle cx="229.1" cy="778.2" r="10.6"/><circle cx="597.5" cy="372.4" r="10.6"/><circle cx="204.9" cy="749.6" r="10.6"/><circle cx="543.8" cy="378.6" r="10.6"/><circle cx="204.5" cy="782.2" r="10.6"/><circle cx="227.6" cy="779.7" r="10.6"/><circle cx="250.9" cy="742" r="10.6"/><circle cx="285.5" cy="629.8" r="10.6"/><circle cx="187.8" cy="776.1" r="10.6"/><circle cx="219" cy="798.8" r="10.6"/><circle cx="267.8" cy="726.5" r="10.6"/><circle cx="276.7" cy="709.9" r="10.6"/><circle cx="517.4" cy="482.1" r="10.6"/><circle cx="159.4" cy="827.7" r="10.6"/><circle cx="498.5" cy="528.3" r="10.6"/><circle cx="564.8" cy="429.6" r="10.6"/><circle cx="256.3" cy="731" r="10.6"/><circle cx="553.2" cy="405.5" r="10.6"/><circle cx="250.4" cy="750.3" r="10.6"/><circle cx="413.7" cy="539" r="10.6"/><circle cx="181.2" cy="809.4" r="10.6"/><circle cx="263.1" cy="708.6" r="10.6"/><circle cx="219" cy="782.5" r="10.6"/><circle cx="507.1" cy="428.1" r="10.6"/><circle cx="210.1" cy="777.8" r="10.6"/><circle cx="306.5" cy="722.7" r="10.6"/><circle cx="556.1" cy="371.3" r="10.6"/><circle cx="242" cy="740.2" r="10.6"/><circle cx="422.1" cy="526.6" r="10.6"/><circle cx="344.9" cy="682.9" r="10.6"/><circle cx="696" cy="285.9" r="10.6"/><circle cx="473.2" cy="527.6" r="10.6"/><circle cx="434.5" cy="510.6" r="10.6"/><circle cx="221.2" cy="709.6" r="10.6"/><circle cx="690.8" cy="275.7" r="10.6"/><circle cx="424.3" cy="599.4" r="10.6"/><circle cx="311.8" cy="577.1" r="10.6"/><circle cx="416.7" cy="589.4" r="10.6"/><circle cx="210.8" cy="749.4" r="10.6"/><circle cx="179.6" cy="778.2" r="10.6"/><circle cx="374.9" cy="552.2" r="10.6"/><circle cx="509.7" cy="445.3" r="10.6"/><circle cx="269" cy="688.7" r="10.6"/><circle cx="500" cy="428" r="10.6"/><circle cx="476.8" cy="518.6" r="10.6"/><circle cx="215.8" cy="805" r="10.6"/><circle cx="236.9" cy="756.4" r="10.6"/><circle cx="297.5" cy="710.3" r="10.6"/><circle cx="188.7" cy="777" r="10.6"/><circle cx="243" cy="763.3" r="10.6"/><circle cx="603.8" cy="386" r="10.6"/><circle cx="544.4" cy="387" r="10.6"/><circle cx="165.7" cy="833" r="10.6"/><circle cx="354.7" cy="540.3" r="10.6"/><circle cx="150" cy="845.9" r="10.6"/><circle cx="146.7" cy="845" r="10.6"/><circle cx="385" cy="569.2" r="10.6"/><circle cx="274.8" cy="677.1" r="10.6"/><circle cx="287.3" cy="643.5" r="10.6"/><circle cx="194.9" cy="811.5" r="10.6"/><circle cx="148.6" cy="852.7" r="10.6"/><circle cx="417.1" cy="532.3" r="10.6"/><circle cx="256.5" cy="632.8" r="10.6"/><circle cx="279" cy="615" r="10.6"/><circle cx="302.5" cy="622.7" r="10.6"/><circle cx="302.5" cy="572.3" r="10.6"/><circle cx="323.8" cy="582.4" r="10.6"/><circle cx="346" cy="573.4" r="10.6"/><circle cx="236.4" cy="634" r="10.6"/><circle cx="258.8" cy="658.6" r="10.6"/><circle cx="229.6" cy="685.5" r="10.6"/><circle cx="218.4" cy="701" r="10.6"/><circle cx="198.3" cy="729" r="10.6"/><circle cx="221.8" cy="750.5" r="10.6"/><circle cx="175.9" cy="788.6" r="10.6"/><circle cx="196" cy="781.8" r="10.6"/><circle cx="225.2" cy="784" r="10.6"/><circle cx="516.5" cy="566.7" r="10.6"/><circle cx="440.3" cy="622.7" r="10.6"/><circle cx="458.2" cy="600.3" r="10.6"/><circle cx="408.9" cy="641.8" r="10.6"/><circle cx="386.5" cy="658.6" r="10.6"/><circle cx="359.6" cy="683.2" r="10.6"/><circle cx="364" cy="662" r="10.6"/><circle cx="300.2" cy="707.9" r="10.6"/><circle cx="296.9" cy="747.1" r="10.6"/><circle cx="279" cy="741.5" r="10.6"/><circle cx="263.3" cy="737" r="10.6"/><circle cx="209.5" cy="822" r="10.6"/><circle cx="238.6" cy="758.3" r="10.6"/><circle cx="353" cy="344" r="10.6"/><circle cx="380.5" cy="339" r="10.6"/><circle cx="792" cy="270" r="10.6"/><circle cx="808" cy="289.5" r="10.6"/><circle cx="845" cy="286" r="10.6"/><circle cx="601" cy="276" r="10.6"/><circle cx="519" cy="605" r="10.6"/><circle cx="582" cy="500" r="10.6"/><circle cx="539" cy="531" r="10.6"/><circle cx="721" cy="339" r="10.6"/><circle cx="735" cy="312" r="10.6"/><circle cx="717.6" cy="208.5" r="10.6"/><circle cx="743" cy="230" r="10.6"/><circle cx="744" cy="260.6" r="10.6"/><circle cx="212.5" cy="605" r="10.6"/><circle cx="246.5" cy="600" r="10.6"/><circle cx="340.6" cy="509.6" r="10.6"/><circle cx="358" cy="476" r="10.6"/><circle cx="406" cy="420" r="10.6"/><circle cx="387" cy="441" r="10.6"/><circle cx="424" cy="438" r="10.6"/><circle cx="444" cy="419" r="10.6"/><circle cx="473" cy="403" r="10.6"/><circle cx="504.5" cy="385.6" r="10.6"/><circle cx="529" cy="380.5" r="10.6"/><circle cx="558" cy="390.7" r="10.6"/><circle cx="658" cy="253" r="10.6"/><circle cx="587" cy="309" r="10.6"/><circle cx="627.5" cy="299.6" r="10.6"/><circle cx="691" cy="248" r="10.6"/><circle cx="615" cy="409" r="10.6"/><circle cx="597" cy="434" r="10.6"/><circle cx="585.5" cy="460.5" r="10.6"/><circle cx="660" cy="372" r="10.6"/><circle cx="656" cy="356" r="10.6"/><circle cx="630" cy="362" r="10.6"/><circle cx="688" cy="315" r="10.6"/><circle cx="701" cy="292.5" r="10.6"/><circle cx="711.9" cy="229.4" r="10.6"/><circle cx="663.6" cy="278.9" r="10.6"/><circle cx="591.9" cy="308" r="10.6"/><circle cx="620.9" cy="316" r="10.6"/><circle cx="732.7" cy="286.3" r="10.6"/><circle cx="660.7" cy="316" r="10.6"/><circle cx="657.1" cy="338.2" r="10.6"/><circle cx="581.5" cy="345.6" r="10.6"/><circle cx="605.2" cy="329.3" r="10.6"/><circle cx="565.2" cy="354.5" r="10.6"/><circle cx="596.3" cy="391.6" r="10.6"/><circle cx="560.8" cy="447.3" r="10.6"/><circle cx="540" cy="490.8" r="10.6"/><circle cx="508.9" cy="524.9" r="10.6"/><circle cx="486.7" cy="502.7" r="10.6"/><circle cx="464.5" cy="487.9" r="10.6"/><circle cx="473.3" cy="534.4" r="10.6"/><circle cx="498.5" cy="548.6" r="10.6"/><circle cx="525.8" cy="459.7" r="10.6"/><circle cx="488.2" cy="458.2" r="10.6"/><circle cx="504.5" cy="428.6" r="10.6"/><circle cx="523.7" cy="416.7" r="10.6"/><circle cx="468.9" cy="430.1" r="10.6"/><circle cx="562.3" cy="388.6" r="10.6"/><circle cx="428.9" cy="462.7" r="10.6"/><circle cx="439.3" cy="504.2" r="10.6"/><circle cx="561.7" cy="502.7" r="10.6"/>
</g>
<path d="M153.3 839 L845 110" stroke="#5B9BD5" stroke-width="2.7" fill="none"/>
<path d="M153.3 842.4 L845 96.5" stroke="#ED7D31" stroke-width="2.7" fill="none"/>
<path d="M153.3 838 L845 104" stroke="#A5A5A5" stroke-width="2.7" fill="none"/>
<path d="M153.3 836.8 L845 116.5" stroke="#4472C4" stroke-width="2.7" fill="none"/>
<path d="M153.3 833.7 L845 112.5" stroke="#FFC000" stroke-width="2.7" fill="none"/>
<g class="ser" font-size="28.3" fill="#000">
<text x="146.7" y="901" text-anchor="middle" font-size="29.8" letter-spacing="0.2">0</text>
<text x="337.5" y="901" text-anchor="middle" font-size="29.8" letter-spacing="0.2">500</text>
<text x="528.3" y="901" text-anchor="middle" font-size="29.8" letter-spacing="0.2">1000</text>
<text x="719.1" y="901" text-anchor="middle" font-size="29.8" letter-spacing="0.2">1500</text>
<text x="909.9" y="901" text-anchor="middle" font-size="29.8" letter-spacing="0.2">2000</text>
<text x="118.3" y="861.6" text-anchor="end" font-size="29.8" letter-spacing="0.2">0</text>
<text x="118.3" y="736.3" text-anchor="end" font-size="29.8" letter-spacing="0.2">300</text>
<text x="118.3" y="611.1" text-anchor="end" font-size="29.8" letter-spacing="0.2">600</text>
<text x="118.3" y="485.8" text-anchor="end" font-size="29.8" letter-spacing="0.2">900</text>
<text x="118.3" y="360.5" text-anchor="end" font-size="29.8" letter-spacing="0.2">1200</text>
<text x="118.3" y="235.3" text-anchor="end" font-size="29.8" letter-spacing="0.2">1500</text>
<text x="118.3" y="110" text-anchor="end" font-size="29.8" letter-spacing="0.2">1800</text>
<text x="160.5" y="92.5" font-size="60" letter-spacing="0.9">(a)</text>
<circle cx="715" cy="608" r="8.3" fill="#fff" stroke="#5B9BD5" stroke-opacity="0.6" stroke-width="10.4"/>
<text x="730" y="618.7" font-size="31.5" letter-spacing="0.55">LSTM</text>
<circle cx="715" cy="654" r="8.3" fill="#fff" stroke="#ED7D31" stroke-opacity="0.6" stroke-width="10.4"/>
<text x="730" y="664.7" font-size="31.5" letter-spacing="0.55">Bi-LSTM</text>
<circle cx="715" cy="700" r="8.3" fill="#fff" stroke="#A5A5A5" stroke-opacity="0.6" stroke-width="10.4"/>
<text x="730" y="710.7" font-size="31.5" letter-spacing="0.55">GRU</text>
<circle cx="715" cy="746" r="8.3" fill="#fff" stroke="#FFC000" stroke-opacity="0.6" stroke-width="10.4"/>
<text x="730" y="756.7" font-size="31.5" letter-spacing="0.55">MLP</text>
<circle cx="715" cy="792" r="8.3" fill="#fff" stroke="#4472C4" stroke-opacity="0.6" stroke-width="10.4"/>
<text x="730" y="802.7" font-size="31.5" letter-spacing="0.55">XGBoost</text>
<text y="957.5" font-size="43.2" font-weight="bold"><tspan x="402.6" letter-spacing="1.3">PM</tspan><tspan x="473" y="966.3" font-size="27.6">10</tspan><tspan x="498.4" y="957.5"> (Actual)</tspan></text>
<text transform="translate(31.4 544.5) rotate(-90)" font-size="43.2" font-weight="bold"><tspan x="0" y="0" letter-spacing="1.3">PM</tspan><tspan x="70.4" y="8.8" font-size="27.6">10</tspan><tspan x="95.8" y="0"> (MLs)</tspan></text>
</g>
</g>
<g id="taylor">
<defs><clipPath id="tq"><path d="M1182.6 872.8 L1908.6 872.8 A726.0 772.9499999999999 0 0 0 1182.6 99.85000000000002 Z"/></clipPath></defs>
<g fill="none" stroke="#b2b2b2" stroke-width="2">
<path d="M1255.2 872.8 A72.6 77.3 0 0 0 1182.6 795.5"/>
<path d="M1327.8 872.8 A145.2 154.6 0 0 0 1182.6 718.2"/>
<path d="M1400.4 872.8 A217.8 231.9 0 0 0 1182.6 640.9"/>
<path d="M1473 872.8 A290.4 309.2 0 0 0 1182.6 563.6"/>
<path d="M1545.6 872.8 A363 386.5 0 0 0 1182.6 486.3"/>
<path d="M1618.2 872.8 A435.6 463.8 0 0 0 1182.6 409"/>
<path d="M1690.8 872.8 A508.2 541.1 0 0 0 1182.6 331.7"/>
<path d="M1763.4 872.8 A580.8 618.4 0 0 0 1182.6 254.4"/>
<path d="M1836 872.8 A653.4 695.7 0 0 0 1182.6 177.1"/>
<path d="M1182.6 872.8 L1255.2 103.7"/>
<path d="M1182.6 872.8 L1327.8 115.5"/>
<path d="M1182.6 872.8 L1400.4 135.5"/>
<path d="M1182.6 872.8 L1473 164.4"/>
<path d="M1182.6 872.8 L1545.6 203.4"/>
<path d="M1182.6 872.8 L1618.2 254.4"/>
<path d="M1182.6 872.8 L1690.8 320.8"/>
<path d="M1182.6 872.8 L1763.4 409"/>
<path d="M1182.6 872.8 L1836 535.9"/>
<path d="M1182.6 872.8 L1872.3 631.4"/>
<path d="M1182.6 872.8 L1901.3 763.8"/>
</g>
<g fill="none" stroke="#808080" stroke-width="3.2" clip-path="url(#tq)">
<path d="M1424.3 144.2 L1421.3 145.3 L1418.3 146.5 L1415.3 147.6 L1412.3 148.8 L1409.4 150 L1406.4 151.2 L1403.5 152.4 L1400.5 153.6 L1397.6 154.9 L1394.6 156.1 L1391.7 157.4 L1388.8 158.7 L1385.8 160 L1382.9 161.3 L1380 162.6 L1377.1 164 L1374.2 165.3 L1371.3 166.7 L1368.4 168.1 L1365.5 169.4 L1362.7 170.9 L1359.8 172.3 L1356.9 173.7 L1354 175.1 L1351.2 176.6 L1348.3 178.1 L1345.5 179.6 L1342.7 181.1 L1339.8 182.6 L1337 184.1 L1334.2 185.6 L1331.4 187.2 L1328.6 188.7 L1325.8 190.3 L1323 191.9 L1320.2 193.5 L1317.4 195.1 L1314.6 196.8 L1311.9 198.4 L1309.1 200.1"/>
<path d="M1250.2 239.6 L1247.6 241.6 L1245 243.5 L1242.4 245.5 L1239.9 247.5 L1237.3 249.5 L1234.8 251.5 L1232.2 253.5 L1229.7 255.5 L1227.2 257.5 L1224.6 259.6 L1222.1 261.6 L1219.6 263.7 L1217.1 265.8 L1214.7 267.9 L1212.2 270 L1209.7 272.1 L1207.3 274.2 L1204.8 276.4 L1202.4 278.5 L1199.9 280.7 L1197.5 282.9 L1195.1 285 L1192.7 287.2 L1190.3 289.4 L1187.9 291.7 L1185.5 293.9 L1183.2 296.1"/>
<path d="M1621 256.3 L1618.5 256.6 L1616 256.8 L1613.5 257 L1610.9 257.3 L1608.4 257.6 L1605.9 257.8 L1603.4 258.1 L1600.9 258.4 L1598.3 258.7 L1595.8 259 L1593.3 259.4 L1590.8 259.7 L1588.3 260.1 L1585.8 260.5 L1583.3 260.8 L1580.8 261.2 L1578.2 261.6 L1575.7 262.1 L1573.2 262.5 L1570.7 262.9 L1568.2 263.4 L1565.7 263.8 L1563.3 264.3 L1560.8 264.8 L1558.3 265.3 L1555.8 265.8 L1553.3 266.3 L1550.8 266.9 L1548.3 267.4 L1545.8 268 L1543.4 268.5 L1540.9 269.1 L1538.4 269.7 L1535.9 270.3 L1533.5 270.9 L1531 271.5 L1528.6 272.2 L1526.1 272.8 L1523.6 273.5 L1521.2 274.1 L1518.7 274.8 L1516.3 275.5 L1513.8 276.2 L1511.4 276.9 L1508.9 277.7 L1506.5 278.4 L1504.1 279.1 L1501.6 279.9 L1499.2 280.7 L1496.8 281.5 L1494.4 282.3 L1492 283.1 L1489.5 283.9 L1487.1 284.7 L1484.7 285.5 L1482.3 286.4 L1479.9 287.3 L1477.5 288.1 L1475.1 289 L1472.7 289.9 L1470.3 290.8 L1468 291.7 L1465.6 292.7 L1463.2 293.6 L1460.8 294.5 L1458.5 295.5 L1456.1 296.5 L1453.7 297.5 L1451.4 298.5 L1449 299.5 L1446.7 300.5 L1444.3 301.5 L1442 302.5 L1439.7 303.6 L1437.3 304.7 L1435 305.7 L1432.7 306.8 L1430.4 307.9 L1428.1 309 L1425.7 310.1 L1423.4 311.2 L1421.1 312.4 L1418.8 313.5 L1416.6 314.7 L1414.3 315.8 L1412 317 L1409.7 318.2 L1407.4 319.4 L1405.2 320.6 L1402.9 321.8 L1400.7 323.1 L1398.4 324.3 L1396.2 325.6 L1393.9 326.8 L1391.7 328.1 L1389.5 329.4 L1387.2 330.7 L1385 332 L1382.8 333.3 L1380.6 334.6 L1378.4 335.9 L1376.2 337.3 L1374 338.6 L1371.8 340 L1369.6 341.4 L1367.5 342.8 L1365.3 344.2 L1363.1 345.6 L1361 347 L1358.8 348.4 L1356.7 349.8 L1354.5 351.3 L1352.4 352.7 L1350.3 354.2 L1348.2 355.7 L1346 357.2 L1343.9 358.7 L1341.8 360.2 L1339.7 361.7 L1337.6 363.2 L1335.5 364.7 L1333.5 366.3 L1331.4 367.8 L1329.3 369.4 L1327.3 371 L1325.2 372.5 L1323.2 374.1 L1321.1 375.7 L1319.1 377.3 L1317.1 379 L1315 380.6 L1313 382.2 L1311 383.9 L1309 385.5 L1307 387.2 L1305 388.9 L1303.1 390.6 L1301.1 392.2 L1299.1 393.9 L1297.2 395.7 L1295.2 397.4 L1293.3 399.1 L1291.3 400.8 L1289.4 402.6 L1287.5 404.4 L1285.6 406.1 L1283.7 407.9 L1281.8 409.7 L1279.9 411.5 L1278 413.3 L1276.1 415.1 L1274.2 416.9 L1272.4 418.7 L1270.5 420.6 L1268.6 422.4"/>
<path d="M1223.3 473.3 L1221.7 475.3 L1220.1 477.4 L1218.4 479.5 L1216.8 481.6 L1215.2 483.7 L1213.6 485.8 L1212.1 487.9 L1210.5 490 L1208.9 492.1 L1207.4 494.2 L1205.8 496.4 L1204.3 498.5 L1202.8 500.7 L1201.2 502.8 L1199.7 505 L1198.2 507.2 L1196.7 509.3 L1195.2 511.5 L1193.8 513.7 L1192.3 515.9 L1190.8 518.1 L1189.4 520.3 L1187.9 522.6 L1186.5 524.8 L1185.1 527 L1183.7 529.3 L1182.3 531.5"/>
<path d="M1773.8 423.3 L1772 422.8 L1770.1 422.3 L1768.3 421.8 L1766.4 421.4 L1764.6 420.9 L1762.7 420.5 L1760.9 420 L1759 419.6 L1757.2 419.2 L1755.3 418.7 L1753.4 418.3 L1751.6 417.9 L1749.7 417.6 L1747.8 417.2 L1746 416.8 L1744.1 416.4 L1742.2 416.1 L1740.4 415.7 L1738.5 415.4 L1736.6 415.1 L1734.7 414.7 L1732.9 414.4 L1731 414.1 L1729.1 413.8 L1727.2 413.5 L1725.3 413.3 L1723.5 413 L1721.6 412.7 L1719.7 412.5 L1717.8 412.2 L1715.9 412 L1714 411.8 L1712.1 411.6 L1710.2 411.4 L1708.4 411.2 L1706.5 411 L1704.6 410.8 L1702.7 410.6 L1700.8 410.5 L1698.9 410.3 L1697 410.2 L1695.1 410 L1693.2 409.9 L1691.3 409.8 L1689.4 409.7 L1687.5 409.6 L1685.6 409.5 L1683.7 409.4 L1681.8 409.3 L1679.9 409.2 L1678 409.2 L1676.1 409.1 L1674.2 409.1 L1672.3 409.1 L1670.4 409 L1668.5 409 L1666.6 409 L1664.7 409 L1662.8 409 L1660.9 409.1 L1659 409.1 L1657.1 409.1 L1655.2 409.2 L1653.3 409.2 L1651.4 409.3 L1649.5 409.4 L1647.6 409.5 L1645.7 409.6 L1643.8 409.7 L1641.9 409.8 L1640 409.9 L1638.1 410 L1636.2 410.2 L1634.3 410.3 L1632.4 410.5 L1630.5 410.6 L1628.6 410.8 L1626.7 411 L1624.8 411.2 L1623 411.4 L1621.1 411.6 L1619.2 411.8 L1617.3 412 L1615.4 412.2 L1613.5 412.5 L1611.6 412.7 L1609.7 413 L1607.9 413.3 L1606 413.5 L1604.1 413.8 L1602.2 414.1 L1600.3 414.4 L1598.5 414.7 L1596.6 415.1 L1594.7 415.4 L1592.8 415.7 L1591 416.1 L1589.1 416.4 L1587.2 416.8 L1585.4 417.2 L1583.5 417.6 L1581.6 417.9 L1579.8 418.3 L1577.9 418.7 L1576 419.2 L1574.2 419.6 L1572.3 420 L1570.5 420.5 L1568.6 420.9 L1566.8 421.4 L1564.9 421.8 L1563.1 422.3 L1561.2 422.8 L1559.4 423.3 L1557.5 423.8 L1555.7 424.3 L1553.9 424.8 L1552 425.4 L1550.2 425.9 L1548.4 426.4 L1546.5 427 L1544.7 427.6 L1542.9 428.1 L1541.1 428.7 L1539.2 429.3 L1537.4 429.9 L1535.6 430.5 L1533.8 431.1 L1532 431.7 L1530.2 432.4 L1528.4 433 L1526.6 433.6 L1524.8 434.3 L1523 435 L1521.2 435.6 L1519.4 436.3 L1517.6 437 L1515.8 437.7 L1514 438.4 L1512.3 439.1 L1510.5 439.8 L1508.7 440.6 L1507 441.3 L1505.2 442 L1503.4 442.8 L1501.7 443.6 L1499.9 444.3 L1498.1 445.1 L1496.4 445.9 L1494.6 446.7 L1492.9 447.5 L1491.2 448.3 L1489.4 449.1 L1487.7 450 L1486 450.8 L1484.2 451.6 L1482.5 452.5 L1480.8 453.3 L1479.1 454.2 L1477.4 455.1 L1475.6 456 L1473.9 456.9 L1472.2 457.8 L1470.5 458.7 L1468.8 459.6 L1467.2 460.5 L1465.5 461.4 L1463.8 462.4 L1462.1 463.3 L1460.4 464.3 L1458.7 465.2 L1457.1 466.2 L1455.4 467.2 L1453.8 468.2 L1452.1 469.2 L1450.4 470.2 L1448.8 471.2 L1447.2 472.2 L1445.5 473.2 L1443.9 474.2 L1442.2 475.3 L1440.6 476.3 L1439 477.4 L1437.4 478.4 L1435.8 479.5 L1434.2 480.6 L1432.6 481.7 L1431 482.8 L1429.4 483.8 L1427.8 485 L1426.2 486.1 L1424.6 487.2 L1423 488.3 L1421.4 489.5 L1419.9 490.6 L1418.3 491.7 L1416.8 492.9 L1415.2 494.1 L1413.6 495.2 L1412.1 496.4 L1410.6 497.6 L1409 498.8 L1407.5 500 L1406 501.2 L1404.4 502.4 L1402.9 503.6 L1401.4 504.9 L1399.9 506.1 L1398.4 507.3 L1396.9 508.6 L1395.4 509.8 L1393.9 511.1 L1392.5 512.4 L1391 513.7 L1389.5 514.9 L1388.1 516.2 L1386.6 517.5 L1385.1 518.8 L1383.7 520.1 L1382.3 521.5 L1380.8 522.8 L1379.4 524.1 L1378 525.5 L1376.5 526.8 L1375.1 528.2 L1373.7 529.5 L1372.3 530.9 L1370.9 532.2 L1369.5 533.6 L1368.1 535 L1366.8 536.4 L1365.4 537.8 L1364 539.2 L1362.6 540.6 L1361.3 542 L1359.9 543.4 L1358.6 544.9 L1357.2 546.3 L1355.9 547.7 L1354.6 549.2 L1353.3 550.6 L1351.9 552.1 L1350.6 553.6 L1349.3 555 L1348 556.5 L1346.7 558 L1345.4 559.5 L1344.2 561 L1342.9 562.5 L1341.6 564 L1340.4 565.5 L1339.1 567 L1337.8 568.5 L1336.6 570.1 L1335.4 571.6 L1334.1 573.1 L1332.9 574.7 L1331.7 576.2 L1330.5 577.8 L1329.3 579.4 L1328.1 580.9 L1326.9 582.5 L1325.7 584.1 L1324.5 585.7 L1323.3 587.3 L1322.2 588.9 L1321 590.5 L1319.9 592.1 L1318.7 593.7 L1317.6 595.3 L1316.4 596.9 L1315.3 598.6 L1314.2 600.2 L1313.1 601.8 L1312 603.5 L1310.9 605.1 L1309.8 606.8 L1308.7 608.5 L1307.6 610.1 L1306.5 611.8 L1305.5 613.5 L1304.4 615.1 L1303.4 616.8 L1302.3 618.5 L1301.3 620.2 L1300.2 621.9 L1299.2 623.6 L1298.2 625.3 L1297.2 627 L1296.2 628.8 L1295.2 630.5 L1294.2 632.2 L1293.2 633.9 L1292.2 635.7 L1291.3 637.4 L1290.3 639.2 L1289.4 640.9 L1288.4 642.7 L1287.5 644.4 L1286.5 646.2 L1285.6 648 L1284.7 649.7 L1283.8 651.5 L1282.9 653.3 L1282 655.1 L1281.1 656.9 L1280.2 658.7 L1279.3 660.5 L1278.5 662.3 L1277.6 664.1 L1276.8 665.9 L1275.9 667.7 L1275.1 669.5 L1274.3 671.3 L1273.4 673.1 L1272.6 675 L1271.8 676.8 L1271 678.6 L1270.2 680.5 L1269.4 682.3 L1268.7 684.2 L1267.9 686 L1267.1 687.9 L1266.4 689.7 L1265.6 691.6 L1264.9 693.5 L1264.2 695.3 L1263.4 697.2 L1262.7 699.1 L1262 700.9 L1261.3 702.8 L1260.6 704.7 L1259.9 706.6 L1259.3 708.5 L1258.6 710.4 L1257.9 712.3 L1257.3 714.2 L1256.6 716.1 L1256 718 L1255.4 719.9 L1254.7 721.8 L1254.1 723.7 L1253.5 725.6 L1252.9 727.6 L1252.3 729.5 L1251.7 731.4 L1251.2 733.3 L1250.6 735.3 L1250 737.2 L1249.5 739.1 L1248.9 741.1 L1248.4 743 L1247.9 745 L1247.4 746.9 L1246.8 748.9 L1246.3 750.8 L1245.8 752.8 L1245.4 754.7 L1244.9 756.7 L1244.4 758.6 L1243.9 760.6 L1243.5 762.6 L1243 764.5 L1242.6 766.5 L1242.2 768.5 L1241.7 770.4 L1241.3 772.4 L1240.9 774.4 L1240.5 776.4 L1240.1 778.4 L1239.7 780.3 L1239.4 782.3 L1239 784.3 L1238.6 786.3 L1238.3 788.3 L1238 790.3 L1237.6 792.3 L1237.3 794.3 L1237 796.3 L1236.7 798.3 L1236.4 800.3 L1236.1 802.2 L1235.8 804.3 L1235.5 806.3 L1235.2 808.3 L1235 810.3 L1234.7 812.3 L1234.5 814.3 L1234.2 816.3"/>
<path d="M1882.4 665.9 L1881.6 664.9 L1880.7 663.9 L1879.8 662.9 L1879 661.9 L1878.1 661 L1877.2 660 L1876.4 659 L1875.5 658 L1874.6 657.1 L1873.7 656.1 L1872.8 655.1 L1871.9 654.2 L1871 653.2 L1870.1 652.3 L1869.2 651.3 L1868.3 650.4 L1867.4 649.5 L1866.5 648.5 L1865.6 647.6 L1864.7 646.7 L1863.7 645.8 L1862.8 644.8 L1861.9 643.9 L1860.9 643 L1860 642.1 L1859 641.2 L1858.1 640.3 L1857.1 639.5 L1856.2 638.6 L1855.2 637.7 L1854.2 636.8 L1853.3 636 L1852.3 635.1 L1851.3 634.2 L1850.3 633.4 L1849.4 632.5 L1848.4 631.7 L1847.4 630.8 L1846.4 630 L1845.4 629.2 L1844.4 628.3 L1843.4 627.5 L1842.4 626.7 L1841.4 625.9 L1840.4 625.1 L1839.3 624.3 L1838.3 623.5 L1837.3 622.7 L1836.3 621.9 L1835.2 621.1 L1834.2 620.3 L1833.2 619.5 L1832.1 618.8 L1831.1 618 L1830 617.2 L1829 616.5 L1827.9 615.7 L1826.9 615 L1825.8 614.2 L1824.8 613.5 L1823.7 612.8 L1822.6 612 L1821.6 611.3 L1820.5 610.6 L1819.4 609.9 L1818.3 609.2 L1817.3 608.5 L1816.2 607.8 L1815.1 607.1 L1814 606.4 L1812.9 605.7 L1811.8 605 L1810.7 604.4 L1809.6 603.7 L1808.5 603 L1807.4 602.4 L1806.3 601.7 L1805.2 601.1 L1804.1 600.4 L1802.9 599.8 L1801.8 599.2 L1800.7 598.6 L1799.6 597.9 L1798.4 597.3 L1797.3 596.7 L1796.2 596.1 L1795 595.5 L1793.9 594.9 L1792.8 594.3 L1791.6 593.7 L1790.5 593.2 L1789.3 592.6 L1788.2 592 L1787 591.5 L1785.9 590.9 L1784.7 590.4 L1783.6 589.8 L1782.4 589.3 L1781.2 588.7 L1780.1 588.2 L1778.9 587.7 L1777.7 587.2 L1776.6 586.6 L1775.4 586.1 L1774.2 585.6 L1773 585.1 L1771.9 584.6 L1770.7 584.2 L1769.5 583.7 L1768.3 583.2 L1767.1 582.7 L1765.9 582.3 L1764.7 581.8 L1763.5 581.4 L1762.3 580.9 L1761.1 580.5 L1759.9 580 L1758.7 579.6 L1757.5 579.2 L1756.3 578.8 L1755.1 578.3 L1753.9 577.9 L1752.7 577.5 L1751.5 577.1 L1750.3 576.7 L1749.1 576.4 L1747.9 576 L1746.6 575.6 L1745.4 575.2 L1744.2 574.9 L1743 574.5 L1741.8 574.2 L1740.5 573.8 L1739.3 573.5 L1738.1 573.1 L1736.9 572.8 L1735.6 572.5 L1734.4 572.2 L1733.2 571.9 L1731.9 571.5 L1730.7 571.2 L1729.5 570.9 L1728.2 570.7 L1727 570.4 L1725.7 570.1 L1724.5 569.8 L1723.3 569.6 L1722 569.3 L1720.8 569 L1719.5 568.8 L1718.3 568.6 L1717 568.3 L1715.8 568.1 L1714.5 567.9 L1713.3 567.6 L1712 567.4 L1710.8 567.2 L1709.5 567 L1708.3 566.8 L1707 566.6 L1705.8 566.4 L1704.5 566.3 L1703.2 566.1 L1702 565.9 L1700.7 565.8 L1699.5 565.6 L1698.2 565.5 L1697 565.3 L1695.7 565.2 L1694.4 565 L1693.2 564.9 L1691.9 564.8 L1690.6 564.7 L1689.4 564.6 L1688.1 564.5 L1686.9 564.4 L1685.6 564.3 L1684.3 564.2 L1683.1 564.1 L1681.8 564 L1680.5 564 L1679.3 563.9 L1678 563.9 L1676.7 563.8 L1675.5 563.8 L1674.2 563.7 L1672.9 563.7 L1671.7 563.7 L1670.4 563.6 L1669.1 563.6 L1667.9 563.6 L1666.6 563.6 L1665.3 563.6 L1664.1 563.6 L1662.8 563.6 L1661.5 563.7 L1660.3 563.7 L1659 563.7 L1657.7 563.8 L1656.5 563.8 L1655.2 563.9 L1653.9 563.9 L1652.7 564 L1651.4 564 L1650.1 564.1 L1648.9 564.2 L1647.6 564.3 L1646.3 564.4 L1645.1 564.5 L1643.8 564.6 L1642.6 564.7 L1641.3 564.8 L1640 564.9 L1638.8 565 L1637.5 565.2 L1636.2 565.3 L1635 565.5 L1633.7 565.6 L1632.5 565.8 L1631.2 565.9 L1630 566.1 L1628.7 566.3 L1627.4 566.4 L1626.2 566.6 L1624.9 566.8 L1623.7 567 L1622.4 567.2 L1621.2 567.4 L1619.9 567.6 L1618.7 567.9 L1617.4 568.1 L1616.2 568.3 L1614.9 568.6 L1613.7 568.8 L1612.4 569 L1611.2 569.3 L1609.9 569.6 L1608.7 569.8 L1607.5 570.1 L1606.2 570.4 L1605 570.7 L1603.7 570.9 L1602.5 571.2 L1601.3 571.5 L1600 571.9 L1598.8 572.2 L1597.6 572.5 L1596.3 572.8 L1595.1 573.1 L1593.9 573.5 L1592.7 573.8 L1591.4 574.2 L1590.2 574.5 L1589 574.9 L1587.8 575.2 L1586.6 575.6 L1585.3 576 L1584.1 576.4 L1582.9 576.7 L1581.7 577.1 L1580.5 577.5 L1579.3 577.9 L1578.1 578.3 L1576.9 578.8 L1575.7 579.2 L1574.5 579.6 L1573.3 580 L1572.1 580.5 L1570.9 580.9 L1569.7 581.4 L1568.5 581.8 L1567.3 582.3 L1566.1 582.7 L1564.9 583.2 L1563.7 583.7 L1562.5 584.2 L1561.3 584.6 L1560.2 585.1 L1559 585.6 L1557.8 586.1 L1556.6 586.6 L1555.5 587.2 L1554.3 587.7 L1553.1 588.2 L1552 588.7 L1550.8 589.3 L1549.6 589.8 L1548.5 590.4 L1547.3 590.9 L1546.2 591.5 L1545 592 L1543.9 592.6 L1542.7 593.2 L1541.6 593.7 L1540.4 594.3 L1539.3 594.9 L1538.2 595.5 L1537 596.1 L1535.9 596.7 L1534.8 597.3 L1533.6 597.9 L1532.5 598.6 L1531.4 599.2 L1530.3 599.8 L1529.1 600.4 L1528 601.1 L1526.9 601.7 L1525.8 602.4 L1524.7 603 L1523.6 603.7 L1522.5 604.4 L1521.4 605 L1520.3 605.7 L1519.2 606.4 L1518.1 607.1 L1517 607.8 L1515.9 608.5 L1514.9 609.2 L1513.8 609.9 L1512.7 610.6 L1511.6 611.3 L1510.6 612 L1509.5 612.8 L1508.4 613.5 L1507.4 614.2 L1506.3 615 L1505.3 615.7 L1504.2 616.5 L1503.2 617.2 L1502.1 618 L1501.1 618.8 L1500 619.5 L1499 620.3 L1498 621.1 L1496.9 621.9 L1495.9 622.7 L1494.9 623.5 L1493.9 624.3 L1492.8 625.1 L1491.8 625.9 L1490.8 626.7 L1489.8 627.5 L1488.8 628.3 L1487.8 629.2 L1486.8 630 L1485.8 630.8 L1484.8 631.7 L1483.8 632.5 L1482.9 633.4 L1481.9 634.2 L1480.9 635.1 L1479.9 636 L1479 636.8 L1478 637.7 L1477 638.6 L1476.1 639.5 L1475.1 640.3 L1474.2 641.2 L1473.2 642.1 L1472.3 643 L1471.3 643.9 L1470.4 644.8 L1469.5 645.8 L1468.5 646.7 L1467.6 647.6 L1466.7 648.5 L1465.8 649.5 L1464.9 650.4 L1464 651.3 L1463.1 652.3 L1462.2 653.2 L1461.3 654.2 L1460.4 655.1 L1459.5 656.1 L1458.6 657.1 L1457.7 658 L1456.8 659 L1456 660 L1455.1 661 L1454.2 661.9 L1453.4 662.9 L1452.5 663.9 L1451.6 664.9 L1450.8 665.9 L1449.9 666.9 L1449.1 667.9 L1448.3 668.9 L1447.4 670 L1446.6 671 L1445.8 672 L1445 673 L1444.1 674.1 L1443.3 675.1 L1442.5 676.1 L1441.7 677.2 L1440.9 678.2 L1440.1 679.3 L1439.3 680.3 L1438.5 681.4 L1437.8 682.4 L1437 683.5 L1436.2 684.6 L1435.4 685.7 L1434.7 686.7 L1433.9 687.8 L1433.2 688.9 L1432.4 690 L1431.7 691.1 L1430.9 692.2 L1430.2 693.3 L1429.4 694.4 L1428.7 695.5 L1428 696.6 L1427.3 697.7 L1426.6 698.8 L1425.8 699.9 L1425.1 701 L1424.4 702.2 L1423.7 703.3 L1423.1 704.4 L1422.4 705.5 L1421.7 706.7 L1421 707.8 L1420.3 709 L1419.7 710.1 L1419 711.3 L1418.3 712.4 L1417.7 713.6 L1417 714.7 L1416.4 715.9 L1415.7 717 L1415.1 718.2 L1414.5 719.4 L1413.8 720.6 L1413.2 721.7 L1412.6 722.9 L1412 724.1 L1411.4 725.3 L1410.8 726.5 L1410.2 727.6 L1409.6 728.8 L1409 730 L1408.4 731.2 L1407.9 732.4 L1407.3 733.6 L1406.7 734.8 L1406.1 736.1 L1405.6 737.3 L1405 738.5 L1404.5 739.7 L1403.9 740.9 L1403.4 742.1 L1402.9 743.4 L1402.3 744.6 L1401.8 745.8 L1401.3 747 L1400.8 748.3 L1400.3 749.5 L1399.8 750.8 L1399.3 752 L1398.8 753.2 L1398.3 754.5 L1397.8 755.7 L1397.3 757 L1396.9 758.2 L1396.4 759.5 L1395.9 760.7 L1395.5 762 L1395 763.3 L1394.6 764.5 L1394.1 765.8 L1393.7 767.1 L1393.3 768.3 L1392.9 769.6 L1392.4 770.9"/>
<path d="M1378.2 836.5 L1378.1 837.8 L1377.9 839.1 L1377.8 840.5 L1377.7 841.8 L1377.5 843.2 L1377.4 844.5 L1377.3 845.9 L1377.2 847.2 L1377.1 848.5 L1377 849.9 L1376.9 851.2 L1376.8 852.6 L1376.7 853.9 L1376.7 855.3 L1376.6 856.6 L1376.5 858 L1376.5 859.3 L1376.4 860.7 L1376.4 862 L1376.3 863.4 L1376.3 864.7 L1376.3 866.1 L1376.2 867.4 L1376.2 868.8 L1376.2 870.1 L1376.2 871.5 L1376.2 872.8"/>
<path d="M1811.8 872.8 L1811.8 872.1 L1811.8 871.5 L1811.8 870.8 L1811.8 870.1 L1811.8 869.4 L1811.8 868.8 L1811.7 868.1 L1811.7 867.4 L1811.7 866.7 L1811.7 866.1 L1811.6 865.4 L1811.6 864.7 L1811.6 864 L1811.5 863.4 L1811.5 862.7 L1811.4 862 L1811.4 861.3 L1811.4 860.7 L1811.3 860 L1811.2 859.3 L1811.2 858.7 L1811.1 858 L1811.1 857.3 L1811 856.6 L1810.9 856 L1810.9 855.3 L1810.8 854.6 L1810.7 854 L1810.6 853.3 L1810.6 852.6 L1810.5 852 L1810.4 851.3 L1810.3 850.6 L1810.2 850 L1810.1 849.3 L1810 848.6 L1809.9 848 L1809.8 847.3 L1809.7 846.6 L1809.6 846 L1809.5 845.3 L1809.4 844.6 L1809.3 844 L1809.1 843.3 L1809 842.6 L1808.9 842 L1808.8 841.3 L1808.6 840.7 L1808.5 840 L1808.4 839.3 L1808.2 838.7 L1808.1 838 L1807.9 837.4 L1807.8 836.7 L1807.6 836.1 L1807.5 835.4 L1807.3 834.7 L1807.2 834.1 L1807 833.4 L1806.9 832.8 L1806.7 832.1 L1806.5 831.5 L1806.3 830.8 L1806.2 830.2 L1806 829.5 L1805.8 828.9 L1805.6 828.2 L1805.5 827.6 L1805.3 827 L1805.1 826.3 L1804.9 825.7 L1804.7 825 L1804.5 824.4 L1804.3 823.7 L1804.1 823.1 L1803.9 822.5 L1803.7 821.8 L1803.5 821.2 L1803.3 820.6 L1803 819.9 L1802.8 819.3 L1802.6 818.7 L1802.4 818 L1802.2 817.4 L1801.9 816.8 L1801.7 816.1 L1801.5 815.5 L1801.2 814.9 L1801 814.3 L1800.7 813.6 L1800.5 813 L1800.3 812.4 L1800 811.8 L1799.8 811.2 L1799.5 810.5 L1799.2 809.9 L1799 809.3 L1798.7 808.7 L1798.5 808.1 L1798.2 807.5 L1797.9 806.9 L1797.7 806.2 L1797.4 805.6 L1797.1 805 L1796.8 804.4 L1796.5 803.8 L1796.3 803.2 L1796 802.6 L1795.7 802 L1795.4 801.4 L1795.1 800.8 L1794.8 800.2 L1794.5 799.6 L1794.2 799 L1793.9 798.4 L1793.6 797.9 L1793.3 797.3 L1793 796.7 L1792.7 796.1 L1792.3 795.5 L1792 794.9 L1791.7 794.3 L1791.4 793.8 L1791.1 793.2 L1790.7 792.6 L1790.4 792 L1790.1 791.5 L1789.7 790.9 L1789.4 790.3 L1789.1 789.7 L1788.7 789.2 L1788.4 788.6 L1788 788 L1787.7 787.5 L1787.3 786.9 L1787 786.4 L1786.6 785.8 L1786.3 785.2 L1785.9 784.7 L1785.5 784.1 L1785.2 783.6 L1784.8 783 L1784.4 782.5 L1784.1 781.9 L1783.7 781.4 L1783.3 780.8 L1782.9 780.3 L1782.6 779.8 L1782.2 779.2 L1781.8 778.7 L1781.4 778.2 L1781 777.6 L1780.6 777.1 L1780.2 776.6 L1779.8 776 L1779.4 775.5 L1779 775 L1778.6 774.5 L1778.2 773.9 L1777.8 773.4 L1777.4 772.9 L1777 772.4 L1776.6 771.9 L1776.2 771.4 L1775.8 770.9 L1775.3 770.4 L1774.9 769.9 L1774.5 769.4 L1774.1 768.9 L1773.7 768.4 L1773.2 767.9 L1772.8 767.4 L1772.4 766.9 L1771.9 766.4 L1771.5 765.9 L1771 765.4 L1770.6 764.9 L1770.2 764.4 L1769.7 764 L1769.3 763.5 L1768.8 763 L1768.4 762.5 L1767.9 762.1 L1767.5 761.6 L1767 761.1 L1766.5 760.7 L1766.1 760.2 L1765.6 759.7 L1765.2 759.3 L1764.7 758.8 L1764.2 758.4 L1763.8 757.9 L1763.3 757.5 L1762.8 757 L1762.3 756.6 L1761.9 756.1 L1761.4 755.7 L1760.9 755.2 L1760.4 754.8 L1759.9 754.4 L1759.4 753.9 L1759 753.5 L1758.5 753.1 L1758 752.7 L1757.5 752.2 L1757 751.8 L1756.5 751.4 L1756 751 L1755.5 750.6 L1755 750.2 L1754.5 749.7 L1754 749.3 L1753.5 748.9 L1753 748.5 L1752.5 748.1 L1751.9 747.7 L1751.4 747.3 L1750.9 746.9 L1750.4 746.6 L1749.9 746.2 L1749.4 745.8 L1748.8 745.4 L1748.3 745 L1747.8 744.6 L1747.3 744.3 L1746.7 743.9 L1746.2 743.5 L1745.7 743.1 L1745.1 742.8 L1744.6 742.4 L1744.1 742.1 L1743.5 741.7 L1743 741.3 L1742.5 741 L1741.9 740.6 L1741.4 740.3 L1740.8 739.9 L1740.3 739.6 L1739.7 739.3 L1739.2 738.9 L1738.7 738.6 L1738.1 738.3 L1737.5 737.9 L1737 737.6 L1736.4 737.3 L1735.9 736.9 L1735.3 736.6 L1734.8 736.3 L1734.2 736 L1733.6 735.7 L1733.1 735.4 L1732.5 735.1 L1732 734.8 L1731.4 734.5 L1730.8 734.2 L1730.3 733.9 L1729.7 733.6 L1729.1 733.3 L1728.5 733 L1728 732.7 L1727.4 732.4 L1726.8 732.1 L1726.2 731.9 L1725.7 731.6 L1725.1 731.3 L1724.5 731 L1723.9 730.8 L1723.3 730.5 L1722.8 730.2 L1722.2 730 L1721.6 729.7 L1721 729.5 L1720.4 729.2 L1719.8 729 L1719.2 728.7 L1718.6 728.5 L1718 728.2 L1717.5 728 L1716.9 727.8 L1716.3 727.5 L1715.7 727.3 L1715.1 727.1 L1714.5 726.9 L1713.9 726.6 L1713.3 726.4 L1712.7 726.2 L1712.1 726 L1711.5 725.8 L1710.9 725.6 L1710.3 725.4 L1709.7 725.2 L1709.1 725 L1708.4 724.8 L1707.8 724.6 L1707.2 724.4 L1706.6 724.2 L1706 724 L1705.4 723.8 L1704.8 723.7 L1704.2 723.5 L1703.6 723.3 L1703 723.1 L1702.3 723 L1701.7 722.8 L1701.1 722.6 L1700.5 722.5 L1699.9 722.3 L1699.3 722.2 L1698.6 722 L1698 721.9 L1697.4 721.7 L1696.8 721.6 L1696.2 721.4 L1695.5 721.3 L1694.9 721.2 L1694.3 721.1 L1693.7 720.9 L1693.1 720.8 L1692.4 720.7 L1691.8 720.6 L1691.2 720.4 L1690.6 720.3 L1689.9 720.2 L1689.3 720.1 L1688.7 720 L1688.1 719.9 L1687.4 719.8 L1686.8 719.7 L1686.2 719.6 L1685.6 719.5 L1684.9 719.4 L1684.3 719.4 L1683.7 719.3 L1683 719.2 L1682.4 719.1 L1681.8 719.1 L1681.1 719 L1680.5 718.9 L1679.9 718.9 L1679.3 718.8 L1678.6 718.7 L1678 718.7 L1677.4 718.6 L1676.7 718.6 L1676.1 718.5 L1675.5 718.5 L1674.8 718.5 L1674.2 718.4 L1673.6 718.4 L1672.9 718.4 L1672.3 718.3 L1671.7 718.3 L1671 718.3 L1670.4 718.3 L1669.8 718.2 L1669.1 718.2 L1668.5 718.2 L1667.9 718.2 L1667.2 718.2 L1666.6 718.2 L1666 718.2 L1665.3 718.2 L1664.7 718.2 L1664.1 718.2 L1663.4 718.2 L1662.8 718.3 L1662.2 718.3 L1661.5 718.3 L1660.9 718.3 L1660.3 718.4 L1659.6 718.4 L1659 718.4 L1658.4 718.5 L1657.7 718.5 L1657.1 718.5 L1656.5 718.6 L1655.8 718.6 L1655.2 718.7 L1654.6 718.7 L1653.9 718.8 L1653.3 718.9 L1652.7 718.9 L1652.1 719 L1651.4 719.1 L1650.8 719.1 L1650.2 719.2 L1649.5 719.3 L1648.9 719.4 L1648.3 719.4 L1647.6 719.5 L1647 719.6 L1646.4 719.7 L1645.8 719.8 L1645.1 719.9 L1644.5 720 L1643.9 720.1 L1643.3 720.2 L1642.6 720.3 L1642 720.4 L1641.4 720.6 L1640.8 720.7 L1640.1 720.8 L1639.5 720.9 L1638.9 721.1 L1638.3 721.2 L1637.7 721.3 L1637 721.4 L1636.4 721.6 L1635.8 721.7 L1635.2 721.9 L1634.6 722 L1633.9 722.2 L1633.3 722.3 L1632.7 722.5 L1632.1 722.6 L1631.5 722.8 L1630.9 723 L1630.2 723.1 L1629.6 723.3 L1629 723.5 L1628.4 723.7 L1627.8 723.8 L1627.2 724 L1626.6 724.2 L1626 724.4 L1625.4 724.6 L1624.8 724.8 L1624.1 725 L1623.5 725.2 L1622.9 725.4 L1622.3 725.6 L1621.7 725.8 L1621.1 726 L1620.5 726.2 L1619.9 726.4 L1619.3 726.6 L1618.7 726.9 L1618.1 727.1 L1617.5 727.3 L1616.9 727.5 L1616.3 727.8 L1615.7 728 L1615.2 728.2 L1614.6 728.5 L1614 728.7 L1613.4 729 L1612.8 729.2 L1612.2 729.5 L1611.6 729.7 L1611 730 L1610.4 730.2 L1609.9 730.5 L1609.3 730.8 L1608.7 731 L1608.1 731.3 L1607.5 731.6 L1607 731.9 L1606.4 732.1 L1605.8 732.4 L1605.2 732.7 L1604.7 733 L1604.1 733.3 L1603.5 733.6 L1602.9 733.9 L1602.4 734.2 L1601.8 734.5 L1601.2 734.8 L1600.7 735.1 L1600.1 735.4 L1599.6 735.7 L1599 736 L1598.4 736.3 L1597.9 736.6 L1597.3 736.9 L1596.8 737.3 L1596.2 737.6 L1595.7 737.9 L1595.1 738.3 L1594.5 738.6 L1594 738.9 L1593.5 739.3 L1592.9 739.6 L1592.4 739.9 L1591.8 740.3 L1591.3 740.6 L1590.7 741 L1590.2 741.3 L1589.7 741.7 L1589.1 742.1 L1588.6 742.4 L1588.1 742.8 L1587.5 743.1 L1587 743.5 L1586.5 743.9 L1585.9 744.3 L1585.4 744.6 L1584.9 745 L1584.4 745.4 L1583.8 745.8 L1583.3 746.2 L1582.8 746.6 L1582.3 746.9 L1581.8 747.3 L1581.3 747.7 L1580.7 748.1 L1580.2 748.5 L1579.7 748.9 L1579.2 749.3 L1578.7 749.7 L1578.2 750.2 L1577.7 750.6 L1577.2 751 L1576.7 751.4 L1576.2 751.8 L1575.7 752.2 L1575.2 752.7 L1574.7 753.1 L1574.2 753.5 L1573.8 753.9 L1573.3 754.4 L1572.8 754.8 L1572.3 755.2 L1571.8 755.7 L1571.3 756.1 L1570.9 756.6 L1570.4 757 L1569.9 757.5 L1569.4 757.9 L1569 758.4 L1568.5 758.8"/>
<path d="M1532.5 813.6 L1532.2 814.3 L1532 814.9 L1531.7 815.5 L1531.5 816.1 L1531.3 816.8 L1531 817.4 L1530.8 818 L1530.6 818.7 L1530.4 819.3 L1530.2 819.9 L1529.9 820.6 L1529.7 821.2 L1529.5 821.8 L1529.3 822.5 L1529.1 823.1 L1528.9 823.7 L1528.7 824.4 L1528.5 825 L1528.3 825.7 L1528.1 826.3 L1527.9 827 L1527.7 827.6 L1527.6 828.2 L1527.4 828.9 L1527.2 829.5 L1527 830.2 L1526.9 830.8 L1526.7 831.5 L1526.5 832.1 L1526.3 832.8 L1526.2 833.4 L1526 834.1 L1525.9 834.7 L1525.7 835.4 L1525.6 836.1 L1525.4 836.7 L1525.3 837.4 L1525.1 838 L1525 838.7 L1524.8 839.3 L1524.7 840 L1524.6 840.7 L1524.4 841.3 L1524.3 842 L1524.2 842.6 L1524.1 843.3 L1523.9 844 L1523.8 844.6 L1523.7 845.3 L1523.6 846 L1523.5 846.6 L1523.4 847.3 L1523.3 848 L1523.2 848.6 L1523.1 849.3 L1523 850 L1522.9 850.6 L1522.8 851.3 L1522.7 852 L1522.6 852.6 L1522.6 853.3 L1522.5 854 L1522.4 854.6 L1522.3 855.3 L1522.3 856 L1522.2 856.6 L1522.1 857.3 L1522.1 858 L1522 858.7 L1522 859.3 L1521.9 860 L1521.8 860.7 L1521.8 861.3 L1521.8 862 L1521.7 862.7 L1521.7 863.4 L1521.6 864 L1521.6 864.7 L1521.6 865.4 L1521.5 866.1 L1521.5 866.7 L1521.5 867.4 L1521.5 868.1 L1521.4 868.8 L1521.4 869.4 L1521.4 870.1 L1521.4 870.8 L1521.4 871.5 L1521.4 872.1 L1521.4 872.8"/>
</g>
<g class="san" font-size="28" fill="#808080" text-anchor="middle" clip-path="url(#tq)">
<text transform="translate(1279.2 219.1) rotate(-33.9)" y="10.2">1.5</text>
<text transform="translate(1245.3 447.1) rotate(-48.3)" y="10.2">1.2</text>
<text transform="translate(1231.3 856.6) rotate(-88.1)" y="10.2">0.9</text>
<text transform="translate(1383.6 803.2) rotate(-77.8)" y="10.2">0.6</text>
<text transform="translate(1547.3 784.7) rotate(-56.9)" y="10.2">0.3</text>
</g>
<path d="M1666.6 872.8 A484.0 515.3 0 0 0 1182.6 357.5" fill="none" stroke="#000" stroke-width="3.2" stroke-dasharray="14.5 7"/>
<path d="M1182.6 99.9 L1182.6 872.8 L1908.6 872.8 A726.0 772.9499999999999 0 0 0 1182.6 99.9" fill="none" stroke="#111" stroke-width="2.2"/>
<g stroke="#111" stroke-width="2.2">
<path d="M1182.6 872.8 v-10.5"/>
<path d="M1182.6 872.8 h10.5"/>
<path d="M1255.2 872.8 v-10.5"/>
<path d="M1182.6 795.5 h10.5"/>
<path d="M1327.8 872.8 v-10.5"/>
<path d="M1182.6 718.2 h10.5"/>
<path d="M1400.4 872.8 v-10.5"/>
<path d="M1182.6 640.9 h10.5"/>
<path d="M1473 872.8 v-10.5"/>
<path d="M1182.6 563.6 h10.5"/>
<path d="M1545.6 872.8 v-10.5"/>
<path d="M1182.6 486.3 h10.5"/>
<path d="M1618.2 872.8 v-10.5"/>
<path d="M1182.6 409 h10.5"/>
<path d="M1690.8 872.8 v-10.5"/>
<path d="M1182.6 331.7 h10.5"/>
<path d="M1763.4 872.8 v-10.5"/>
<path d="M1182.6 254.4 h10.5"/>
<path d="M1836 872.8 v-10.5"/>
<path d="M1182.6 177.1 h10.5"/>
<path d="M1182.6 99.9 l0 10.5"/>
<path d="M1255.2 103.7 l-1 10.5"/>
<path d="M1327.8 115.5 l-2 10.3"/>
<path d="M1400.4 135.5 l-3 10.1"/>
<path d="M1473 164.4 l-4 9.7"/>
<path d="M1545.6 203.4 l-5 9.2"/>
<path d="M1618.2 254.4 l-6 8.6"/>
<path d="M1690.8 320.8 l-7.1 7.7"/>
<path d="M1763.4 409 l-8.2 6.6"/>
<path d="M1836 535.9 l-9.3 4.8"/>
<path d="M1872.3 631.4 l-9.9 3.5"/>
<path d="M1901.3 763.8 l-10.4 1.6"/>
<path d="M1908.6 872.8 l-10.5 0"/>
</g>
<g class="san" font-size="28.5" fill="#000">
<text x="1175.1" y="881.8" text-anchor="end" font-size="28.3">0.00</text>
<text transform="translate(1189.6 883.3) rotate(-90)" text-anchor="end" font-size="29.2">0.00</text>
<text x="1175.1" y="804.5" text-anchor="end" font-size="28.3">0.15</text>
<text transform="translate(1262.2 883.3) rotate(-90)" text-anchor="end" font-size="29.2">0.15</text>
<text x="1175.1" y="727.2" text-anchor="end" font-size="28.3">0.30</text>
<text transform="translate(1334.8 883.3) rotate(-90)" text-anchor="end" font-size="29.2">0.30</text>
<text x="1175.1" y="649.9" text-anchor="end" font-size="28.3">0.45</text>
<text transform="translate(1407.4 883.3) rotate(-90)" text-anchor="end" font-size="29.2">0.45</text>
<text x="1175.1" y="572.6" text-anchor="end" font-size="28.3">0.60</text>
<text transform="translate(1480 883.3) rotate(-90)" text-anchor="end" font-size="29.2">0.60</text>
<text x="1175.1" y="495.3" text-anchor="end" font-size="28.3">0.75</text>
<text transform="translate(1552.6 883.3) rotate(-90)" text-anchor="end" font-size="29.2">0.75</text>
<text x="1175.1" y="418" text-anchor="end" font-size="28.3">0.90</text>
<text transform="translate(1625.2 883.3) rotate(-90)" text-anchor="end" font-size="29.2">0.90</text>
<text x="1175.1" y="340.7" text-anchor="end" font-size="28.3">1.05</text>
<text transform="translate(1697.8 883.3) rotate(-90)" text-anchor="end" font-size="29.2">1.05</text>
<text x="1175.1" y="263.4" text-anchor="end" font-size="28.3">1.20</text>
<text transform="translate(1770.4 883.3) rotate(-90)" text-anchor="end" font-size="29.2">1.20</text>
<text x="1175.1" y="186.1" text-anchor="end" font-size="28.3">1.35</text>
<text transform="translate(1843 883.3) rotate(-90)" text-anchor="end" font-size="29.2">1.35</text>
<text transform="translate(1182.6 78.6) rotate(0)" text-anchor="middle" y="10.4">0.0</text>
<text transform="translate(1257.5 82.5) rotate(5.7)" text-anchor="middle" y="10.4">0.1</text>
<text transform="translate(1332.3 94.7) rotate(11.5)" text-anchor="middle" y="10.4">0.2</text>
<text transform="translate(1407.2 115.3) rotate(17.5)" text-anchor="middle" y="10.4">0.3</text>
<text transform="translate(1482 145.1) rotate(23.6)" text-anchor="middle" y="10.4">0.4</text>
<text transform="translate(1556.8 185.3) rotate(30)" text-anchor="middle" y="10.4">0.5</text>
<text transform="translate(1631.5 237.8) rotate(36.9)" text-anchor="middle" y="10.4">0.6</text>
<text transform="translate(1706.2 306.1) rotate(44.4)" text-anchor="middle" y="10.4">0.7</text>
<text transform="translate(1780.8 396.8) rotate(53.1)" text-anchor="middle" y="10.4">0.8</text>
<text transform="translate(1855.4 527.1) rotate(64.2)" text-anchor="middle" y="10.4">0.9</text>
<text transform="translate(1892.7 625.2) rotate(71.8)" text-anchor="middle" y="10.4">0.95</text>
<text transform="translate(1922.5 760.9) rotate(81.9)" text-anchor="middle" y="10.4">0.99</text>
<text transform="translate(1929.9 872.8) rotate(90)" text-anchor="middle" y="10.4">1.0</text>
<text x="1545.4" y="987" text-anchor="middle" font-size="27.8">Standard deviation</text>
<text transform="translate(1090.5 488) rotate(-90)" text-anchor="middle" font-size="29.5">Standard deviation</text>
<text transform="translate(1739.5 281.7) rotate(46.3)" text-anchor="middle" y="8">Correlation coefficient</text>
<text x="1544.8" y="75" text-anchor="middle" font-size="34">(b)</text>
</g>
<polygon points="1665.8,859.4 1668.5,867.8 1677.4,867.8 1670.2,873 1673,881.5 1665.8,876.3 1658.6,881.5 1661.4,873 1654.2,867.8 1663.1,867.8" fill="#000" stroke="#000" stroke-width="1.2" stroke-linejoin="round"/>
<rect x="1643.8" y="775.7" width="27.5" height="29" fill="#e41a1c"/>
<ellipse cx="1659.5" cy="789" rx="13.8" ry="14.5" fill="#4daf4a"/>
<polygon points="1654.3,777 1639.8,806 1668.8,806" fill="#ff7f00"/>
<polygon points="1643.2,740.3 1663.7,760.8 1643.2,781.3 1622.7,760.8" fill="#a65628"/>
<polygon points="1645,789.5 1630.5,760.5 1659.5,760.5" fill="#999999"/>
<rect x="1805.4" y="9.4" width="195.8" height="227.5" rx="4" fill="#fff" fill-opacity="0.8" stroke="#cccccc" stroke-width="1.6"/>
<path d="M1812 67.3 H1863.2" stroke="#1f77b4" stroke-width="4"/>
<path d="M1812 104 H1863.2" stroke="#ff7f0e" stroke-width="4"/>
<path d="M1812 140.1 H1863.2" stroke="#2ca02c" stroke-width="4"/>
<path d="M1812 176.7 H1863.2" stroke="#d62728" stroke-width="4"/>
<path d="M1812 213.4 H1863.2" stroke="#9467bd" stroke-width="4"/>
<polygon points="1837.9,18.5 1840.6,26.9 1849.5,26.9 1842.3,32.1 1845.1,40.6 1837.9,35.4 1830.7,40.6 1833.5,32.1 1826.3,26.9 1835.2,26.9" fill="#000" stroke="#000" stroke-width="1.2" stroke-linejoin="round"/>
<rect x="1824.1" y="52.8" width="27.5" height="29" fill="#e41a1c"/>
<ellipse cx="1837.9" cy="104" rx="13.8" ry="14.5" fill="#4daf4a"/>
<polygon points="1837.9,125.6 1823.4,154.6 1852.4,154.6" fill="#ff7f00"/>
<polygon points="1837.9,156.2 1858.4,176.7 1837.9,197.2 1817.4,176.7" fill="#a65628"/>
<polygon points="1837.9,227.9 1823.4,198.9 1852.4,198.9" fill="#999999"/>
<g class="san" font-size="23.2" fill="#000">
<text x="1880" y="39.5">Observed</text>
<text x="1880" y="76.1">LSTM</text>
<text x="1880" y="112.8">Bi-LSTM</text>
<text x="1880" y="148.9">GRU</text>
<text x="1880" y="185.5">MLP</text>
<text x="1880" y="222.2">XGBoost</text>
</g>
</g>
<g id="table">
<rect x="191" y="1015.5" width="1629" height="366.5" fill="#fff"/>
<path d="M191 1014.3 V1383" stroke="#a0a0a0" stroke-width="1.8"/>
<path d="M1820 1014.3 V1383" stroke="#a0a0a0" stroke-width="2.6"/>
<path d="M190.1 1015.5 H1821.3" stroke="#9c9c9c" stroke-width="2.4"/>
<path d="M190.1 1382 H1821.3" stroke="#a0a0a0" stroke-width="2.4"/>
<line x1="460" y1="1015.5" x2="460" y2="1382" stroke="#a2a2a2" stroke-width="1.7"/>
<line x1="686.5" y1="1015.5" x2="686.5" y2="1382" stroke="#a2a2a2" stroke-width="1.7"/>
<line x1="913" y1="1015.5" x2="913" y2="1382" stroke="#a2a2a2" stroke-width="1.7"/>
<line x1="1141" y1="1015.5" x2="1141" y2="1382" stroke="#a2a2a2" stroke-width="1.7"/>
<line x1="1367" y1="1015.5" x2="1367" y2="1382" stroke="#a2a2a2" stroke-width="1.7"/>
<line x1="1593" y1="1015.5" x2="1593" y2="1382" stroke="#a2a2a2" stroke-width="1.7"/>
<line x1="191" y1="1140" x2="1820" y2="1140" stroke="#a2a2a2" stroke-width="1.7"/>
<line x1="191" y1="1201" x2="1820" y2="1201" stroke="#a2a2a2" stroke-width="1.7"/>
<line x1="191" y1="1261" x2="1820" y2="1261" stroke="#a2a2a2" stroke-width="1.7"/>
<line x1="191" y1="1321.5" x2="1820" y2="1321.5" stroke="#a2a2a2" stroke-width="1.7"/>
<line x1="191" y1="1077.3999999999999" x2="1820" y2="1077.3999999999999" stroke="#6a6a6a" stroke-width="6.2"/>
<g class="ser" font-size="48.8" text-anchor="middle" fill="#000">
<text x="325.5" y="1060" font-weight="bold">(c)</text>
<text x="573.25" y="1060" font-weight="bold">R²</text>
<text x="799.75" y="1060" font-weight="bold">RMSE</text>
<text x="1027.0" y="1060" font-weight="bold">MAE</text>
<text x="1254.0" y="1060" font-weight="bold">MSE</text>
<text x="1480.0" y="1060" font-weight="bold">σ</text>
<text x="1706.5" y="1060" font-weight="bold">WI</text>
<text x="325.5" y="1126" font-weight="bold">LSTM</text>
<text x="573.25" y="1126">0.974</text>
<text x="799.75" y="1126">43.699</text>
<text x="1027.0" y="1126">26.044</text>
<text x="1254.0" y="1126">1909.585</text>
<text x="1480.0" y="1126">43.697</text>
<text x="1706.5" y="1126">0.978</text>
<text x="325.5" y="1187" font-weight="bold">Bi-LSTM</text>
<text x="573.25" y="1187">0.975</text>
<text x="799.75" y="1187">43.126</text>
<text x="1027.0" y="1187">24.414</text>
<text x="1254.0" y="1187">1859.862</text>
<text x="1480.0" y="1187">42.961</text>
<text x="1706.5" y="1187">0.979</text>
<text x="325.5" y="1247" font-weight="bold">GRU</text>
<text x="573.25" y="1247">0.974</text>
<text x="799.75" y="1247">44.287</text>
<text x="1027.0" y="1247">28.004</text>
<text x="1254.0" y="1247">1961.331</text>
<text x="1480.0" y="1247">43.121</text>
<text x="1706.5" y="1247">0.978</text>
<text x="325.5" y="1308" font-weight="bold">MLP</text>
<text x="573.25" y="1308">0.949</text>
<text x="799.75" y="1308">61.782</text>
<text x="1027.0" y="1308">38.991</text>
<text x="1254.0" y="1308">3817.006</text>
<text x="1480.0" y="1308">60.447</text>
<text x="1706.5" y="1308">0.960</text>
<text x="325.5" y="1368" font-weight="bold">XGBoost</text>
<text x="573.25" y="1368">0.962</text>
<text x="799.75" y="1368">53.085</text>
<text x="1027.0" y="1368">29.727</text>
<text x="1254.0" y="1368">2817.991</text>
<text x="1480.0" y="1368">53.084</text>
<text x="1706.5" y="1368">0.969</text>
</g></g>
</svg></body></html>
